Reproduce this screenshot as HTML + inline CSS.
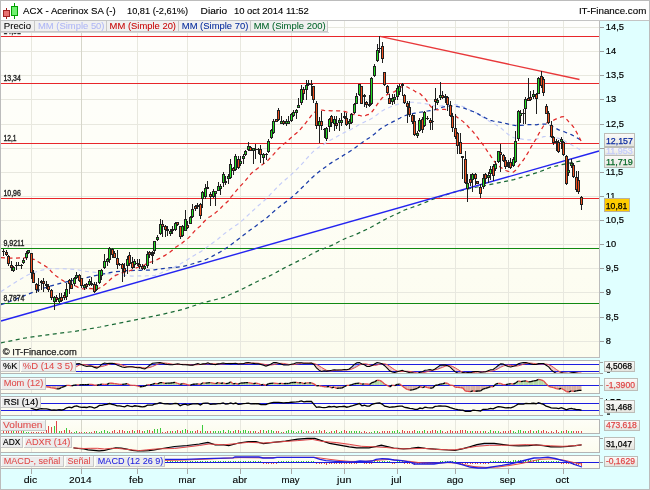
<!DOCTYPE html>
<html><head><meta charset="utf-8"><style>
html,body{margin:0;padding:0;background:#E0FFFF;}
svg{display:block;}
</style></head><body>
<svg width="650" height="490" viewBox="0 0 650 490">
<defs><linearGradient id="vbg" x1="0" y1="0" x2="0" y2="1"><stop offset="0" stop-color="#FBFBFA"/><stop offset="1" stop-color="#E4E4DE"/></linearGradient></defs>
<rect x="0" y="0" width="650" height="490" fill="#E0FFFF"/>
<rect x="0" y="0" width="650" height="20" fill="#FFFFFF"/>
<rect x="0" y="20" width="650" height="1" fill="#C4C4C4"/>
<defs><linearGradient id="cbg" x1="0" y1="0" x2="0" y2="1"><stop offset="0" stop-color="#FEFEFC"/><stop offset="0.5" stop-color="#FEFEF6"/><stop offset="1" stop-color="#FCFCEE"/></linearGradient><linearGradient id="pbg" x1="0" y1="0" x2="0" y2="1"><stop offset="0" stop-color="#FEFEF8"/><stop offset="1" stop-color="#FCFCEE"/></linearGradient></defs>
<rect x="1" y="21" width="598" height="336" fill="url(#cbg)"/>
<rect x="1" y="27" width="598" height="1" fill="#E8E8DF"/>
<rect x="1" y="51" width="598" height="1" fill="#E8E8DF"/>
<rect x="1" y="75" width="598" height="1" fill="#E8E8DF"/>
<rect x="1" y="99" width="598" height="1" fill="#E8E8DF"/>
<rect x="1" y="124" width="598" height="1" fill="#E8E8DF"/>
<rect x="1" y="148" width="598" height="1" fill="#E8E8DF"/>
<rect x="1" y="172" width="598" height="1" fill="#E8E8DF"/>
<rect x="1" y="196" width="598" height="1" fill="#E8E8DF"/>
<rect x="1" y="220" width="598" height="1" fill="#E8E8DF"/>
<rect x="1" y="244" width="598" height="1" fill="#E8E8DF"/>
<rect x="1" y="268" width="598" height="1" fill="#E8E8DF"/>
<rect x="1" y="292" width="598" height="1" fill="#E8E8DF"/>
<rect x="1" y="317" width="598" height="1" fill="#E8E8DF"/>
<rect x="1" y="341" width="598" height="1" fill="#E8E8DF"/>
<rect x="31" y="21" width="1" height="336" fill="#E8E8DF"/>
<rect x="81" y="21" width="1" height="336" fill="#D6D6CA"/>
<rect x="137" y="21" width="1" height="336" fill="#E8E8DF"/>
<rect x="187" y="21" width="1" height="336" fill="#E8E8DF"/>
<rect x="240" y="21" width="1" height="336" fill="#E8E8DF"/>
<rect x="291" y="21" width="1" height="336" fill="#E8E8DF"/>
<rect x="344" y="21" width="1" height="336" fill="#E8E8DF"/>
<rect x="397" y="21" width="1" height="336" fill="#E8E8DF"/>
<rect x="455" y="21" width="1" height="336" fill="#E8E8DF"/>
<rect x="508" y="21" width="1" height="336" fill="#E8E8DF"/>
<rect x="563" y="21" width="1" height="336" fill="#E8E8DF"/>
<rect x="1" y="36" width="598" height="1" fill="#E8262A"/>
<rect x="1" y="83" width="598" height="1" fill="#E8262A"/>
<rect x="1" y="143" width="598" height="1" fill="#E8262A"/>
<rect x="1" y="198" width="598" height="1" fill="#E8262A"/>
<rect x="1" y="248" width="598" height="1" fill="#118A11"/>
<rect x="1" y="303" width="598" height="1" fill="#118A11"/>
<polyline points="1.00,342.80 20.00,339.00 30.00,337.20 55.00,333.80 75.00,331.30 100.00,327.00 130.80,320.80 161.50,314.60 183.00,309.40 201.50,303.20 223.00,297.70 238.50,290.90 254.90,282.70 262.30,279.00 269.20,276.10 276.10,272.50 283.10,268.60 290.00,265.10 297.40,261.40 304.50,258.20 311.20,254.30 318.50,250.60 326.30,247.60 333.10,244.80 340.40,240.80 347.60,237.50 355.50,234.70 362.30,231.40 369.10,228.30 376.40,224.30 383.20,220.40 390.50,216.70 397.20,213.70 404.60,210.00 411.80,207.50 419.20,204.90 426.60,201.90 433.10,199.10 441.40,196.30 449.70,193.50 457.10,191.40 464.50,189.90 472.00,188.00 484.30,185.70 501.60,182.20 513.90,179.60 526.20,175.90 538.50,172.20 550.80,167.40 563.20,164.30 573.00,162.30 581.00,161.00" fill="none" stroke="#1A6A36" stroke-width="1.2" stroke-dasharray="4 3.5"/>
<polyline points="1.00,291.60 13.90,283.20 27.70,274.90 38.80,270.80 48.50,268.70 62.30,268.70 76.20,269.40 85.00,271.30 98.90,272.70 112.70,274.10 127.20,275.57 129.72,275.81 132.25,276.08 134.77,276.01 137.30,275.95 139.82,275.94 142.34,276.01 144.87,276.03 147.39,275.79 149.91,275.67 152.44,275.69 154.96,275.50 157.48,274.78 160.01,273.60 162.53,272.33 165.06,271.22 167.58,270.17 170.10,269.11 172.63,268.01 175.15,266.67 177.67,265.21 180.20,264.01 182.72,262.52 185.25,260.95 187.77,259.47 190.29,257.86 192.82,256.27 195.34,254.78 197.86,253.12 200.39,251.88 202.91,250.22 205.44,248.35 207.96,246.38 210.48,244.62 213.01,242.71 215.53,240.92 218.05,238.94 220.58,236.82 223.10,234.59 225.62,232.82 228.15,230.95 230.67,229.01 233.20,227.25 235.72,225.41 238.24,223.67 240.77,221.75 243.29,219.56 245.81,217.30 248.34,214.84 250.86,212.42 253.39,210.21 255.91,207.92 258.43,205.55 260.96,203.44 263.48,201.25 266.00,199.01 268.53,196.46 271.05,193.73 273.58,191.08 276.10,188.42 278.62,185.75 281.15,183.35 283.67,181.08 286.19,179.02 288.72,176.90 291.24,174.58 293.76,172.22 296.29,169.79 298.81,167.28 301.34,164.60 303.86,161.98 306.38,158.94 308.91,156.11 311.43,153.41 313.95,150.86 316.48,149.05 319.00,147.29 321.53,145.63 324.05,144.10 326.57,142.33 329.10,140.87 331.62,139.57 334.14,138.19 336.67,136.76 339.19,135.35 341.72,133.93 344.24,132.56 346.76,131.35 349.29,130.29 351.81,128.93 354.33,127.48 356.86,126.12 359.38,124.39 361.90,123.33 364.43,121.90 366.95,120.75 369.48,119.74 372.00,118.28 374.52,116.68 377.05,114.68 379.57,112.66 382.09,110.87 384.62,109.57 387.14,108.33 389.67,107.32 392.19,106.18 394.71,105.29 397.24,104.45 399.76,103.74 402.28,103.01 404.81,102.67 407.33,102.37 409.85,102.21 412.38,102.22 414.90,102.49 417.43,102.88 419.95,103.04 422.47,103.44 425.00,103.58 427.52,104.17 430.04,104.74 432.57,105.47 435.09,105.83 437.62,106.14 440.14,106.05 442.66,105.48 445.19,105.00 447.71,104.56 450.23,104.30 452.76,104.29 455.28,104.65 457.81,105.12 460.33,105.82 462.85,106.45 465.38,107.70 467.90,108.94 470.42,110.25 472.95,111.23 475.47,112.40 477.99,113.77 480.52,115.57 483.04,117.20 485.57,119.09 488.09,120.53 490.61,121.98 493.14,123.42 495.66,124.59 498.18,126.06 500.71,127.83 503.23,130.03 505.76,132.41 508.28,134.51 510.80,136.17 513.33,137.48 515.85,138.22 518.37,138.49 520.90,138.83 523.42,139.34 525.95,139.62 528.47,139.93 530.99,139.85 533.52,139.60 536.04,139.27 538.56,138.40 541.09,137.43 543.61,136.63 546.13,136.50 548.66,136.36 551.18,136.87 553.71,137.37 556.23,137.77 558.75,138.38 561.28,139.13 563.80,140.23 566.32,142.00 568.85,143.45 571.37,144.77 573.90,146.22 576.42,147.70 578.94,148.98 581.47,150.34" fill="none" stroke="#C4CCF8" stroke-width="1.15" stroke-dasharray="4 3.5"/>
<polyline points="1.00,304.70 13.90,299.90 27.70,294.30 41.60,288.80 55.40,284.60 69.30,281.20 83.10,278.40 98.90,274.80 112.70,272.00 126.60,270.60 140.40,270.30 154.30,269.90 168.10,267.90 177.67,267.10 180.20,266.89 182.72,266.48 185.25,265.84 187.77,265.27 190.29,264.56 192.82,263.75 195.34,262.95 197.86,262.10 200.39,261.48 202.91,260.61 205.44,259.71 207.96,258.49 210.48,257.27 213.01,255.85 215.53,254.51 218.05,253.13 220.58,251.72 223.10,250.12 225.62,248.58 228.15,246.85 230.67,244.96 233.20,243.11 235.72,241.09 238.24,239.18 240.77,237.24 243.29,235.34 245.81,233.45 248.34,231.40 250.86,229.58 253.39,227.77 255.91,225.88 258.43,223.92 260.96,222.06 263.48,220.17 266.00,218.36 268.53,216.32 271.05,214.01 273.58,211.66 276.10,209.53 278.62,207.39 281.15,205.39 283.67,203.45 286.19,201.63 288.72,199.72 291.24,197.67 293.76,195.48 296.29,193.27 298.81,190.93 301.34,188.32 303.86,185.96 306.38,183.41 308.91,180.78 311.43,178.26 313.95,175.93 316.48,173.93 319.00,171.81 321.53,169.81 324.05,168.04 326.57,166.23 329.10,164.31 331.62,162.62 334.14,160.92 336.67,159.52 339.19,158.00 341.72,156.44 344.24,154.84 346.76,153.32 349.29,151.75 351.81,150.20 354.33,148.47 356.86,146.46 359.38,144.44 361.90,142.79 364.43,140.92 366.95,139.31 369.48,137.82 372.00,135.94 374.52,133.94 377.05,131.57 379.57,129.51 382.09,127.68 384.62,126.20 387.14,124.71 389.67,123.46 392.19,122.12 394.71,120.85 397.24,119.46 399.76,118.20 402.28,116.81 404.81,115.75 407.33,114.93 409.85,114.14 412.38,113.64 414.90,113.17 417.43,112.76 419.95,112.25 422.47,111.95 425.00,111.46 427.52,111.00 430.04,110.63 432.57,110.23 435.09,109.55 437.62,108.76 440.14,107.92 442.66,107.12 445.19,106.48 447.71,106.12 450.23,106.05 452.76,106.14 455.28,106.38 457.81,106.73 460.33,107.17 462.85,107.69 465.38,108.57 467.90,109.56 470.42,110.57 472.95,111.49 475.47,112.55 477.99,113.89 480.52,115.33 483.04,116.65 485.57,118.00 488.09,119.31 490.61,120.29 493.14,121.00 495.66,121.60 498.18,121.96 500.71,122.32 503.23,122.79 505.76,123.47 508.28,124.06 510.80,124.76 513.33,125.23 515.85,125.51 518.37,125.38 520.90,125.33 523.42,125.17 525.95,124.86 528.47,124.67 530.99,124.60 533.52,124.57 536.04,124.77 538.56,124.40 541.09,124.27 543.61,124.10 546.13,124.22 548.66,124.86 551.18,125.88 553.71,127.21 556.23,128.56 558.75,129.88 561.28,130.66 563.80,131.55 566.32,132.70 568.85,133.74 571.37,134.69 573.90,135.96 576.42,137.45 578.94,138.98 581.47,140.44" fill="none" stroke="#1A3CA8" stroke-width="1.25" stroke-dasharray="4 3.5"/>
<polyline points="1.00,257.60 13.90,258.30 27.70,257.60 34.60,259.70 41.60,263.90 48.50,268.00 51.49,271.82 54.01,274.07 56.54,276.38 59.06,278.06 61.58,279.77 64.11,281.30 66.63,282.46 69.16,283.38 71.68,284.56 74.20,285.46 76.73,286.57 79.25,288.09 81.77,288.75 84.30,288.88 86.82,288.71 89.35,288.49 91.87,288.58 94.39,288.96 96.92,288.96 99.44,287.99 101.96,286.61 104.49,284.83 107.01,282.76 109.53,280.28 112.06,277.97 114.58,275.98 117.11,274.79 119.63,273.81 122.15,272.81 124.68,272.48 127.20,271.66 129.72,270.78 132.25,269.86 134.77,268.64 137.30,267.47 139.82,266.74 142.34,265.99 144.87,264.70 147.39,263.12 149.91,262.31 152.44,261.49 154.96,260.49 157.48,259.40 160.01,258.15 162.53,256.78 165.06,255.39 167.58,253.63 170.10,251.98 172.63,250.06 175.15,247.62 177.67,245.92 180.20,244.58 182.72,242.47 185.25,240.41 187.77,238.58 190.29,236.12 192.82,233.12 195.34,230.26 197.86,227.88 200.39,225.99 202.91,222.90 205.44,220.22 207.96,217.76 210.48,216.44 213.01,214.65 215.53,212.72 218.05,210.52 220.58,208.24 223.10,205.40 225.62,203.36 228.15,200.97 230.67,197.33 233.20,194.58 235.72,191.43 238.24,188.47 240.77,185.69 243.29,183.01 245.81,180.11 248.34,177.09 250.86,173.81 253.39,171.63 255.91,169.70 258.43,167.78 260.96,165.67 263.48,163.82 266.00,161.98 268.53,159.77 271.05,156.98 273.58,154.35 276.10,151.32 278.62,148.48 281.15,146.35 283.67,143.97 286.19,142.20 288.72,139.86 291.24,137.49 293.76,135.29 296.29,133.20 298.81,131.16 301.34,128.06 303.86,125.34 306.38,122.12 308.91,118.87 311.43,115.33 313.95,112.62 316.48,111.20 319.00,110.20 321.53,110.02 324.05,110.43 326.57,110.75 329.10,110.71 331.62,110.77 334.14,110.54 336.67,110.78 339.19,110.76 341.72,111.09 344.24,111.36 346.76,112.14 349.29,112.93 351.81,114.20 354.33,114.71 356.86,115.28 359.38,115.29 361.90,116.25 364.43,116.05 366.95,114.95 369.48,114.13 372.00,111.72 374.52,108.55 377.05,104.68 379.57,101.11 382.09,97.94 384.62,96.24 387.14,94.60 389.67,93.74 392.19,92.60 394.71,91.59 397.24,89.73 399.76,87.97 402.28,86.52 404.81,86.45 407.33,86.97 409.85,88.52 412.38,89.42 414.90,91.35 417.43,92.79 419.95,93.53 422.47,96.11 425.00,98.41 427.52,101.81 430.04,105.53 432.57,108.64 435.09,109.50 437.62,109.84 440.14,109.44 442.66,109.45 445.19,109.47 447.71,110.31 450.23,111.84 452.76,113.97 455.28,115.68 457.81,117.65 460.33,119.58 462.85,121.36 465.38,123.77 467.90,126.26 470.42,129.40 472.95,131.59 475.47,134.97 477.99,138.19 480.52,141.79 483.04,144.60 485.57,148.43 488.09,152.24 490.61,155.89 493.14,159.81 495.66,163.12 498.18,165.46 500.71,167.37 503.23,169.02 505.76,170.51 508.28,171.41 510.80,172.10 513.33,172.18 515.85,170.06 518.37,166.48 520.90,163.02 523.42,160.02 525.95,156.02 528.47,151.91 530.99,147.16 533.52,142.98 536.04,138.98 538.56,134.09 541.09,129.98 543.61,125.80 546.13,123.30 548.66,121.88 551.18,121.03 553.71,120.16 556.23,118.92 558.75,118.31 561.28,116.90 563.80,116.72 566.32,118.88 568.85,121.84 571.37,124.34 573.90,127.52 576.42,132.05 578.94,136.59 581.47,141.90" fill="none" stroke="#E02828" stroke-width="1.25" stroke-dasharray="4 3.5"/>
<line x1="379.9" y1="36.4" x2="579.5" y2="79.5" stroke="#E8383A" stroke-width="1.3"/>
<line x1="1" y1="321" x2="599" y2="151" stroke="#2424F0" stroke-width="1.4"/>
<g shape-rendering="crispEdges">
<rect x="3" y="249" width="1" height="7" fill="#202020"/>
<rect x="2" y="251" width="3" height="1" fill="#202020"/>
<rect x="6" y="250" width="1" height="6" fill="#202020"/>
<rect x="5" y="252" width="3" height="3" fill="#202020"/>
<rect x="6" y="253" width="1" height="1" fill="#F0501E"/>
<rect x="8" y="255" width="1" height="11" fill="#202020"/>
<rect x="7" y="256" width="3" height="8" fill="#202020"/>
<rect x="8" y="257" width="1" height="6" fill="#F0501E"/>
<rect x="11" y="261" width="1" height="10" fill="#202020"/>
<rect x="10" y="265" width="3" height="3" fill="#202020"/>
<rect x="11" y="266" width="1" height="1" fill="#F0501E"/>
<rect x="13" y="266" width="1" height="6" fill="#202020"/>
<rect x="12" y="267" width="3" height="4" fill="#202020"/>
<rect x="13" y="268" width="1" height="2" fill="#22DD22"/>
<rect x="16" y="262" width="1" height="8" fill="#202020"/>
<rect x="15" y="265" width="3" height="1" fill="#202020"/>
<rect x="18" y="262" width="1" height="4" fill="#202020"/>
<rect x="17" y="265" width="3" height="1" fill="#202020"/>
<rect x="21" y="264" width="1" height="5" fill="#202020"/>
<rect x="20" y="265" width="3" height="1" fill="#202020"/>
<rect x="23" y="258" width="1" height="6" fill="#202020"/>
<rect x="22" y="260" width="3" height="3" fill="#202020"/>
<rect x="23" y="261" width="1" height="1" fill="#22DD22"/>
<rect x="26" y="251" width="1" height="9" fill="#202020"/>
<rect x="25" y="253" width="3" height="5" fill="#202020"/>
<rect x="26" y="254" width="1" height="3" fill="#22DD22"/>
<rect x="28" y="250" width="1" height="4" fill="#202020"/>
<rect x="27" y="250" width="3" height="3" fill="#202020"/>
<rect x="28" y="251" width="1" height="1" fill="#22DD22"/>
<rect x="31" y="253" width="1" height="26" fill="#202020"/>
<rect x="30" y="253" width="3" height="20" fill="#202020"/>
<rect x="31" y="254" width="1" height="18" fill="#F0501E"/>
<rect x="33" y="270" width="1" height="13" fill="#202020"/>
<rect x="32" y="273" width="3" height="10" fill="#202020"/>
<rect x="33" y="274" width="1" height="8" fill="#F0501E"/>
<rect x="36" y="283" width="1" height="10" fill="#202020"/>
<rect x="35" y="284" width="3" height="6" fill="#202020"/>
<rect x="36" y="285" width="1" height="4" fill="#F0501E"/>
<rect x="38" y="278" width="1" height="14" fill="#202020"/>
<rect x="37" y="285" width="3" height="1" fill="#202020"/>
<rect x="41" y="280" width="1" height="10" fill="#202020"/>
<rect x="40" y="281" width="3" height="2" fill="#202020"/>
<rect x="43" y="278" width="1" height="14" fill="#202020"/>
<rect x="42" y="281" width="3" height="3" fill="#202020"/>
<rect x="43" y="282" width="1" height="1" fill="#F0501E"/>
<rect x="46" y="281" width="1" height="8" fill="#202020"/>
<rect x="45" y="284" width="3" height="2" fill="#202020"/>
<rect x="48" y="284" width="1" height="8" fill="#202020"/>
<rect x="47" y="286" width="3" height="4" fill="#202020"/>
<rect x="48" y="287" width="1" height="2" fill="#F0501E"/>
<rect x="51" y="289" width="1" height="11" fill="#202020"/>
<rect x="50" y="290" width="3" height="8" fill="#202020"/>
<rect x="51" y="291" width="1" height="6" fill="#F0501E"/>
<rect x="54" y="296" width="1" height="14" fill="#202020"/>
<rect x="53" y="297" width="3" height="5" fill="#202020"/>
<rect x="54" y="298" width="1" height="3" fill="#22DD22"/>
<rect x="56" y="295" width="1" height="7" fill="#202020"/>
<rect x="55" y="297" width="3" height="3" fill="#202020"/>
<rect x="56" y="298" width="1" height="1" fill="#F0501E"/>
<rect x="59" y="293" width="1" height="10" fill="#202020"/>
<rect x="58" y="298" width="3" height="4" fill="#202020"/>
<rect x="59" y="299" width="1" height="2" fill="#22DD22"/>
<rect x="61" y="293" width="1" height="9" fill="#202020"/>
<rect x="60" y="297" width="3" height="4" fill="#202020"/>
<rect x="61" y="298" width="1" height="2" fill="#F0501E"/>
<rect x="64" y="292" width="1" height="8" fill="#202020"/>
<rect x="63" y="295" width="3" height="3" fill="#202020"/>
<rect x="64" y="296" width="1" height="1" fill="#F0501E"/>
<rect x="66" y="283" width="1" height="17" fill="#202020"/>
<rect x="65" y="289" width="3" height="8" fill="#202020"/>
<rect x="66" y="290" width="1" height="6" fill="#22DD22"/>
<rect x="69" y="279" width="1" height="15" fill="#202020"/>
<rect x="68" y="280" width="3" height="4" fill="#202020"/>
<rect x="69" y="281" width="1" height="2" fill="#F0501E"/>
<rect x="71" y="278" width="1" height="11" fill="#202020"/>
<rect x="70" y="284" width="3" height="5" fill="#202020"/>
<rect x="71" y="285" width="1" height="3" fill="#F0501E"/>
<rect x="74" y="277" width="1" height="9" fill="#202020"/>
<rect x="73" y="278" width="3" height="6" fill="#202020"/>
<rect x="74" y="279" width="1" height="4" fill="#22DD22"/>
<rect x="76" y="272" width="1" height="7" fill="#202020"/>
<rect x="75" y="275" width="3" height="3" fill="#202020"/>
<rect x="76" y="276" width="1" height="1" fill="#22DD22"/>
<rect x="79" y="274" width="1" height="8" fill="#202020"/>
<rect x="78" y="275" width="3" height="6" fill="#202020"/>
<rect x="79" y="276" width="1" height="4" fill="#F0501E"/>
<rect x="81" y="278" width="1" height="10" fill="#202020"/>
<rect x="80" y="278" width="3" height="8" fill="#202020"/>
<rect x="81" y="279" width="1" height="6" fill="#F0501E"/>
<rect x="84" y="284" width="1" height="6" fill="#202020"/>
<rect x="83" y="285" width="3" height="3" fill="#202020"/>
<rect x="84" y="286" width="1" height="1" fill="#22DD22"/>
<rect x="86" y="283" width="1" height="6" fill="#202020"/>
<rect x="85" y="284" width="3" height="3" fill="#202020"/>
<rect x="86" y="285" width="1" height="1" fill="#F0501E"/>
<rect x="89" y="279" width="1" height="7" fill="#202020"/>
<rect x="88" y="281" width="3" height="4" fill="#202020"/>
<rect x="89" y="282" width="1" height="2" fill="#22DD22"/>
<rect x="91" y="277" width="1" height="9" fill="#202020"/>
<rect x="90" y="283" width="3" height="2" fill="#202020"/>
<rect x="94" y="282" width="1" height="11" fill="#202020"/>
<rect x="93" y="284" width="3" height="8" fill="#202020"/>
<rect x="94" y="285" width="1" height="6" fill="#F0501E"/>
<rect x="96" y="282" width="1" height="9" fill="#202020"/>
<rect x="95" y="285" width="3" height="5" fill="#202020"/>
<rect x="96" y="286" width="1" height="3" fill="#22DD22"/>
<rect x="99" y="270" width="1" height="14" fill="#202020"/>
<rect x="98" y="270" width="3" height="13" fill="#202020"/>
<rect x="99" y="271" width="1" height="11" fill="#22DD22"/>
<rect x="101" y="269" width="1" height="11" fill="#202020"/>
<rect x="100" y="270" width="3" height="6" fill="#202020"/>
<rect x="101" y="271" width="1" height="4" fill="#22DD22"/>
<rect x="104" y="254" width="1" height="15" fill="#202020"/>
<rect x="103" y="261" width="3" height="7" fill="#202020"/>
<rect x="104" y="262" width="1" height="5" fill="#22DD22"/>
<rect x="107" y="258" width="1" height="8" fill="#202020"/>
<rect x="106" y="259" width="3" height="3" fill="#202020"/>
<rect x="107" y="260" width="1" height="1" fill="#22DD22"/>
<rect x="109" y="247" width="1" height="16" fill="#202020"/>
<rect x="108" y="248" width="3" height="12" fill="#202020"/>
<rect x="109" y="249" width="1" height="10" fill="#22DD22"/>
<rect x="112" y="248" width="1" height="10" fill="#202020"/>
<rect x="111" y="249" width="3" height="6" fill="#202020"/>
<rect x="112" y="250" width="1" height="4" fill="#F0501E"/>
<rect x="114" y="251" width="1" height="7" fill="#202020"/>
<rect x="113" y="253" width="3" height="5" fill="#202020"/>
<rect x="114" y="254" width="1" height="3" fill="#F0501E"/>
<rect x="117" y="250" width="1" height="19" fill="#202020"/>
<rect x="116" y="258" width="3" height="7" fill="#202020"/>
<rect x="117" y="259" width="1" height="5" fill="#F0501E"/>
<rect x="119" y="263" width="1" height="3" fill="#202020"/>
<rect x="118" y="264" width="3" height="1" fill="#202020"/>
<rect x="122" y="263" width="1" height="19" fill="#202020"/>
<rect x="121" y="264" width="3" height="5" fill="#202020"/>
<rect x="122" y="265" width="1" height="3" fill="#F0501E"/>
<rect x="124" y="263" width="1" height="14" fill="#202020"/>
<rect x="123" y="268" width="3" height="4" fill="#202020"/>
<rect x="124" y="269" width="1" height="2" fill="#F0501E"/>
<rect x="127" y="256" width="1" height="18" fill="#202020"/>
<rect x="126" y="259" width="3" height="7" fill="#202020"/>
<rect x="127" y="260" width="1" height="5" fill="#22DD22"/>
<rect x="129" y="252" width="1" height="14" fill="#202020"/>
<rect x="128" y="255" width="3" height="9" fill="#202020"/>
<rect x="129" y="256" width="1" height="7" fill="#F0501E"/>
<rect x="132" y="257" width="1" height="12" fill="#202020"/>
<rect x="131" y="262" width="3" height="6" fill="#202020"/>
<rect x="132" y="263" width="1" height="4" fill="#F0501E"/>
<rect x="134" y="259" width="1" height="9" fill="#202020"/>
<rect x="133" y="261" width="3" height="4" fill="#202020"/>
<rect x="134" y="262" width="1" height="2" fill="#22DD22"/>
<rect x="137" y="259" width="1" height="7" fill="#202020"/>
<rect x="136" y="263" width="3" height="1" fill="#202020"/>
<rect x="139" y="259" width="1" height="10" fill="#202020"/>
<rect x="138" y="264" width="3" height="3" fill="#202020"/>
<rect x="139" y="265" width="1" height="1" fill="#F0501E"/>
<rect x="142" y="264" width="1" height="6" fill="#202020"/>
<rect x="141" y="266" width="3" height="3" fill="#202020"/>
<rect x="142" y="267" width="1" height="1" fill="#F0501E"/>
<rect x="144" y="265" width="1" height="5" fill="#202020"/>
<rect x="143" y="266" width="3" height="3" fill="#202020"/>
<rect x="144" y="267" width="1" height="1" fill="#22DD22"/>
<rect x="147" y="251" width="1" height="17" fill="#202020"/>
<rect x="146" y="254" width="3" height="12" fill="#202020"/>
<rect x="147" y="255" width="1" height="10" fill="#22DD22"/>
<rect x="149" y="251" width="1" height="7" fill="#202020"/>
<rect x="148" y="252" width="3" height="3" fill="#202020"/>
<rect x="149" y="253" width="1" height="1" fill="#F0501E"/>
<rect x="152" y="251" width="1" height="13" fill="#202020"/>
<rect x="151" y="252" width="3" height="4" fill="#202020"/>
<rect x="154" y="241" width="1" height="13" fill="#202020"/>
<rect x="153" y="241" width="3" height="10" fill="#202020"/>
<rect x="154" y="242" width="1" height="8" fill="#22DD22"/>
<rect x="157" y="235" width="1" height="6" fill="#202020"/>
<rect x="156" y="237" width="3" height="3" fill="#202020"/>
<rect x="157" y="238" width="1" height="1" fill="#22DD22"/>
<rect x="160" y="219" width="1" height="16" fill="#202020"/>
<rect x="159" y="224" width="3" height="10" fill="#202020"/>
<rect x="160" y="225" width="1" height="8" fill="#22DD22"/>
<rect x="162" y="220" width="1" height="17" fill="#202020"/>
<rect x="161" y="224" width="3" height="3" fill="#202020"/>
<rect x="162" y="225" width="1" height="1" fill="#F0501E"/>
<rect x="165" y="225" width="1" height="12" fill="#202020"/>
<rect x="164" y="226" width="3" height="4" fill="#202020"/>
<rect x="165" y="227" width="1" height="2" fill="#F0501E"/>
<rect x="167" y="226" width="1" height="10" fill="#202020"/>
<rect x="166" y="229" width="3" height="2" fill="#202020"/>
<rect x="170" y="229" width="1" height="7" fill="#202020"/>
<rect x="169" y="231" width="3" height="3" fill="#202020"/>
<rect x="170" y="232" width="1" height="1" fill="#22DD22"/>
<rect x="172" y="226" width="1" height="8" fill="#202020"/>
<rect x="171" y="229" width="3" height="2" fill="#202020"/>
<rect x="175" y="222" width="1" height="9" fill="#202020"/>
<rect x="174" y="223" width="3" height="7" fill="#202020"/>
<rect x="175" y="224" width="1" height="5" fill="#22DD22"/>
<rect x="177" y="222" width="1" height="4" fill="#202020"/>
<rect x="176" y="222" width="3" height="3" fill="#202020"/>
<rect x="177" y="223" width="1" height="1" fill="#F0501E"/>
<rect x="180" y="226" width="1" height="13" fill="#202020"/>
<rect x="179" y="226" width="3" height="11" fill="#202020"/>
<rect x="180" y="227" width="1" height="9" fill="#F0501E"/>
<rect x="182" y="225" width="1" height="12" fill="#202020"/>
<rect x="181" y="226" width="3" height="10" fill="#202020"/>
<rect x="182" y="227" width="1" height="8" fill="#22DD22"/>
<rect x="185" y="210" width="1" height="21" fill="#202020"/>
<rect x="184" y="219" width="3" height="12" fill="#202020"/>
<rect x="185" y="220" width="1" height="10" fill="#22DD22"/>
<rect x="187" y="221" width="1" height="8" fill="#202020"/>
<rect x="186" y="225" width="3" height="3" fill="#202020"/>
<rect x="187" y="226" width="1" height="1" fill="#F0501E"/>
<rect x="190" y="216" width="1" height="8" fill="#202020"/>
<rect x="189" y="217" width="3" height="7" fill="#202020"/>
<rect x="190" y="218" width="1" height="5" fill="#22DD22"/>
<rect x="192" y="204" width="1" height="14" fill="#202020"/>
<rect x="191" y="209" width="3" height="8" fill="#202020"/>
<rect x="192" y="210" width="1" height="6" fill="#22DD22"/>
<rect x="195" y="205" width="1" height="6" fill="#202020"/>
<rect x="194" y="206" width="3" height="3" fill="#202020"/>
<rect x="195" y="207" width="1" height="1" fill="#F0501E"/>
<rect x="197" y="203" width="1" height="6" fill="#202020"/>
<rect x="196" y="205" width="3" height="2" fill="#202020"/>
<rect x="200" y="203" width="1" height="16" fill="#202020"/>
<rect x="199" y="204" width="3" height="12" fill="#202020"/>
<rect x="200" y="205" width="1" height="10" fill="#F0501E"/>
<rect x="202" y="191" width="1" height="17" fill="#202020"/>
<rect x="201" y="192" width="3" height="7" fill="#202020"/>
<rect x="202" y="193" width="1" height="5" fill="#22DD22"/>
<rect x="205" y="184" width="1" height="15" fill="#202020"/>
<rect x="204" y="188" width="3" height="9" fill="#202020"/>
<rect x="205" y="189" width="1" height="7" fill="#22DD22"/>
<rect x="207" y="181" width="1" height="8" fill="#202020"/>
<rect x="206" y="187" width="3" height="2" fill="#202020"/>
<rect x="210" y="192" width="1" height="14" fill="#202020"/>
<rect x="209" y="194" width="3" height="3" fill="#202020"/>
<rect x="210" y="195" width="1" height="1" fill="#F0501E"/>
<rect x="213" y="189" width="1" height="9" fill="#202020"/>
<rect x="212" y="191" width="3" height="6" fill="#202020"/>
<rect x="213" y="192" width="1" height="4" fill="#22DD22"/>
<rect x="215" y="191" width="1" height="15" fill="#202020"/>
<rect x="214" y="191" width="3" height="3" fill="#202020"/>
<rect x="215" y="192" width="1" height="1" fill="#22DD22"/>
<rect x="218" y="182" width="1" height="9" fill="#202020"/>
<rect x="217" y="186" width="3" height="5" fill="#202020"/>
<rect x="218" y="187" width="1" height="3" fill="#22DD22"/>
<rect x="220" y="184" width="1" height="11" fill="#202020"/>
<rect x="219" y="186" width="3" height="3" fill="#202020"/>
<rect x="220" y="187" width="1" height="1" fill="#22DD22"/>
<rect x="223" y="172" width="1" height="15" fill="#202020"/>
<rect x="222" y="174" width="3" height="9" fill="#202020"/>
<rect x="223" y="175" width="1" height="7" fill="#22DD22"/>
<rect x="225" y="176" width="1" height="9" fill="#202020"/>
<rect x="224" y="181" width="3" height="2" fill="#202020"/>
<rect x="228" y="174" width="1" height="10" fill="#202020"/>
<rect x="227" y="176" width="3" height="3" fill="#202020"/>
<rect x="228" y="177" width="1" height="1" fill="#22DD22"/>
<rect x="230" y="159" width="1" height="20" fill="#202020"/>
<rect x="229" y="164" width="3" height="14" fill="#202020"/>
<rect x="230" y="165" width="1" height="12" fill="#22DD22"/>
<rect x="233" y="167" width="1" height="8" fill="#202020"/>
<rect x="232" y="168" width="3" height="3" fill="#202020"/>
<rect x="233" y="169" width="1" height="1" fill="#F0501E"/>
<rect x="235" y="154" width="1" height="17" fill="#202020"/>
<rect x="234" y="156" width="3" height="14" fill="#202020"/>
<rect x="235" y="157" width="1" height="12" fill="#22DD22"/>
<rect x="238" y="156" width="1" height="13" fill="#202020"/>
<rect x="237" y="159" width="3" height="9" fill="#202020"/>
<rect x="238" y="160" width="1" height="7" fill="#F0501E"/>
<rect x="240" y="156" width="1" height="10" fill="#202020"/>
<rect x="239" y="161" width="3" height="3" fill="#202020"/>
<rect x="240" y="162" width="1" height="1" fill="#22DD22"/>
<rect x="243" y="154" width="1" height="10" fill="#202020"/>
<rect x="242" y="156" width="3" height="3" fill="#202020"/>
<rect x="243" y="157" width="1" height="1" fill="#22DD22"/>
<rect x="245" y="150" width="1" height="6" fill="#202020"/>
<rect x="244" y="151" width="3" height="4" fill="#202020"/>
<rect x="245" y="152" width="1" height="2" fill="#22DD22"/>
<rect x="248" y="142" width="1" height="9" fill="#202020"/>
<rect x="247" y="146" width="3" height="4" fill="#202020"/>
<rect x="248" y="147" width="1" height="2" fill="#22DD22"/>
<rect x="250" y="146" width="1" height="5" fill="#202020"/>
<rect x="249" y="147" width="3" height="4" fill="#202020"/>
<rect x="250" y="148" width="1" height="2" fill="#F0501E"/>
<rect x="253" y="149" width="1" height="15" fill="#202020"/>
<rect x="252" y="148" width="3" height="3" fill="#202020"/>
<rect x="253" y="149" width="1" height="1" fill="#22DD22"/>
<rect x="255" y="144" width="1" height="15" fill="#202020"/>
<rect x="254" y="149" width="3" height="1" fill="#202020"/>
<rect x="258" y="148" width="1" height="6" fill="#202020"/>
<rect x="257" y="149" width="3" height="1" fill="#202020"/>
<rect x="260" y="145" width="1" height="18" fill="#202020"/>
<rect x="259" y="149" width="3" height="6" fill="#202020"/>
<rect x="260" y="150" width="1" height="4" fill="#F0501E"/>
<rect x="263" y="153" width="1" height="11" fill="#202020"/>
<rect x="262" y="154" width="3" height="4" fill="#202020"/>
<rect x="263" y="155" width="1" height="2" fill="#22DD22"/>
<rect x="266" y="153" width="1" height="7" fill="#202020"/>
<rect x="265" y="154" width="3" height="1" fill="#202020"/>
<rect x="268" y="139" width="1" height="14" fill="#202020"/>
<rect x="267" y="141" width="3" height="11" fill="#202020"/>
<rect x="268" y="142" width="1" height="9" fill="#22DD22"/>
<rect x="271" y="129" width="1" height="10" fill="#202020"/>
<rect x="270" y="130" width="3" height="8" fill="#202020"/>
<rect x="271" y="131" width="1" height="6" fill="#22DD22"/>
<rect x="273" y="119" width="1" height="15" fill="#202020"/>
<rect x="272" y="121" width="3" height="12" fill="#202020"/>
<rect x="273" y="122" width="1" height="10" fill="#22DD22"/>
<rect x="276" y="119" width="1" height="3" fill="#202020"/>
<rect x="275" y="119" width="3" height="3" fill="#202020"/>
<rect x="276" y="120" width="1" height="1" fill="#F0501E"/>
<rect x="278" y="108" width="1" height="13" fill="#202020"/>
<rect x="277" y="110" width="3" height="10" fill="#202020"/>
<rect x="278" y="111" width="1" height="8" fill="#F0501E"/>
<rect x="281" y="116" width="1" height="8" fill="#202020"/>
<rect x="280" y="121" width="3" height="3" fill="#202020"/>
<rect x="281" y="122" width="1" height="1" fill="#22DD22"/>
<rect x="283" y="120" width="1" height="5" fill="#202020"/>
<rect x="282" y="121" width="3" height="3" fill="#202020"/>
<rect x="283" y="122" width="1" height="1" fill="#F0501E"/>
<rect x="286" y="119" width="1" height="7" fill="#202020"/>
<rect x="285" y="121" width="3" height="3" fill="#202020"/>
<rect x="286" y="122" width="1" height="1" fill="#22DD22"/>
<rect x="288" y="116" width="1" height="8" fill="#202020"/>
<rect x="287" y="121" width="3" height="3" fill="#202020"/>
<rect x="288" y="122" width="1" height="1" fill="#22DD22"/>
<rect x="291" y="113" width="1" height="9" fill="#202020"/>
<rect x="290" y="114" width="3" height="7" fill="#202020"/>
<rect x="291" y="115" width="1" height="5" fill="#22DD22"/>
<rect x="293" y="110" width="1" height="7" fill="#202020"/>
<rect x="292" y="112" width="3" height="4" fill="#202020"/>
<rect x="293" y="113" width="1" height="2" fill="#22DD22"/>
<rect x="296" y="109" width="1" height="10" fill="#202020"/>
<rect x="295" y="110" width="3" height="3" fill="#202020"/>
<rect x="296" y="111" width="1" height="1" fill="#22DD22"/>
<rect x="298" y="98" width="1" height="10" fill="#202020"/>
<rect x="297" y="105" width="3" height="3" fill="#202020"/>
<rect x="298" y="106" width="1" height="1" fill="#22DD22"/>
<rect x="301" y="85" width="1" height="20" fill="#202020"/>
<rect x="300" y="89" width="3" height="14" fill="#202020"/>
<rect x="301" y="90" width="1" height="12" fill="#22DD22"/>
<rect x="303" y="87" width="1" height="13" fill="#202020"/>
<rect x="302" y="89" width="3" height="5" fill="#202020"/>
<rect x="303" y="90" width="1" height="3" fill="#F0501E"/>
<rect x="306" y="80" width="1" height="20" fill="#202020"/>
<rect x="305" y="85" width="3" height="5" fill="#202020"/>
<rect x="306" y="86" width="1" height="3" fill="#22DD22"/>
<rect x="308" y="80" width="1" height="6" fill="#202020"/>
<rect x="307" y="83" width="3" height="2" fill="#202020"/>
<rect x="311" y="80" width="1" height="16" fill="#202020"/>
<rect x="310" y="84" width="3" height="1" fill="#202020"/>
<rect x="313" y="86" width="1" height="17" fill="#202020"/>
<rect x="312" y="86" width="3" height="14" fill="#202020"/>
<rect x="313" y="87" width="1" height="12" fill="#F0501E"/>
<rect x="316" y="101" width="1" height="28" fill="#202020"/>
<rect x="315" y="103" width="3" height="23" fill="#202020"/>
<rect x="316" y="104" width="1" height="21" fill="#F0501E"/>
<rect x="319" y="117" width="1" height="26" fill="#202020"/>
<rect x="318" y="121" width="3" height="5" fill="#202020"/>
<rect x="319" y="122" width="1" height="3" fill="#22DD22"/>
<rect x="321" y="111" width="1" height="19" fill="#202020"/>
<rect x="320" y="121" width="3" height="5" fill="#202020"/>
<rect x="321" y="122" width="1" height="3" fill="#F0501E"/>
<rect x="324" y="128" width="1" height="10" fill="#202020"/>
<rect x="323" y="129" width="3" height="1" fill="#202020"/>
<rect x="326" y="127" width="1" height="14" fill="#202020"/>
<rect x="325" y="128" width="3" height="11" fill="#202020"/>
<rect x="326" y="129" width="1" height="9" fill="#22DD22"/>
<rect x="329" y="118" width="1" height="14" fill="#202020"/>
<rect x="328" y="119" width="3" height="8" fill="#202020"/>
<rect x="329" y="120" width="1" height="6" fill="#22DD22"/>
<rect x="331" y="115" width="1" height="12" fill="#202020"/>
<rect x="330" y="116" width="3" height="7" fill="#202020"/>
<rect x="331" y="117" width="1" height="5" fill="#F0501E"/>
<rect x="334" y="116" width="1" height="15" fill="#202020"/>
<rect x="333" y="119" width="3" height="5" fill="#202020"/>
<rect x="334" y="120" width="1" height="3" fill="#22DD22"/>
<rect x="336" y="116" width="1" height="13" fill="#202020"/>
<rect x="335" y="123" width="3" height="3" fill="#202020"/>
<rect x="336" y="124" width="1" height="1" fill="#F0501E"/>
<rect x="339" y="118" width="1" height="13" fill="#202020"/>
<rect x="338" y="120" width="3" height="3" fill="#202020"/>
<rect x="339" y="121" width="1" height="1" fill="#22DD22"/>
<rect x="341" y="113" width="1" height="13" fill="#202020"/>
<rect x="340" y="120" width="3" height="3" fill="#202020"/>
<rect x="341" y="121" width="1" height="1" fill="#22DD22"/>
<rect x="344" y="112" width="1" height="7" fill="#202020"/>
<rect x="343" y="116" width="3" height="2" fill="#202020"/>
<rect x="346" y="113" width="1" height="13" fill="#202020"/>
<rect x="345" y="118" width="3" height="7" fill="#202020"/>
<rect x="346" y="119" width="1" height="5" fill="#F0501E"/>
<rect x="349" y="119" width="1" height="10" fill="#202020"/>
<rect x="348" y="121" width="3" height="3" fill="#202020"/>
<rect x="349" y="122" width="1" height="1" fill="#22DD22"/>
<rect x="351" y="113" width="1" height="11" fill="#202020"/>
<rect x="350" y="114" width="3" height="9" fill="#202020"/>
<rect x="351" y="115" width="1" height="7" fill="#22DD22"/>
<rect x="354" y="103" width="1" height="11" fill="#202020"/>
<rect x="353" y="104" width="3" height="9" fill="#202020"/>
<rect x="354" y="105" width="1" height="7" fill="#22DD22"/>
<rect x="356" y="93" width="1" height="11" fill="#202020"/>
<rect x="355" y="96" width="3" height="8" fill="#202020"/>
<rect x="356" y="97" width="1" height="6" fill="#22DD22"/>
<rect x="359" y="84" width="1" height="12" fill="#202020"/>
<rect x="358" y="84" width="3" height="11" fill="#202020"/>
<rect x="359" y="85" width="1" height="9" fill="#22DD22"/>
<rect x="361" y="86" width="1" height="18" fill="#202020"/>
<rect x="360" y="86" width="3" height="18" fill="#202020"/>
<rect x="361" y="87" width="1" height="16" fill="#F0501E"/>
<rect x="364" y="94" width="1" height="13" fill="#202020"/>
<rect x="363" y="95" width="3" height="2" fill="#202020"/>
<rect x="366" y="101" width="1" height="7" fill="#202020"/>
<rect x="365" y="102" width="3" height="3" fill="#202020"/>
<rect x="366" y="103" width="1" height="1" fill="#F0501E"/>
<rect x="369" y="95" width="1" height="12" fill="#202020"/>
<rect x="368" y="104" width="3" height="2" fill="#202020"/>
<rect x="371" y="77" width="1" height="28" fill="#202020"/>
<rect x="370" y="78" width="3" height="26" fill="#202020"/>
<rect x="371" y="79" width="1" height="24" fill="#22DD22"/>
<rect x="374" y="64" width="1" height="13" fill="#202020"/>
<rect x="373" y="66" width="3" height="10" fill="#202020"/>
<rect x="374" y="67" width="1" height="8" fill="#22DD22"/>
<rect x="377" y="44" width="1" height="18" fill="#202020"/>
<rect x="376" y="50" width="3" height="11" fill="#202020"/>
<rect x="377" y="51" width="1" height="9" fill="#22DD22"/>
<rect x="379" y="36" width="1" height="17" fill="#202020"/>
<rect x="378" y="48" width="3" height="1" fill="#202020"/>
<rect x="382" y="42" width="1" height="21" fill="#202020"/>
<rect x="381" y="46" width="3" height="13" fill="#202020"/>
<rect x="382" y="47" width="1" height="11" fill="#F0501E"/>
<rect x="384" y="72" width="1" height="14" fill="#202020"/>
<rect x="383" y="72" width="3" height="13" fill="#202020"/>
<rect x="384" y="73" width="1" height="11" fill="#F0501E"/>
<rect x="387" y="85" width="1" height="9" fill="#202020"/>
<rect x="386" y="86" width="3" height="7" fill="#202020"/>
<rect x="387" y="87" width="1" height="5" fill="#F0501E"/>
<rect x="389" y="94" width="1" height="10" fill="#202020"/>
<rect x="388" y="98" width="3" height="6" fill="#202020"/>
<rect x="389" y="99" width="1" height="4" fill="#F0501E"/>
<rect x="392" y="94" width="1" height="11" fill="#202020"/>
<rect x="391" y="98" width="3" height="4" fill="#202020"/>
<rect x="392" y="99" width="1" height="2" fill="#22DD22"/>
<rect x="394" y="94" width="1" height="10" fill="#202020"/>
<rect x="393" y="97" width="3" height="3" fill="#202020"/>
<rect x="394" y="98" width="1" height="1" fill="#22DD22"/>
<rect x="397" y="85" width="1" height="15" fill="#202020"/>
<rect x="396" y="88" width="3" height="9" fill="#202020"/>
<rect x="397" y="89" width="1" height="7" fill="#22DD22"/>
<rect x="399" y="84" width="1" height="11" fill="#202020"/>
<rect x="398" y="86" width="3" height="6" fill="#202020"/>
<rect x="399" y="87" width="1" height="4" fill="#22DD22"/>
<rect x="402" y="83" width="1" height="13" fill="#202020"/>
<rect x="401" y="84" width="3" height="2" fill="#202020"/>
<rect x="404" y="94" width="1" height="10" fill="#202020"/>
<rect x="403" y="95" width="3" height="8" fill="#202020"/>
<rect x="404" y="96" width="1" height="6" fill="#F0501E"/>
<rect x="407" y="101" width="1" height="22" fill="#202020"/>
<rect x="406" y="103" width="3" height="4" fill="#202020"/>
<rect x="407" y="104" width="1" height="2" fill="#F0501E"/>
<rect x="409" y="101" width="1" height="16" fill="#202020"/>
<rect x="408" y="107" width="3" height="8" fill="#202020"/>
<rect x="409" y="108" width="1" height="6" fill="#F0501E"/>
<rect x="412" y="114" width="1" height="10" fill="#202020"/>
<rect x="411" y="115" width="3" height="7" fill="#202020"/>
<rect x="412" y="116" width="1" height="5" fill="#F0501E"/>
<rect x="414" y="115" width="1" height="21" fill="#202020"/>
<rect x="413" y="121" width="3" height="14" fill="#202020"/>
<rect x="414" y="122" width="1" height="12" fill="#F0501E"/>
<rect x="417" y="131" width="1" height="7" fill="#202020"/>
<rect x="416" y="133" width="3" height="3" fill="#202020"/>
<rect x="417" y="134" width="1" height="1" fill="#22DD22"/>
<rect x="419" y="118" width="1" height="14" fill="#202020"/>
<rect x="418" y="120" width="3" height="11" fill="#202020"/>
<rect x="419" y="121" width="1" height="9" fill="#22DD22"/>
<rect x="422" y="117" width="1" height="16" fill="#202020"/>
<rect x="421" y="119" width="3" height="11" fill="#202020"/>
<rect x="422" y="120" width="1" height="9" fill="#F0501E"/>
<rect x="424" y="111" width="1" height="16" fill="#202020"/>
<rect x="423" y="112" width="3" height="14" fill="#202020"/>
<rect x="424" y="113" width="1" height="12" fill="#22DD22"/>
<rect x="427" y="116" width="1" height="4" fill="#202020"/>
<rect x="426" y="118" width="3" height="1" fill="#202020"/>
<rect x="430" y="118" width="1" height="12" fill="#202020"/>
<rect x="429" y="120" width="3" height="3" fill="#202020"/>
<rect x="430" y="121" width="1" height="1" fill="#F0501E"/>
<rect x="432" y="106" width="1" height="24" fill="#202020"/>
<rect x="431" y="121" width="3" height="1" fill="#202020"/>
<rect x="435" y="88" width="1" height="22" fill="#202020"/>
<rect x="434" y="99" width="3" height="3" fill="#202020"/>
<rect x="435" y="100" width="1" height="1" fill="#F0501E"/>
<rect x="437" y="98" width="1" height="7" fill="#202020"/>
<rect x="436" y="100" width="3" height="3" fill="#202020"/>
<rect x="437" y="101" width="1" height="1" fill="#22DD22"/>
<rect x="440" y="82" width="1" height="18" fill="#202020"/>
<rect x="439" y="95" width="3" height="3" fill="#202020"/>
<rect x="440" y="96" width="1" height="1" fill="#22DD22"/>
<rect x="442" y="91" width="1" height="8" fill="#202020"/>
<rect x="441" y="95" width="3" height="3" fill="#202020"/>
<rect x="442" y="96" width="1" height="1" fill="#F0501E"/>
<rect x="445" y="94" width="1" height="9" fill="#202020"/>
<rect x="444" y="96" width="3" height="2" fill="#202020"/>
<rect x="447" y="96" width="1" height="15" fill="#202020"/>
<rect x="446" y="97" width="3" height="8" fill="#202020"/>
<rect x="447" y="98" width="1" height="6" fill="#F0501E"/>
<rect x="450" y="101" width="1" height="16" fill="#202020"/>
<rect x="449" y="105" width="3" height="11" fill="#202020"/>
<rect x="450" y="106" width="1" height="9" fill="#F0501E"/>
<rect x="452" y="113" width="1" height="19" fill="#202020"/>
<rect x="451" y="116" width="3" height="12" fill="#202020"/>
<rect x="452" y="117" width="1" height="10" fill="#F0501E"/>
<rect x="455" y="114" width="1" height="25" fill="#202020"/>
<rect x="454" y="128" width="3" height="9" fill="#202020"/>
<rect x="455" y="129" width="1" height="7" fill="#F0501E"/>
<rect x="457" y="132" width="1" height="22" fill="#202020"/>
<rect x="456" y="133" width="3" height="13" fill="#202020"/>
<rect x="457" y="134" width="1" height="11" fill="#F0501E"/>
<rect x="460" y="133" width="1" height="21" fill="#202020"/>
<rect x="459" y="142" width="3" height="12" fill="#202020"/>
<rect x="460" y="143" width="1" height="10" fill="#F0501E"/>
<rect x="462" y="156" width="1" height="23" fill="#202020"/>
<rect x="461" y="156" width="3" height="2" fill="#202020"/>
<rect x="465" y="151" width="1" height="33" fill="#202020"/>
<rect x="464" y="159" width="3" height="24" fill="#202020"/>
<rect x="465" y="160" width="1" height="22" fill="#F0501E"/>
<rect x="467" y="174" width="1" height="28" fill="#202020"/>
<rect x="466" y="183" width="3" height="6" fill="#202020"/>
<rect x="467" y="184" width="1" height="4" fill="#22DD22"/>
<rect x="470" y="174" width="1" height="12" fill="#202020"/>
<rect x="469" y="179" width="3" height="4" fill="#202020"/>
<rect x="470" y="180" width="1" height="2" fill="#F0501E"/>
<rect x="472" y="173" width="1" height="19" fill="#202020"/>
<rect x="471" y="174" width="3" height="6" fill="#202020"/>
<rect x="472" y="175" width="1" height="4" fill="#22DD22"/>
<rect x="475" y="173" width="1" height="12" fill="#202020"/>
<rect x="474" y="174" width="3" height="5" fill="#202020"/>
<rect x="475" y="175" width="1" height="3" fill="#F0501E"/>
<rect x="477" y="181" width="1" height="3" fill="#202020"/>
<rect x="476" y="181" width="3" height="3" fill="#202020"/>
<rect x="477" y="182" width="1" height="1" fill="#F0501E"/>
<rect x="480" y="184" width="1" height="14" fill="#202020"/>
<rect x="479" y="187" width="3" height="7" fill="#202020"/>
<rect x="480" y="188" width="1" height="5" fill="#F0501E"/>
<rect x="483" y="174" width="1" height="15" fill="#202020"/>
<rect x="482" y="178" width="3" height="9" fill="#202020"/>
<rect x="483" y="179" width="1" height="7" fill="#22DD22"/>
<rect x="485" y="173" width="1" height="11" fill="#202020"/>
<rect x="484" y="174" width="3" height="5" fill="#202020"/>
<rect x="485" y="175" width="1" height="3" fill="#F0501E"/>
<rect x="488" y="172" width="1" height="11" fill="#202020"/>
<rect x="487" y="175" width="3" height="3" fill="#202020"/>
<rect x="488" y="176" width="1" height="1" fill="#22DD22"/>
<rect x="490" y="166" width="1" height="14" fill="#202020"/>
<rect x="489" y="169" width="3" height="5" fill="#202020"/>
<rect x="490" y="170" width="1" height="3" fill="#22DD22"/>
<rect x="493" y="164" width="1" height="17" fill="#202020"/>
<rect x="492" y="166" width="3" height="10" fill="#202020"/>
<rect x="493" y="167" width="1" height="8" fill="#F0501E"/>
<rect x="495" y="161" width="1" height="10" fill="#202020"/>
<rect x="494" y="164" width="3" height="5" fill="#202020"/>
<rect x="495" y="165" width="1" height="3" fill="#22DD22"/>
<rect x="498" y="151" width="1" height="12" fill="#202020"/>
<rect x="497" y="151" width="3" height="11" fill="#202020"/>
<rect x="498" y="152" width="1" height="9" fill="#22DD22"/>
<rect x="500" y="144" width="1" height="28" fill="#202020"/>
<rect x="499" y="152" width="3" height="3" fill="#202020"/>
<rect x="500" y="153" width="1" height="1" fill="#F0501E"/>
<rect x="503" y="154" width="1" height="8" fill="#202020"/>
<rect x="502" y="155" width="3" height="6" fill="#202020"/>
<rect x="503" y="156" width="1" height="4" fill="#F0501E"/>
<rect x="505" y="157" width="1" height="12" fill="#202020"/>
<rect x="504" y="160" width="3" height="7" fill="#202020"/>
<rect x="505" y="161" width="1" height="5" fill="#F0501E"/>
<rect x="508" y="160" width="1" height="8" fill="#202020"/>
<rect x="507" y="162" width="3" height="5" fill="#202020"/>
<rect x="510" y="158" width="1" height="11" fill="#202020"/>
<rect x="509" y="162" width="3" height="6" fill="#202020"/>
<rect x="510" y="163" width="1" height="4" fill="#F0501E"/>
<rect x="513" y="157" width="1" height="10" fill="#202020"/>
<rect x="512" y="159" width="3" height="7" fill="#202020"/>
<rect x="513" y="160" width="1" height="5" fill="#22DD22"/>
<rect x="515" y="131" width="1" height="32" fill="#202020"/>
<rect x="514" y="141" width="3" height="21" fill="#202020"/>
<rect x="515" y="142" width="1" height="19" fill="#22DD22"/>
<rect x="518" y="110" width="1" height="31" fill="#202020"/>
<rect x="517" y="111" width="3" height="28" fill="#202020"/>
<rect x="518" y="112" width="1" height="26" fill="#22DD22"/>
<rect x="520" y="110" width="1" height="13" fill="#202020"/>
<rect x="519" y="113" width="3" height="3" fill="#202020"/>
<rect x="520" y="114" width="1" height="1" fill="#22DD22"/>
<rect x="523" y="109" width="1" height="15" fill="#202020"/>
<rect x="522" y="113" width="3" height="1" fill="#202020"/>
<rect x="525" y="97" width="1" height="27" fill="#202020"/>
<rect x="524" y="99" width="3" height="10" fill="#202020"/>
<rect x="525" y="100" width="1" height="8" fill="#22DD22"/>
<rect x="528" y="78" width="1" height="23" fill="#202020"/>
<rect x="527" y="98" width="3" height="3" fill="#202020"/>
<rect x="528" y="99" width="1" height="1" fill="#F0501E"/>
<rect x="530" y="91" width="1" height="10" fill="#202020"/>
<rect x="529" y="97" width="3" height="3" fill="#202020"/>
<rect x="530" y="98" width="1" height="1" fill="#F0501E"/>
<rect x="533" y="90" width="1" height="9" fill="#202020"/>
<rect x="532" y="94" width="3" height="3" fill="#202020"/>
<rect x="533" y="95" width="1" height="1" fill="#22DD22"/>
<rect x="536" y="93" width="1" height="21" fill="#202020"/>
<rect x="535" y="94" width="3" height="5" fill="#202020"/>
<rect x="536" y="95" width="1" height="3" fill="#F0501E"/>
<rect x="538" y="77" width="1" height="17" fill="#202020"/>
<rect x="537" y="78" width="3" height="16" fill="#202020"/>
<rect x="538" y="79" width="1" height="14" fill="#22DD22"/>
<rect x="541" y="71" width="1" height="17" fill="#202020"/>
<rect x="540" y="76" width="3" height="10" fill="#202020"/>
<rect x="541" y="77" width="1" height="8" fill="#F0501E"/>
<rect x="543" y="77" width="1" height="19" fill="#202020"/>
<rect x="542" y="79" width="3" height="14" fill="#202020"/>
<rect x="543" y="80" width="1" height="12" fill="#F0501E"/>
<rect x="546" y="104" width="1" height="10" fill="#202020"/>
<rect x="545" y="106" width="3" height="8" fill="#202020"/>
<rect x="546" y="107" width="1" height="6" fill="#F0501E"/>
<rect x="548" y="111" width="1" height="13" fill="#202020"/>
<rect x="547" y="113" width="3" height="10" fill="#202020"/>
<rect x="548" y="114" width="1" height="8" fill="#F0501E"/>
<rect x="551" y="121" width="1" height="17" fill="#202020"/>
<rect x="550" y="125" width="3" height="12" fill="#202020"/>
<rect x="551" y="126" width="1" height="10" fill="#F0501E"/>
<rect x="553" y="136" width="1" height="9" fill="#202020"/>
<rect x="552" y="137" width="3" height="6" fill="#202020"/>
<rect x="553" y="138" width="1" height="4" fill="#F0501E"/>
<rect x="556" y="139" width="1" height="12" fill="#202020"/>
<rect x="555" y="141" width="3" height="2" fill="#202020"/>
<rect x="558" y="140" width="1" height="13" fill="#202020"/>
<rect x="557" y="142" width="3" height="10" fill="#202020"/>
<rect x="558" y="143" width="1" height="8" fill="#F0501E"/>
<rect x="561" y="137" width="1" height="12" fill="#202020"/>
<rect x="560" y="139" width="3" height="3" fill="#202020"/>
<rect x="561" y="140" width="1" height="1" fill="#22DD22"/>
<rect x="563" y="141" width="1" height="15" fill="#202020"/>
<rect x="562" y="142" width="3" height="13" fill="#202020"/>
<rect x="563" y="143" width="1" height="11" fill="#F0501E"/>
<rect x="566" y="155" width="1" height="30" fill="#202020"/>
<rect x="565" y="156" width="3" height="28" fill="#202020"/>
<rect x="566" y="157" width="1" height="26" fill="#F0501E"/>
<rect x="568" y="159" width="1" height="17" fill="#202020"/>
<rect x="567" y="170" width="3" height="3" fill="#202020"/>
<rect x="568" y="171" width="1" height="1" fill="#22DD22"/>
<rect x="571" y="159" width="1" height="9" fill="#202020"/>
<rect x="570" y="163" width="3" height="3" fill="#202020"/>
<rect x="571" y="164" width="1" height="1" fill="#22DD22"/>
<rect x="573" y="163" width="1" height="15" fill="#202020"/>
<rect x="572" y="165" width="3" height="12" fill="#202020"/>
<rect x="573" y="166" width="1" height="10" fill="#F0501E"/>
<rect x="576" y="171" width="1" height="21" fill="#202020"/>
<rect x="575" y="177" width="3" height="13" fill="#202020"/>
<rect x="576" y="178" width="1" height="11" fill="#F0501E"/>
<rect x="578" y="171" width="1" height="23" fill="#202020"/>
<rect x="577" y="180" width="3" height="12" fill="#202020"/>
<rect x="578" y="181" width="1" height="10" fill="#F0501E"/>
<rect x="581" y="196" width="1" height="14" fill="#202020"/>
<rect x="580" y="197" width="3" height="8" fill="#202020"/>
<rect x="581" y="198" width="1" height="6" fill="#F0501E"/>
</g>
<g font-family='"Liberation Sans", Arial, sans-serif'>
<text x="3.4" y="81" font-size="8.3" fill="#202020" text-anchor="start" textLength="17.5" lengthAdjust="spacingAndGlyphs" stroke="#202020" stroke-width="0.35">13,34</text>
<text x="3.4" y="141" font-size="8.3" fill="#202020" text-anchor="start" textLength="13.1" lengthAdjust="spacingAndGlyphs" stroke="#202020" stroke-width="0.35">12,1</text>
<text x="3.4" y="196" font-size="8.3" fill="#202020" text-anchor="start" textLength="17.5" lengthAdjust="spacingAndGlyphs" stroke="#202020" stroke-width="0.35">10,96</text>
<text x="3.4" y="246" font-size="8.3" fill="#202020" text-anchor="start" textLength="21" lengthAdjust="spacingAndGlyphs" stroke="#202020" stroke-width="0.35">9,9211</text>
<text x="3.4" y="301" font-size="8.3" fill="#202020" text-anchor="start" textLength="21" lengthAdjust="spacingAndGlyphs" stroke="#202020" stroke-width="0.35">8,7874</text>
<text x="3.4" y="34" font-size="8.3" fill="#202020" text-anchor="start" textLength="17.5" lengthAdjust="spacingAndGlyphs" stroke="#202020" stroke-width="0.35">14,31</text>
<text x="2.8" y="354.5" font-size="9.5" fill="#202020" text-anchor="start" textLength="74" lengthAdjust="spacingAndGlyphs" stroke="#202020" stroke-width="0.25">© IT-Finance.com</text>
<rect x="1" y="21" width="34" height="11" fill="#F0F0F0"/>
<rect x="34" y="21" width="1" height="11" fill="#C8C8C8"/>
<rect x="1" y="31" width="34" height="1" fill="#C8C8C8"/>
<text x="3.8" y="28.8" font-size="8.8" fill="#000000" text-anchor="start" textLength="27.3" lengthAdjust="spacingAndGlyphs" stroke="#000000" stroke-width="0.05">Precio</text>
<rect x="35" y="21" width="72" height="11" fill="#F0F0F0"/>
<rect x="106" y="21" width="1" height="11" fill="#C8C8C8"/>
<rect x="35" y="31" width="72" height="1" fill="#C8C8C8"/>
<text x="38" y="28.8" font-size="8.8" fill="#AEB6F6" text-anchor="start" textLength="66.5" lengthAdjust="spacingAndGlyphs" stroke="#AEB6F6" stroke-width="0.05">MM (Simple 50)</text>
<rect x="107" y="21" width="72" height="11" fill="#F0F0F0"/>
<rect x="178" y="21" width="1" height="11" fill="#C8C8C8"/>
<rect x="107" y="31" width="72" height="1" fill="#C8C8C8"/>
<text x="109.6" y="28.8" font-size="8.8" fill="#C80000" text-anchor="start" textLength="66.4" lengthAdjust="spacingAndGlyphs" stroke="#C80000" stroke-width="0.05">MM (Simple 20)</text>
<rect x="179" y="21" width="72" height="11" fill="#F0F0F0"/>
<rect x="250" y="21" width="1" height="11" fill="#C8C8C8"/>
<rect x="179" y="31" width="72" height="1" fill="#C8C8C8"/>
<text x="181.8" y="28.8" font-size="8.8" fill="#00289C" text-anchor="start" textLength="66.5" lengthAdjust="spacingAndGlyphs" stroke="#00289C" stroke-width="0.05">MM (Simple 70)</text>
<rect x="251" y="21" width="77" height="11" fill="#F0F0F0"/>
<rect x="327" y="21" width="1" height="11" fill="#C8C8C8"/>
<rect x="251" y="31" width="77" height="1" fill="#C8C8C8"/>
<text x="253.7" y="28.8" font-size="8.8" fill="#006428" text-anchor="start" textLength="71.9" lengthAdjust="spacingAndGlyphs" stroke="#006428" stroke-width="0.05">MM (Simple 200)</text>
<rect x="1" y="32" width="328" height="1" fill="#D8D8D8"/>
<rect x="599" y="21" width="1" height="337" fill="#BCBCBC"/>
<rect x="1" y="357" width="599" height="1" fill="#BCBCBC"/>
<rect x="600" y="27" width="4" height="1" fill="#A0A0A0"/>
<text x="605.8" y="29.6" font-size="9.3" fill="#000" text-anchor="start" stroke="#000" stroke-width="0.2">14,5</text>
<rect x="600" y="51" width="4" height="1" fill="#A0A0A0"/>
<text x="605.8" y="53.6" font-size="9.3" fill="#000" text-anchor="start" stroke="#000" stroke-width="0.2">14</text>
<rect x="600" y="75" width="4" height="1" fill="#A0A0A0"/>
<text x="605.8" y="77.6" font-size="9.3" fill="#000" text-anchor="start" stroke="#000" stroke-width="0.2">13,5</text>
<rect x="600" y="99" width="4" height="1" fill="#A0A0A0"/>
<text x="605.8" y="101.6" font-size="9.3" fill="#000" text-anchor="start" stroke="#000" stroke-width="0.2">13</text>
<rect x="600" y="124" width="4" height="1" fill="#A0A0A0"/>
<text x="605.8" y="126.6" font-size="9.3" fill="#000" text-anchor="start" stroke="#000" stroke-width="0.2">12,5</text>
<rect x="600" y="148" width="4" height="1" fill="#A0A0A0"/>
<text x="605.8" y="150.6" font-size="9.3" fill="#000" text-anchor="start" stroke="#000" stroke-width="0.2">12</text>
<rect x="600" y="172" width="4" height="1" fill="#A0A0A0"/>
<text x="605.8" y="174.6" font-size="9.3" fill="#000" text-anchor="start" stroke="#000" stroke-width="0.2">11,5</text>
<rect x="600" y="196" width="4" height="1" fill="#A0A0A0"/>
<text x="605.8" y="198.6" font-size="9.3" fill="#000" text-anchor="start" stroke="#000" stroke-width="0.2">11</text>
<rect x="600" y="220" width="4" height="1" fill="#A0A0A0"/>
<text x="605.8" y="222.6" font-size="9.3" fill="#000" text-anchor="start" stroke="#000" stroke-width="0.2">10,5</text>
<rect x="600" y="244" width="4" height="1" fill="#A0A0A0"/>
<text x="605.8" y="246.6" font-size="9.3" fill="#000" text-anchor="start" stroke="#000" stroke-width="0.2">10</text>
<rect x="600" y="268" width="4" height="1" fill="#A0A0A0"/>
<text x="605.8" y="270.6" font-size="9.3" fill="#000" text-anchor="start" stroke="#000" stroke-width="0.2">9,5</text>
<rect x="600" y="292" width="4" height="1" fill="#A0A0A0"/>
<text x="605.8" y="294.6" font-size="9.3" fill="#000" text-anchor="start" stroke="#000" stroke-width="0.2">9</text>
<rect x="600" y="317" width="4" height="1" fill="#A0A0A0"/>
<text x="605.8" y="319.6" font-size="9.3" fill="#000" text-anchor="start" stroke="#000" stroke-width="0.2">8,5</text>
<rect x="600" y="341" width="4" height="1" fill="#A0A0A0"/>
<text x="605.8" y="343.6" font-size="9.3" fill="#000" text-anchor="start" stroke="#000" stroke-width="0.2">8</text>
<rect x="604.5" y="133.5" width="30" height="13" fill="url(#vbg)" stroke="#BDBDB8" stroke-width="1"/>
<text x="605.9" y="144.0" font-size="9.4" fill="#0A2AA0" text-anchor="start" textLength="27" lengthAdjust="spacingAndGlyphs" stroke="#0A2AA0" stroke-width="0.25">12,157</text>
<rect x="604.5" y="147.5" width="30" height="8" fill="url(#vbg)" stroke="#BDBDB8" stroke-width="1"/>
<text x="605.9" y="153.0" font-size="9.4" fill="#C4CCFA" text-anchor="start" stroke="#C4CCFA" stroke-width="0.25"></text>
<text x="605.9" y="153.7" font-size="9.4" fill="#C4CCFA" text-anchor="start" textLength="27" lengthAdjust="spacingAndGlyphs" stroke="#C4CCFA" stroke-width="0.25">11,953</text>
<rect x="604.5" y="155.5" width="30" height="12" fill="url(#vbg)" stroke="#BDBDB8" stroke-width="1"/>
<text x="605.9" y="165.0" font-size="9.4" fill="#0A6A2A" text-anchor="start" textLength="27" lengthAdjust="spacingAndGlyphs" stroke="#0A6A2A" stroke-width="0.25">11,719</text>
<rect x="604.5" y="198.5" width="25" height="13" fill="#FFCC00" stroke="#B8B0A0"/>
<text x="605.8" y="208.9" font-size="9.4" fill="#000" text-anchor="start" textLength="21.6" lengthAdjust="spacingAndGlyphs" stroke="#000" stroke-width="0.25">10,81</text>
<rect x="1" y="360" width="598" height="14" fill="url(#pbg)"/>
<rect x="1" y="360" width="599" height="1" fill="#B4B4B4"/>
<rect x="1" y="373" width="599" height="1" fill="#B4B4B4"/>
<rect x="599" y="360" width="1" height="14" fill="#B4B4B4"/>
<rect x="31" y="361" width="1" height="12" fill="#E8E8DF"/>
<rect x="81" y="361" width="1" height="12" fill="#D6D6CA"/>
<rect x="137" y="361" width="1" height="12" fill="#E8E8DF"/>
<rect x="187" y="361" width="1" height="12" fill="#E8E8DF"/>
<rect x="240" y="361" width="1" height="12" fill="#E8E8DF"/>
<rect x="291" y="361" width="1" height="12" fill="#E8E8DF"/>
<rect x="344" y="361" width="1" height="12" fill="#E8E8DF"/>
<rect x="397" y="361" width="1" height="12" fill="#E8E8DF"/>
<rect x="455" y="361" width="1" height="12" fill="#E8E8DF"/>
<rect x="508" y="361" width="1" height="12" fill="#E8E8DF"/>
<rect x="563" y="361" width="1" height="12" fill="#E8E8DF"/>
<rect x="1" y="377" width="598" height="17" fill="url(#pbg)"/>
<rect x="1" y="377" width="599" height="1" fill="#B4B4B4"/>
<rect x="1" y="393" width="599" height="1" fill="#B4B4B4"/>
<rect x="599" y="377" width="1" height="17" fill="#B4B4B4"/>
<rect x="31" y="378" width="1" height="15" fill="#E8E8DF"/>
<rect x="81" y="378" width="1" height="15" fill="#D6D6CA"/>
<rect x="137" y="378" width="1" height="15" fill="#E8E8DF"/>
<rect x="187" y="378" width="1" height="15" fill="#E8E8DF"/>
<rect x="240" y="378" width="1" height="15" fill="#E8E8DF"/>
<rect x="291" y="378" width="1" height="15" fill="#E8E8DF"/>
<rect x="344" y="378" width="1" height="15" fill="#E8E8DF"/>
<rect x="397" y="378" width="1" height="15" fill="#E8E8DF"/>
<rect x="455" y="378" width="1" height="15" fill="#E8E8DF"/>
<rect x="508" y="378" width="1" height="15" fill="#E8E8DF"/>
<rect x="563" y="378" width="1" height="15" fill="#E8E8DF"/>
<rect x="1" y="396" width="598" height="20" fill="url(#pbg)"/>
<rect x="1" y="396" width="599" height="1" fill="#B4B4B4"/>
<rect x="1" y="415" width="599" height="1" fill="#B4B4B4"/>
<rect x="599" y="396" width="1" height="20" fill="#B4B4B4"/>
<rect x="31" y="397" width="1" height="18" fill="#E8E8DF"/>
<rect x="81" y="397" width="1" height="18" fill="#D6D6CA"/>
<rect x="137" y="397" width="1" height="18" fill="#E8E8DF"/>
<rect x="187" y="397" width="1" height="18" fill="#E8E8DF"/>
<rect x="240" y="397" width="1" height="18" fill="#E8E8DF"/>
<rect x="291" y="397" width="1" height="18" fill="#E8E8DF"/>
<rect x="344" y="397" width="1" height="18" fill="#E8E8DF"/>
<rect x="397" y="397" width="1" height="18" fill="#E8E8DF"/>
<rect x="455" y="397" width="1" height="18" fill="#E8E8DF"/>
<rect x="508" y="397" width="1" height="18" fill="#E8E8DF"/>
<rect x="563" y="397" width="1" height="18" fill="#E8E8DF"/>
<rect x="1" y="419" width="598" height="15" fill="url(#pbg)"/>
<rect x="1" y="419" width="599" height="1" fill="#B4B4B4"/>
<rect x="1" y="433" width="599" height="1" fill="#B4B4B4"/>
<rect x="599" y="419" width="1" height="15" fill="#B4B4B4"/>
<rect x="31" y="420" width="1" height="13" fill="#E8E8DF"/>
<rect x="81" y="420" width="1" height="13" fill="#D6D6CA"/>
<rect x="137" y="420" width="1" height="13" fill="#E8E8DF"/>
<rect x="187" y="420" width="1" height="13" fill="#E8E8DF"/>
<rect x="240" y="420" width="1" height="13" fill="#E8E8DF"/>
<rect x="291" y="420" width="1" height="13" fill="#E8E8DF"/>
<rect x="344" y="420" width="1" height="13" fill="#E8E8DF"/>
<rect x="397" y="420" width="1" height="13" fill="#E8E8DF"/>
<rect x="455" y="420" width="1" height="13" fill="#E8E8DF"/>
<rect x="508" y="420" width="1" height="13" fill="#E8E8DF"/>
<rect x="563" y="420" width="1" height="13" fill="#E8E8DF"/>
<rect x="1" y="436" width="598" height="17" fill="url(#pbg)"/>
<rect x="1" y="436" width="599" height="1" fill="#B4B4B4"/>
<rect x="1" y="452" width="599" height="1" fill="#B4B4B4"/>
<rect x="599" y="436" width="1" height="17" fill="#B4B4B4"/>
<rect x="31" y="437" width="1" height="15" fill="#E8E8DF"/>
<rect x="81" y="437" width="1" height="15" fill="#D6D6CA"/>
<rect x="137" y="437" width="1" height="15" fill="#E8E8DF"/>
<rect x="187" y="437" width="1" height="15" fill="#E8E8DF"/>
<rect x="240" y="437" width="1" height="15" fill="#E8E8DF"/>
<rect x="291" y="437" width="1" height="15" fill="#E8E8DF"/>
<rect x="344" y="437" width="1" height="15" fill="#E8E8DF"/>
<rect x="397" y="437" width="1" height="15" fill="#E8E8DF"/>
<rect x="455" y="437" width="1" height="15" fill="#E8E8DF"/>
<rect x="508" y="437" width="1" height="15" fill="#E8E8DF"/>
<rect x="563" y="437" width="1" height="15" fill="#E8E8DF"/>
<rect x="1" y="455" width="598" height="14" fill="url(#pbg)"/>
<rect x="1" y="455" width="599" height="1" fill="#B4B4B4"/>
<rect x="1" y="468" width="599" height="1" fill="#B4B4B4"/>
<rect x="599" y="455" width="1" height="14" fill="#B4B4B4"/>
<rect x="31" y="456" width="1" height="12" fill="#E8E8DF"/>
<rect x="81" y="456" width="1" height="12" fill="#D6D6CA"/>
<rect x="137" y="456" width="1" height="12" fill="#E8E8DF"/>
<rect x="187" y="456" width="1" height="12" fill="#E8E8DF"/>
<rect x="240" y="456" width="1" height="12" fill="#E8E8DF"/>
<rect x="291" y="456" width="1" height="12" fill="#E8E8DF"/>
<rect x="344" y="456" width="1" height="12" fill="#E8E8DF"/>
<rect x="397" y="456" width="1" height="12" fill="#E8E8DF"/>
<rect x="455" y="456" width="1" height="12" fill="#E8E8DF"/>
<rect x="508" y="456" width="1" height="12" fill="#E8E8DF"/>
<rect x="563" y="456" width="1" height="12" fill="#E8E8DF"/>
<defs><clipPath id="cp_k"><rect x="1" y="361" width="598" height="12"/></clipPath><clipPath id="cp_mom"><rect x="1" y="378" width="598" height="15"/></clipPath><clipPath id="cp_rsi"><rect x="1" y="397" width="598" height="18"/></clipPath><clipPath id="cp_vol"><rect x="1" y="420" width="598" height="13"/></clipPath><clipPath id="cp_adx"><rect x="1" y="437" width="598" height="15"/></clipPath><clipPath id="cp_macd"><rect x="1" y="456" width="598" height="12"/></clipPath><clipPath id="cp_k2"><rect x="76" y="361" width="523" height="12"/></clipPath></defs>
<rect x="76" y="364" width="523" height="1" fill="#1C1CE0"/>
<rect x="76" y="371" width="523" height="1" fill="#1C1CE0"/>
<g clip-path="url(#cp_k2)">
<polygon points="3.54,364.70 3.54,364.57 6.06,365.38 6.06,364.62" fill="#F4C4C4"/>
<polygon points="6.06,364.62 6.06,365.38 8.59,367.68 8.59,365.26" fill="#F4C4C4"/>
<polygon points="8.59,365.26 8.59,367.68 11.11,370.08 11.11,366.38" fill="#F4C4C4"/>
<polygon points="11.11,366.38 11.11,370.08 13.63,371.76 13.63,367.89" fill="#F4C4C4"/>
<polygon points="13.63,367.89 13.63,371.76 16.16,371.39 16.16,369.26" fill="#F4C4C4"/>
<polygon points="16.16,369.26 16.16,371.39 18.68,371.05 18.68,370.39" fill="#F4C4C4"/>
<polygon points="18.68,370.39 18.68,371.05 21.21,370.84 21.21,371.02" fill="#F4C4C4"/>
<polygon points="21.21,371.02 21.21,370.84 23.73,370.04 23.73,371.01" fill="#B4BCE4"/>
<polygon points="23.73,371.01 23.73,370.04 26.25,368.15 26.25,370.29" fill="#B4BCE4"/>
<polygon points="26.25,370.29 26.25,368.15 28.78,365.98 28.78,369.21" fill="#B4BCE4"/>
<polygon points="28.78,369.21 28.78,365.98 31.30,367.05 31.30,368.41" fill="#B4BCE4"/>
<polygon points="31.30,368.41 31.30,367.05 33.82,369.94 33.82,368.23" fill="#F4C4C4"/>
<polygon points="33.82,368.23 33.82,369.94 36.35,372.97 36.35,368.82" fill="#F4C4C4"/>
<polygon points="36.35,368.82 36.35,372.97 38.87,373.03 38.87,369.79" fill="#F4C4C4"/>
<polygon points="38.87,369.79 38.87,373.03 41.39,372.13 41.39,371.02" fill="#F4C4C4"/>
<polygon points="41.39,371.02 41.39,372.13 43.92,371.56 43.92,371.92" fill="#F4C4C4"/>
<polygon points="43.92,371.92 43.92,371.56 46.44,371.54 46.44,372.24" fill="#B4BCE4"/>
<polygon points="46.44,372.24 46.44,371.54 48.97,372.25 48.97,372.10" fill="#B4BCE4"/>
<polygon points="48.97,372.10 48.97,372.25 51.49,372.84 51.49,372.06" fill="#F4C4C4"/>
<polygon points="51.49,372.06 51.49,372.84 54.01,372.69 54.01,372.17" fill="#F4C4C4"/>
<polygon points="54.01,372.17 54.01,372.69 56.54,372.33 56.54,372.33" fill="#F4C4C4"/>
<polygon points="56.54,372.33 56.54,372.33 59.06,371.74 59.06,372.37" fill="#B4BCE4"/>
<polygon points="59.06,372.37 59.06,371.74 61.58,372.03 61.58,372.33" fill="#B4BCE4"/>
<polygon points="61.58,372.33 61.58,372.03 64.11,371.78 64.11,372.12" fill="#B4BCE4"/>
<polygon points="64.11,372.12 64.11,371.78 66.63,370.45 66.63,371.67" fill="#B4BCE4"/>
<polygon points="66.63,371.67 66.63,370.45 69.16,367.81 69.16,370.76" fill="#B4BCE4"/>
<polygon points="69.16,370.76 69.16,367.81 71.68,366.07 71.68,369.63" fill="#B4BCE4"/>
<polygon points="71.68,369.63 71.68,366.07 74.20,364.34 74.20,368.09" fill="#B4BCE4"/>
<polygon points="74.20,368.09 74.20,364.34 76.73,363.87 76.73,366.51" fill="#B4BCE4"/>
<polygon points="76.73,366.51 76.73,363.87 79.25,363.45 79.25,365.11" fill="#B4BCE4"/>
<polygon points="79.25,365.11 79.25,363.45 81.77,364.80 81.77,364.50" fill="#B4BCE4"/>
<polygon points="81.77,364.50 81.77,364.80 84.30,365.85 84.30,364.46" fill="#F4C4C4"/>
<polygon points="84.30,364.46 84.30,365.85 86.82,366.46 86.82,364.89" fill="#F4C4C4"/>
<polygon points="86.82,364.89 86.82,366.46 89.35,366.09 89.35,365.33" fill="#F4C4C4"/>
<polygon points="89.35,365.33 89.35,366.09 91.87,366.28 91.87,365.90" fill="#F4C4C4"/>
<polygon points="91.87,365.90 91.87,366.28 94.39,367.38 94.39,366.41" fill="#F4C4C4"/>
<polygon points="94.39,366.41 94.39,367.38 96.92,368.08 96.92,366.86" fill="#F4C4C4"/>
<polygon points="96.92,366.86 96.92,368.08 99.44,366.58 99.44,366.88" fill="#F4C4C4"/>
<polygon points="99.44,366.88 99.44,366.58 101.96,364.10 101.96,366.48" fill="#B4BCE4"/>
<polygon points="101.96,366.48 101.96,364.10 104.49,363.02 104.49,365.83" fill="#B4BCE4"/>
<polygon points="104.49,365.83 104.49,363.02 107.01,363.46 107.01,365.05" fill="#B4BCE4"/>
<polygon points="107.01,365.05 107.01,363.46 109.53,363.37 109.53,364.11" fill="#B4BCE4"/>
<polygon points="109.53,364.11 109.53,363.37 112.06,363.26 112.06,363.44" fill="#B4BCE4"/>
<polygon points="112.06,363.44 112.06,363.26 114.58,363.67 114.58,363.36" fill="#F4C4C4"/>
<polygon points="114.58,363.36 114.58,363.67 117.11,365.13 117.11,363.78" fill="#F4C4C4"/>
<polygon points="117.11,363.78 117.11,365.13 119.63,365.99 119.63,364.28" fill="#F4C4C4"/>
<polygon points="119.63,364.28 119.63,365.99 122.15,366.96 122.15,365.00" fill="#F4C4C4"/>
<polygon points="122.15,365.00 122.15,366.96 124.68,367.56 124.68,365.86" fill="#F4C4C4"/>
<polygon points="124.68,365.86 124.68,367.56 127.20,367.08 127.20,366.54" fill="#F4C4C4"/>
<polygon points="127.20,366.54 127.20,367.08 129.72,366.68 129.72,366.86" fill="#F4C4C4"/>
<polygon points="129.72,366.86 129.72,366.68 132.25,366.77 132.25,367.01" fill="#B4BCE4"/>
<polygon points="132.25,367.01 132.25,366.77 134.77,367.28 134.77,367.07" fill="#B4BCE4"/>
<polygon points="134.77,367.07 134.77,367.28 137.30,367.65 137.30,367.09" fill="#F4C4C4"/>
<polygon points="137.30,367.09 137.30,367.65 139.82,367.59 139.82,367.19" fill="#F4C4C4"/>
<polygon points="139.82,367.19 139.82,367.59 142.34,368.58 142.34,367.57" fill="#F4C4C4"/>
<polygon points="142.34,367.57 142.34,368.58 144.87,368.84 144.87,367.99" fill="#F4C4C4"/>
<polygon points="144.87,367.99 144.87,368.84 147.39,367.06 147.39,367.94" fill="#B4BCE4"/>
<polygon points="147.39,367.94 147.39,367.06 149.91,365.04 149.91,367.42" fill="#B4BCE4"/>
<polygon points="149.91,367.42 149.91,365.04 152.44,363.32 152.44,366.57" fill="#B4BCE4"/>
<polygon points="152.44,366.57 152.44,363.32 154.96,362.98 154.96,365.45" fill="#B4BCE4"/>
<polygon points="154.96,365.45 154.96,362.98 157.48,362.68 157.48,364.21" fill="#B4BCE4"/>
<polygon points="157.48,364.21 157.48,362.68 160.01,362.63 160.01,363.33" fill="#B4BCE4"/>
<polygon points="160.01,363.33 160.01,362.63 162.53,363.23 162.53,362.97" fill="#B4BCE4"/>
<polygon points="162.53,362.97 162.53,363.23 165.06,363.91 165.06,363.08" fill="#F4C4C4"/>
<polygon points="165.06,363.08 165.06,363.91 167.58,364.41 167.58,363.37" fill="#F4C4C4"/>
<polygon points="167.58,363.37 167.58,364.41 170.10,364.74 170.10,363.78" fill="#F4C4C4"/>
<polygon points="170.10,363.78 170.10,364.74 172.63,364.77 172.63,364.21" fill="#F4C4C4"/>
<polygon points="172.63,364.21 172.63,364.77 175.15,364.25 175.15,364.42" fill="#F4C4C4"/>
<polygon points="175.15,364.42 175.15,364.25 177.67,363.75 177.67,364.38" fill="#B4BCE4"/>
<polygon points="177.67,364.38 177.67,363.75 180.20,364.33 180.20,364.37" fill="#B4BCE4"/>
<polygon points="180.20,364.37 180.20,364.33 182.72,364.63 182.72,364.35" fill="#F4C4C4"/>
<polygon points="182.72,364.35 182.72,364.63 185.25,364.83 185.25,364.36" fill="#F4C4C4"/>
<polygon points="185.25,364.36 185.25,364.83 187.77,364.89 187.77,364.49" fill="#F4C4C4"/>
<polygon points="187.77,364.49 187.77,364.89 190.29,365.19 190.29,364.77" fill="#F4C4C4"/>
<polygon points="190.29,364.77 190.29,365.19 192.82,365.13 192.82,364.93" fill="#F4C4C4"/>
<polygon points="192.82,364.93 192.82,365.13 195.34,364.20 195.34,364.85" fill="#B4BCE4"/>
<polygon points="195.34,364.85 195.34,364.20 197.86,363.62 197.86,364.61" fill="#B4BCE4"/>
<polygon points="197.86,364.61 197.86,363.62 200.39,364.47 200.39,364.52" fill="#B4BCE4"/>
<polygon points="200.39,364.52 200.39,364.47 202.91,363.89 202.91,364.26" fill="#B4BCE4"/>
<polygon points="202.91,364.26 202.91,363.89 205.44,363.80 205.44,364.00" fill="#B4BCE4"/>
<polygon points="205.44,364.00 205.44,363.80 207.96,362.81 207.96,363.72" fill="#B4BCE4"/>
<polygon points="207.96,363.72 207.96,362.81 210.48,363.87 210.48,363.77" fill="#B4BCE4"/>
<polygon points="210.48,363.77 210.48,363.87 213.01,364.34 213.01,363.74" fill="#F4C4C4"/>
<polygon points="213.01,363.74 213.01,364.34 215.53,364.61 215.53,363.89" fill="#F4C4C4"/>
<polygon points="215.53,363.89 215.53,364.61 218.05,363.88 218.05,363.90" fill="#F4C4C4"/>
<polygon points="218.05,363.90 218.05,363.88 220.58,363.57 220.58,364.05" fill="#B4BCE4"/>
<polygon points="220.58,364.05 220.58,363.57 223.10,362.93 223.10,363.87" fill="#B4BCE4"/>
<polygon points="223.10,363.87 223.10,362.93 225.62,363.40 225.62,363.68" fill="#B4BCE4"/>
<polygon points="225.62,363.68 225.62,363.40 228.15,363.41 228.15,363.44" fill="#B4BCE4"/>
<polygon points="228.15,363.44 228.15,363.41 230.67,363.63 230.67,363.39" fill="#F4C4C4"/>
<polygon points="230.67,363.39 230.67,363.63 233.20,363.54 233.20,363.38" fill="#F4C4C4"/>
<polygon points="233.20,363.38 233.20,363.54 235.72,363.26 235.72,363.45" fill="#B4BCE4"/>
<polygon points="235.72,363.45 235.72,363.26 238.24,363.97 238.24,363.56" fill="#F4C4C4"/>
<polygon points="238.24,363.56 238.24,363.97 240.77,363.75 240.77,363.63" fill="#F4C4C4"/>
<polygon points="240.77,363.63 240.77,363.75 243.29,363.70 243.29,363.64" fill="#F4C4C4"/>
<polygon points="243.29,363.64 243.29,363.70 245.81,362.75 245.81,363.49" fill="#B4BCE4"/>
<polygon points="245.81,363.49 245.81,362.75 248.34,362.43 248.34,363.32" fill="#B4BCE4"/>
<polygon points="248.34,363.32 248.34,362.43 250.86,362.98 250.86,363.12" fill="#B4BCE4"/>
<polygon points="250.86,363.12 250.86,362.98 253.39,363.37 253.39,363.05" fill="#F4C4C4"/>
<polygon points="253.39,363.05 253.39,363.37 255.91,363.78 255.91,363.06" fill="#F4C4C4"/>
<polygon points="255.91,363.06 255.91,363.78 258.43,363.80 258.43,363.27" fill="#F4C4C4"/>
<polygon points="258.43,363.27 258.43,363.80 260.96,364.53 260.96,363.69" fill="#F4C4C4"/>
<polygon points="260.96,363.69 260.96,364.53 263.48,365.23 263.48,364.14" fill="#F4C4C4"/>
<polygon points="263.48,364.14 263.48,365.23 266.00,366.09 266.00,364.69" fill="#F4C4C4"/>
<polygon points="266.00,364.69 266.00,366.09 268.53,365.21 268.53,364.97" fill="#F4C4C4"/>
<polygon points="268.53,364.97 268.53,365.21 271.05,364.02 271.05,365.02" fill="#B4BCE4"/>
<polygon points="271.05,365.02 271.05,364.02 273.58,362.63 273.58,364.64" fill="#B4BCE4"/>
<polygon points="273.58,364.64 273.58,362.63 276.10,362.47 276.10,364.09" fill="#B4BCE4"/>
<polygon points="276.10,364.09 276.10,362.47 278.62,363.20 278.62,363.51" fill="#B4BCE4"/>
<polygon points="278.62,363.51 278.62,363.20 281.15,364.04 281.15,363.27" fill="#F4C4C4"/>
<polygon points="281.15,363.27 281.15,364.04 283.67,364.94 283.67,363.46" fill="#F4C4C4"/>
<polygon points="283.67,363.46 283.67,364.94 286.19,364.99 286.19,363.93" fill="#F4C4C4"/>
<polygon points="286.19,363.93 286.19,364.99 288.72,364.94 288.72,364.42" fill="#F4C4C4"/>
<polygon points="288.72,364.42 288.72,364.94 291.24,364.29 291.24,364.64" fill="#F4C4C4"/>
<polygon points="291.24,364.64 291.24,364.29 293.76,363.64 293.76,364.56" fill="#B4BCE4"/>
<polygon points="293.76,364.56 293.76,363.64 296.29,362.82 296.29,364.14" fill="#B4BCE4"/>
<polygon points="296.29,364.14 296.29,362.82 298.81,362.84 298.81,363.71" fill="#B4BCE4"/>
<polygon points="298.81,363.71 298.81,362.84 301.34,362.78 301.34,363.27" fill="#B4BCE4"/>
<polygon points="301.34,363.27 301.34,362.78 303.86,363.34 303.86,363.08" fill="#B4BCE4"/>
<polygon points="303.86,363.08 303.86,363.34 306.38,363.24 306.38,363.00" fill="#F4C4C4"/>
<polygon points="306.38,363.00 306.38,363.24 308.91,363.34 308.91,363.11" fill="#F4C4C4"/>
<polygon points="308.91,363.11 308.91,363.34 311.43,363.05 311.43,363.15" fill="#F4C4C4"/>
<polygon points="311.43,363.15 311.43,363.05 313.95,364.43 313.95,363.48" fill="#F4C4C4"/>
<polygon points="313.95,363.48 313.95,364.43 316.48,367.92 316.48,364.40" fill="#F4C4C4"/>
<polygon points="316.48,364.40 316.48,367.92 319.00,370.18 319.00,365.78" fill="#F4C4C4"/>
<polygon points="319.00,365.78 319.00,370.18 321.53,371.40 321.53,367.40" fill="#F4C4C4"/>
<polygon points="321.53,367.40 321.53,371.40 324.05,370.72 324.05,368.93" fill="#F4C4C4"/>
<polygon points="324.05,368.93 324.05,370.72 326.57,371.13 326.57,370.27" fill="#F4C4C4"/>
<polygon points="326.57,370.27 326.57,371.13 329.10,370.68 329.10,370.82" fill="#F4C4C4"/>
<polygon points="329.10,370.82 329.10,370.68 331.62,370.27 331.62,370.84" fill="#B4BCE4"/>
<polygon points="331.62,370.84 331.62,370.27 334.14,369.68 334.14,370.50" fill="#B4BCE4"/>
<polygon points="334.14,370.50 334.14,369.68 336.67,370.09 336.67,370.37" fill="#B4BCE4"/>
<polygon points="336.67,370.37 336.67,370.09 339.19,369.95 339.19,370.13" fill="#B4BCE4"/>
<polygon points="339.19,370.13 339.19,369.95 341.72,370.08 341.72,370.02" fill="#B4BCE4"/>
<polygon points="341.72,370.02 341.72,370.08 344.24,369.54 344.24,369.87" fill="#B4BCE4"/>
<polygon points="344.24,369.87 344.24,369.54 346.76,369.70 346.76,369.87" fill="#B4BCE4"/>
<polygon points="346.76,369.87 346.76,369.70 349.29,368.97 349.29,369.65" fill="#B4BCE4"/>
<polygon points="349.29,369.65 349.29,368.97 351.81,366.98 351.81,369.05" fill="#B4BCE4"/>
<polygon points="351.81,369.05 351.81,366.98 354.33,364.38 354.33,367.91" fill="#B4BCE4"/>
<polygon points="354.33,367.91 354.33,364.38 356.86,362.81 356.86,366.57" fill="#B4BCE4"/>
<polygon points="356.86,366.57 356.86,362.81 359.38,362.49 359.38,365.12" fill="#B4BCE4"/>
<polygon points="359.38,365.12 359.38,362.49 361.90,363.98 361.90,364.13" fill="#B4BCE4"/>
<polygon points="361.90,364.13 361.90,363.98 364.43,364.74 364.43,363.68" fill="#F4C4C4"/>
<polygon points="364.43,363.68 364.43,364.74 366.95,366.42 366.95,364.09" fill="#F4C4C4"/>
<polygon points="366.95,364.09 366.95,366.42 369.48,366.58 369.48,364.84" fill="#F4C4C4"/>
<polygon points="369.48,364.84 369.48,366.58 372.00,365.60 372.00,365.46" fill="#F4C4C4"/>
<polygon points="372.00,365.46 372.00,365.60 374.52,363.97 374.52,365.46" fill="#B4BCE4"/>
<polygon points="374.52,365.46 374.52,363.97 377.05,362.47 377.05,365.01" fill="#B4BCE4"/>
<polygon points="377.05,365.01 377.05,362.47 379.57,362.91 379.57,364.30" fill="#B4BCE4"/>
<polygon points="379.57,364.30 379.57,362.91 382.09,363.80 382.09,363.75" fill="#B4BCE4"/>
<polygon points="382.09,363.75 382.09,363.80 384.62,365.71 384.62,363.77" fill="#F4C4C4"/>
<polygon points="384.62,363.77 384.62,365.71 387.14,368.11 387.14,364.60" fill="#F4C4C4"/>
<polygon points="387.14,364.60 387.14,368.11 389.67,370.84 389.67,366.27" fill="#F4C4C4"/>
<polygon points="389.67,366.27 389.67,370.84 392.19,372.04 392.19,368.10" fill="#F4C4C4"/>
<polygon points="392.19,368.10 392.19,372.04 394.71,372.50 394.71,369.84" fill="#F4C4C4"/>
<polygon points="394.71,369.84 394.71,372.50 397.24,371.64 397.24,371.02" fill="#F4C4C4"/>
<polygon points="397.24,371.02 397.24,371.64 399.76,370.95 399.76,371.59" fill="#B4BCE4"/>
<polygon points="399.76,371.59 399.76,370.95 402.28,370.36 402.28,371.50" fill="#B4BCE4"/>
<polygon points="402.28,371.50 402.28,370.36 404.81,371.37 404.81,371.36" fill="#B4BCE4"/>
<polygon points="404.81,371.36 404.81,371.37 407.33,371.89 407.33,371.24" fill="#F4C4C4"/>
<polygon points="407.33,371.24 407.33,371.89 409.85,372.74 409.85,371.46" fill="#F4C4C4"/>
<polygon points="409.85,371.46 409.85,372.74 412.38,372.75 412.38,371.82" fill="#F4C4C4"/>
<polygon points="412.38,371.82 412.38,372.75 414.90,373.47 414.90,372.45" fill="#F4C4C4"/>
<polygon points="414.90,372.45 414.90,373.47 417.43,373.56 417.43,372.88" fill="#F4C4C4"/>
<polygon points="417.43,372.88 417.43,373.56 419.95,372.35 419.95,372.98" fill="#F4C4C4"/>
<polygon points="419.95,372.98 419.95,372.35 422.47,371.79 422.47,372.79" fill="#B4BCE4"/>
<polygon points="422.47,372.79 422.47,371.79 425.00,370.17 425.00,372.27" fill="#B4BCE4"/>
<polygon points="425.00,372.27 425.00,370.17 427.52,370.05 427.52,371.58" fill="#B4BCE4"/>
<polygon points="427.52,371.58 427.52,370.05 430.04,369.51 430.04,370.77" fill="#B4BCE4"/>
<polygon points="430.04,370.77 430.04,369.51 432.57,370.23 432.57,370.35" fill="#B4BCE4"/>
<polygon points="432.57,370.35 432.57,370.23 435.09,369.03 435.09,369.80" fill="#B4BCE4"/>
<polygon points="435.09,369.80 435.09,369.03 437.62,367.08 437.62,369.18" fill="#B4BCE4"/>
<polygon points="437.62,369.18 437.62,367.08 440.14,365.23 440.14,368.21" fill="#B4BCE4"/>
<polygon points="440.14,368.21 440.14,365.23 442.66,364.99 442.66,367.31" fill="#B4BCE4"/>
<polygon points="442.66,367.31 442.66,364.99 445.19,365.14 445.19,366.29" fill="#B4BCE4"/>
<polygon points="445.19,366.29 445.19,365.14 447.71,365.81 447.71,365.65" fill="#B4BCE4"/>
<polygon points="447.71,365.65 447.71,365.81 450.23,367.10 450.23,365.65" fill="#F4C4C4"/>
<polygon points="450.23,365.65 450.23,367.10 452.76,369.59 452.76,366.53" fill="#F4C4C4"/>
<polygon points="452.76,366.53 452.76,369.59 455.28,371.87 455.28,367.90" fill="#F4C4C4"/>
<polygon points="455.28,367.90 455.28,371.87 457.81,372.99 457.81,369.47" fill="#F4C4C4"/>
<polygon points="457.81,369.47 457.81,372.99 460.33,373.38 460.33,370.99" fill="#F4C4C4"/>
<polygon points="460.33,370.99 460.33,373.38 462.85,372.59 462.85,372.08" fill="#F4C4C4"/>
<polygon points="462.85,372.08 462.85,372.59 465.38,373.01 465.38,372.77" fill="#F4C4C4"/>
<polygon points="465.38,372.77 465.38,373.01 467.90,372.42 467.90,372.88" fill="#B4BCE4"/>
<polygon points="467.90,372.88 467.90,372.42 470.42,372.69 470.42,372.82" fill="#B4BCE4"/>
<polygon points="470.42,372.82 470.42,372.69 472.95,371.76 472.95,372.49" fill="#B4BCE4"/>
<polygon points="472.95,372.49 472.95,371.76 475.47,371.59 475.47,372.29" fill="#B4BCE4"/>
<polygon points="475.47,372.29 475.47,371.59 477.99,371.52 477.99,372.00" fill="#B4BCE4"/>
<polygon points="477.99,372.00 477.99,371.52 480.52,372.18 480.52,371.95" fill="#B4BCE4"/>
<polygon points="480.52,371.95 480.52,372.18 483.04,372.03 483.04,371.82" fill="#F4C4C4"/>
<polygon points="483.04,371.82 483.04,372.03 485.57,371.69 485.57,371.80" fill="#F4C4C4"/>
<polygon points="485.57,371.80 485.57,371.69 488.09,370.79 488.09,371.64" fill="#B4BCE4"/>
<polygon points="488.09,371.64 488.09,370.79 490.61,369.85 490.61,371.31" fill="#B4BCE4"/>
<polygon points="490.61,371.31 490.61,369.85 493.14,369.41 493.14,370.75" fill="#B4BCE4"/>
<polygon points="493.14,370.75 493.14,369.41 495.66,367.57 495.66,369.86" fill="#B4BCE4"/>
<polygon points="495.66,369.86 495.66,367.57 498.18,365.52 498.18,368.63" fill="#B4BCE4"/>
<polygon points="498.18,368.63 498.18,365.52 500.71,363.71 500.71,367.21" fill="#B4BCE4"/>
<polygon points="500.71,367.21 500.71,363.71 503.23,363.97 503.23,366.04" fill="#B4BCE4"/>
<polygon points="503.23,366.04 503.23,363.97 505.76,365.62 505.76,365.28" fill="#B4BCE4"/>
<polygon points="505.76,365.28 505.76,365.62 508.28,366.41 508.28,365.05" fill="#F4C4C4"/>
<polygon points="508.28,365.05 508.28,366.41 510.80,366.93 510.80,365.33" fill="#F4C4C4"/>
<polygon points="510.80,365.33 510.80,366.93 513.33,366.29 513.33,365.85" fill="#F4C4C4"/>
<polygon points="513.33,365.85 513.33,366.29 515.85,365.48 515.85,366.15" fill="#B4BCE4"/>
<polygon points="515.85,366.15 515.85,365.48 518.37,363.84 518.37,365.79" fill="#B4BCE4"/>
<polygon points="518.37,365.79 518.37,363.84 520.90,362.99 520.90,365.11" fill="#B4BCE4"/>
<polygon points="520.90,365.11 520.90,362.99 523.42,362.59 523.42,364.24" fill="#B4BCE4"/>
<polygon points="523.42,364.24 523.42,362.59 525.95,362.60 525.95,363.50" fill="#B4BCE4"/>
<polygon points="525.95,363.50 525.95,362.60 528.47,363.35 528.47,363.07" fill="#B4BCE4"/>
<polygon points="528.47,363.07 528.47,363.35 530.99,363.98 530.99,363.10" fill="#F4C4C4"/>
<polygon points="530.99,363.10 530.99,363.98 533.52,364.57 533.52,363.42" fill="#F4C4C4"/>
<polygon points="533.52,363.42 533.52,364.57 536.04,364.51 536.04,363.80" fill="#F4C4C4"/>
<polygon points="536.04,363.80 536.04,364.51 538.56,363.64 538.56,364.01" fill="#F4C4C4"/>
<polygon points="538.56,364.01 538.56,363.64 541.09,363.56 541.09,364.05" fill="#B4BCE4"/>
<polygon points="541.09,364.05 541.09,363.56 543.61,363.53 543.61,363.96" fill="#B4BCE4"/>
<polygon points="543.61,363.96 543.61,363.53 546.13,365.26 546.13,364.10" fill="#F4C4C4"/>
<polygon points="546.13,364.10 546.13,365.26 548.66,366.91 548.66,364.58" fill="#F4C4C4"/>
<polygon points="548.66,364.58 548.66,366.91 551.18,369.80 551.18,365.81" fill="#F4C4C4"/>
<polygon points="551.18,365.81 551.18,369.80 553.71,371.92 553.71,367.48" fill="#F4C4C4"/>
<polygon points="553.71,367.48 553.71,371.92 556.23,373.23 556.23,369.43" fill="#F4C4C4"/>
<polygon points="556.23,369.43 556.23,373.23 558.75,373.41 558.75,371.05" fill="#F4C4C4"/>
<polygon points="558.75,371.05 558.75,373.41 561.28,372.85 561.28,372.24" fill="#F4C4C4"/>
<polygon points="561.28,372.24 561.28,372.85 563.80,373.24 563.80,372.93" fill="#F4C4C4"/>
<polygon points="563.80,372.93 563.80,373.24 566.32,373.25 566.32,373.20" fill="#F4C4C4"/>
<polygon points="566.32,373.20 566.32,373.25 568.85,373.40 568.85,373.23" fill="#F4C4C4"/>
<polygon points="568.85,373.23 568.85,373.40 571.37,372.70 571.37,373.09" fill="#B4BCE4"/>
<polygon points="571.37,373.09 571.37,372.70 573.90,372.46 573.90,373.01" fill="#B4BCE4"/>
<polygon points="573.90,373.01 573.90,372.46 576.42,372.91 576.42,372.94" fill="#B4BCE4"/>
<polygon points="576.42,372.94 576.42,372.91 578.94,373.57 578.94,373.01" fill="#F4C4C4"/>
<polygon points="578.94,373.01 578.94,373.57 581.47,373.65 581.47,373.06" fill="#F4C4C4"/>
<rect x="76" y="364" width="523" height="1" fill="#1C1CE0"/>
<rect x="76" y="371" width="523" height="1" fill="#1C1CE0"/>
<polyline points="3.54,364.70 6.06,364.62 8.59,365.26 11.11,366.38 13.63,367.89 16.16,369.26 18.68,370.39 21.21,371.02 23.73,371.01 26.25,370.29 28.78,369.21 31.30,368.41 33.82,368.23 36.35,368.82 38.87,369.79 41.39,371.02 43.92,371.92 46.44,372.24 48.97,372.10 51.49,372.06 54.01,372.17 56.54,372.33 59.06,372.37 61.58,372.33 64.11,372.12 66.63,371.67 69.16,370.76 71.68,369.63 74.20,368.09 76.73,366.51 79.25,365.11 81.77,364.50 84.30,364.46 86.82,364.89 89.35,365.33 91.87,365.90 94.39,366.41 96.92,366.86 99.44,366.88 101.96,366.48 104.49,365.83 107.01,365.05 109.53,364.11 112.06,363.44 114.58,363.36 117.11,363.78 119.63,364.28 122.15,365.00 124.68,365.86 127.20,366.54 129.72,366.86 132.25,367.01 134.77,367.07 137.30,367.09 139.82,367.19 142.34,367.57 144.87,367.99 147.39,367.94 149.91,367.42 152.44,366.57 154.96,365.45 157.48,364.21 160.01,363.33 162.53,362.97 165.06,363.08 167.58,363.37 170.10,363.78 172.63,364.21 175.15,364.42 177.67,364.38 180.20,364.37 182.72,364.35 185.25,364.36 187.77,364.49 190.29,364.77 192.82,364.93 195.34,364.85 197.86,364.61 200.39,364.52 202.91,364.26 205.44,364.00 207.96,363.72 210.48,363.77 213.01,363.74 215.53,363.89 218.05,363.90 220.58,364.05 223.10,363.87 225.62,363.68 228.15,363.44 230.67,363.39 233.20,363.38 235.72,363.45 238.24,363.56 240.77,363.63 243.29,363.64 245.81,363.49 248.34,363.32 250.86,363.12 253.39,363.05 255.91,363.06 258.43,363.27 260.96,363.69 263.48,364.14 266.00,364.69 268.53,364.97 271.05,365.02 273.58,364.64 276.10,364.09 278.62,363.51 281.15,363.27 283.67,363.46 286.19,363.93 288.72,364.42 291.24,364.64 293.76,364.56 296.29,364.14 298.81,363.71 301.34,363.27 303.86,363.08 306.38,363.00 308.91,363.11 311.43,363.15 313.95,363.48 316.48,364.40 319.00,365.78 321.53,367.40 324.05,368.93 326.57,370.27 329.10,370.82 331.62,370.84 334.14,370.50 336.67,370.37 339.19,370.13 341.72,370.02 344.24,369.87 346.76,369.87 349.29,369.65 351.81,369.05 354.33,367.91 356.86,366.57 359.38,365.12 361.90,364.13 364.43,363.68 366.95,364.09 369.48,364.84 372.00,365.46 374.52,365.46 377.05,365.01 379.57,364.30 382.09,363.75 384.62,363.77 387.14,364.60 389.67,366.27 392.19,368.10 394.71,369.84 397.24,371.02 399.76,371.59 402.28,371.50 404.81,371.36 407.33,371.24 409.85,371.46 412.38,371.82 414.90,372.45 417.43,372.88 419.95,372.98 422.47,372.79 425.00,372.27 427.52,371.58 430.04,370.77 432.57,370.35 435.09,369.80 437.62,369.18 440.14,368.21 442.66,367.31 445.19,366.29 447.71,365.65 450.23,365.65 452.76,366.53 455.28,367.90 457.81,369.47 460.33,370.99 462.85,372.08 465.38,372.77 467.90,372.88 470.42,372.82 472.95,372.49 475.47,372.29 477.99,372.00 480.52,371.95 483.04,371.82 485.57,371.80 488.09,371.64 490.61,371.31 493.14,370.75 495.66,369.86 498.18,368.63 500.71,367.21 503.23,366.04 505.76,365.28 508.28,365.05 510.80,365.33 513.33,365.85 515.85,366.15 518.37,365.79 520.90,365.11 523.42,364.24 525.95,363.50 528.47,363.07 530.99,363.10 533.52,363.42 536.04,363.80 538.56,364.01 541.09,364.05 543.61,363.96 546.13,364.10 548.66,364.58 551.18,365.81 553.71,367.48 556.23,369.43 558.75,371.05 561.28,372.24 563.80,372.93 566.32,373.20 568.85,373.23 571.37,373.09 573.90,373.01 576.42,372.94 578.94,373.01 581.47,373.06" fill="none" stroke="#E05050" stroke-width="1.0"/>
<polyline points="3.54,364.57 6.06,365.38 8.59,367.68 11.11,370.08 13.63,371.76 16.16,371.39 18.68,371.05 21.21,370.84 23.73,370.04 26.25,368.15 28.78,365.98 31.30,367.05 33.82,369.94 36.35,372.97 38.87,373.03 41.39,372.13 43.92,371.56 46.44,371.54 48.97,372.25 51.49,372.84 54.01,372.69 56.54,372.33 59.06,371.74 61.58,372.03 64.11,371.78 66.63,370.45 69.16,367.81 71.68,366.07 74.20,364.34 76.73,363.87 79.25,363.45 81.77,364.80 84.30,365.85 86.82,366.46 89.35,366.09 91.87,366.28 94.39,367.38 96.92,368.08 99.44,366.58 101.96,364.10 104.49,363.02 107.01,363.46 109.53,363.37 112.06,363.26 114.58,363.67 117.11,365.13 119.63,365.99 122.15,366.96 124.68,367.56 127.20,367.08 129.72,366.68 132.25,366.77 134.77,367.28 137.30,367.65 139.82,367.59 142.34,368.58 144.87,368.84 147.39,367.06 149.91,365.04 152.44,363.32 154.96,362.98 157.48,362.68 160.01,362.63 162.53,363.23 165.06,363.91 167.58,364.41 170.10,364.74 172.63,364.77 175.15,364.25 177.67,363.75 180.20,364.33 182.72,364.63 185.25,364.83 187.77,364.89 190.29,365.19 192.82,365.13 195.34,364.20 197.86,363.62 200.39,364.47 202.91,363.89 205.44,363.80 207.96,362.81 210.48,363.87 213.01,364.34 215.53,364.61 218.05,363.88 220.58,363.57 223.10,362.93 225.62,363.40 228.15,363.41 230.67,363.63 233.20,363.54 235.72,363.26 238.24,363.97 240.77,363.75 243.29,363.70 245.81,362.75 248.34,362.43 250.86,362.98 253.39,363.37 255.91,363.78 258.43,363.80 260.96,364.53 263.48,365.23 266.00,366.09 268.53,365.21 271.05,364.02 273.58,362.63 276.10,362.47 278.62,363.20 281.15,364.04 283.67,364.94 286.19,364.99 288.72,364.94 291.24,364.29 293.76,363.64 296.29,362.82 298.81,362.84 301.34,362.78 303.86,363.34 306.38,363.24 308.91,363.34 311.43,363.05 313.95,364.43 316.48,367.92 319.00,370.18 321.53,371.40 324.05,370.72 326.57,371.13 329.10,370.68 331.62,370.27 334.14,369.68 336.67,370.09 339.19,369.95 341.72,370.08 344.24,369.54 346.76,369.70 349.29,368.97 351.81,366.98 354.33,364.38 356.86,362.81 359.38,362.49 361.90,363.98 364.43,364.74 366.95,366.42 369.48,366.58 372.00,365.60 374.52,363.97 377.05,362.47 379.57,362.91 382.09,363.80 384.62,365.71 387.14,368.11 389.67,370.84 392.19,372.04 394.71,372.50 397.24,371.64 399.76,370.95 402.28,370.36 404.81,371.37 407.33,371.89 409.85,372.74 412.38,372.75 414.90,373.47 417.43,373.56 419.95,372.35 422.47,371.79 425.00,370.17 427.52,370.05 430.04,369.51 432.57,370.23 435.09,369.03 437.62,367.08 440.14,365.23 442.66,364.99 445.19,365.14 447.71,365.81 450.23,367.10 452.76,369.59 455.28,371.87 457.81,372.99 460.33,373.38 462.85,372.59 465.38,373.01 467.90,372.42 470.42,372.69 472.95,371.76 475.47,371.59 477.99,371.52 480.52,372.18 483.04,372.03 485.57,371.69 488.09,370.79 490.61,369.85 493.14,369.41 495.66,367.57 498.18,365.52 500.71,363.71 503.23,363.97 505.76,365.62 508.28,366.41 510.80,366.93 513.33,366.29 515.85,365.48 518.37,363.84 520.90,362.99 523.42,362.59 525.95,362.60 528.47,363.35 530.99,363.98 533.52,364.57 536.04,364.51 538.56,363.64 541.09,363.56 543.61,363.53 546.13,365.26 548.66,366.91 551.18,369.80 553.71,371.92 556.23,373.23 558.75,373.41 561.28,372.85 563.80,373.24 566.32,373.25 568.85,373.40 571.37,372.70 573.90,372.46 576.42,372.91 578.94,373.57 581.47,373.65" fill="none" stroke="#000000" stroke-width="1.05"/>
</g>
<g clip-path="url(#cp_mom)">
<polygon points="3.54,385.5 3.54,384.67 6.06,384.61 6.06,385.5" fill="#B4D8A4"/>
<polygon points="6.06,385.5 6.06,384.61 7.71,385.50 7.71,385.5" fill="#B4D8A4"/>
<polygon points="7.71,385.5 7.71,385.50 8.59,385.98 8.59,385.5" fill="#D8AFA2"/>
<polygon points="8.59,385.5 8.59,385.98 11.11,386.32 11.11,385.5" fill="#D8AFA2"/>
<polygon points="11.11,385.5 11.11,386.32 13.63,386.05 13.63,385.5" fill="#D8AFA2"/>
<polygon points="13.63,385.5 13.63,386.05 16.16,386.39 16.16,385.5" fill="#D8AFA2"/>
<polygon points="16.16,385.5 16.16,386.39 18.68,385.85 18.68,385.5" fill="#D8AFA2"/>
<polygon points="18.68,385.5 18.68,385.85 21.21,386.33 21.21,385.5" fill="#D8AFA2"/>
<polygon points="21.21,385.5 21.21,386.33 23.73,385.68 23.73,385.5" fill="#D8AFA2"/>
<polygon points="23.73,385.5 23.73,385.68 26.25,385.76 26.25,385.5" fill="#D8AFA2"/>
<polygon points="26.25,385.5 26.25,385.76 28.78,385.55 28.78,385.5" fill="#D8AFA2"/>
<polygon points="28.78,385.5 28.78,385.55 31.30,386.93 31.30,385.5" fill="#D8AFA2"/>
<polygon points="31.30,385.5 31.30,386.93 33.82,387.67 33.82,385.5" fill="#D8AFA2"/>
<polygon points="33.82,385.5 33.82,387.67 36.35,388.05 36.35,385.5" fill="#D8AFA2"/>
<polygon points="36.35,385.5 36.35,388.05 38.87,386.99 38.87,385.5" fill="#D8AFA2"/>
<polygon points="38.87,385.5 38.87,386.99 41.39,386.60 41.39,385.5" fill="#D8AFA2"/>
<polygon points="41.39,385.5 41.39,386.60 43.92,386.74 43.92,385.5" fill="#D8AFA2"/>
<polygon points="43.92,385.5 43.92,386.74 46.44,386.88 46.44,385.5" fill="#D8AFA2"/>
<polygon points="46.44,385.5 46.44,386.88 48.97,387.23 48.97,385.5" fill="#D8AFA2"/>
<polygon points="48.97,385.5 48.97,387.23 51.49,387.79 51.49,385.5" fill="#D8AFA2"/>
<polygon points="51.49,385.5 51.49,387.79 54.01,388.06 54.01,385.5" fill="#D8AFA2"/>
<polygon points="54.01,385.5 54.01,388.06 56.54,388.84 56.54,385.5" fill="#D8AFA2"/>
<polygon points="56.54,385.5 56.54,388.84 59.06,388.81 59.06,385.5" fill="#D8AFA2"/>
<polygon points="59.06,385.5 59.06,388.81 61.58,387.46 61.58,385.5" fill="#D8AFA2"/>
<polygon points="61.58,385.5 61.58,387.46 64.11,386.54 64.11,385.5" fill="#D8AFA2"/>
<polygon points="64.11,385.5 64.11,386.54 66.37,385.50 66.37,385.5" fill="#D8AFA2"/>
<polygon points="66.37,385.5 66.37,385.50 66.63,385.38 66.63,385.5" fill="#B4D8A4"/>
<polygon points="66.63,385.5 66.63,385.38 69.16,385.39 69.16,385.5" fill="#B4D8A4"/>
<polygon points="69.16,385.5 69.16,385.39 69.65,385.50 69.65,385.5" fill="#B4D8A4"/>
<polygon points="69.65,385.5 69.65,385.50 71.68,385.95 71.68,385.5" fill="#D8AFA2"/>
<polygon points="71.68,385.5 71.68,385.95 72.98,385.50 72.98,385.5" fill="#D8AFA2"/>
<polygon points="72.98,385.5 72.98,385.50 74.20,385.08 74.20,385.5" fill="#B4D8A4"/>
<polygon points="74.20,385.5 74.20,385.08 76.73,384.80 76.73,385.5" fill="#B4D8A4"/>
<polygon points="76.73,385.5 76.73,384.80 79.25,384.89 79.25,385.5" fill="#B4D8A4"/>
<polygon points="79.25,385.5 79.25,384.89 81.77,384.68 81.77,385.5" fill="#B4D8A4"/>
<polygon points="81.77,385.5 81.77,384.68 84.30,384.68 84.30,385.5" fill="#B4D8A4"/>
<polygon points="84.30,385.5 84.30,384.68 86.82,384.56 86.82,385.5" fill="#B4D8A4"/>
<polygon points="86.82,385.5 86.82,384.56 89.35,384.30 89.35,385.5" fill="#B4D8A4"/>
<polygon points="89.35,385.5 89.35,384.30 91.87,384.32 91.87,385.5" fill="#B4D8A4"/>
<polygon points="91.87,385.5 91.87,384.32 94.39,385.12 94.39,385.5" fill="#B4D8A4"/>
<polygon points="94.39,385.5 94.39,385.12 96.92,385.25 96.92,385.5" fill="#B4D8A4"/>
<polygon points="96.92,385.5 96.92,385.25 99.44,384.56 99.44,385.5" fill="#B4D8A4"/>
<polygon points="99.44,385.5 99.44,384.56 101.96,384.21 101.96,385.5" fill="#B4D8A4"/>
<polygon points="101.96,385.5 101.96,384.21 104.49,384.30 104.49,385.5" fill="#B4D8A4"/>
<polygon points="104.49,385.5 104.49,384.30 107.01,384.35 107.01,385.5" fill="#B4D8A4"/>
<polygon points="107.01,385.5 107.01,384.35 109.53,383.18 109.53,385.5" fill="#B4D8A4"/>
<polygon points="109.53,385.5 109.53,383.18 112.06,383.27 112.06,385.5" fill="#B4D8A4"/>
<polygon points="112.06,385.5 112.06,383.27 114.58,383.57 114.58,385.5" fill="#B4D8A4"/>
<polygon points="114.58,385.5 114.58,383.57 117.11,383.94 117.11,385.5" fill="#B4D8A4"/>
<polygon points="117.11,385.5 117.11,383.94 119.63,384.33 119.63,385.5" fill="#B4D8A4"/>
<polygon points="119.63,385.5 119.63,384.33 122.15,384.40 122.15,385.5" fill="#B4D8A4"/>
<polygon points="122.15,385.5 122.15,384.40 124.68,384.08 124.68,385.5" fill="#B4D8A4"/>
<polygon points="124.68,385.5 124.68,384.08 127.20,383.65 127.20,385.5" fill="#B4D8A4"/>
<polygon points="127.20,385.5 127.20,383.65 129.72,385.03 129.72,385.5" fill="#B4D8A4"/>
<polygon points="129.72,385.5 129.72,385.03 132.25,385.32 132.25,385.5" fill="#B4D8A4"/>
<polygon points="132.25,385.5 132.25,385.32 134.77,385.46 134.77,385.5" fill="#B4D8A4"/>
<polygon points="134.77,385.5 134.77,385.46 135.06,385.50 135.06,385.5" fill="#B4D8A4"/>
<polygon points="135.06,385.5 135.06,385.50 137.30,385.83 137.30,385.5" fill="#D8AFA2"/>
<polygon points="137.30,385.5 137.30,385.83 139.82,386.76 139.82,385.5" fill="#D8AFA2"/>
<polygon points="139.82,385.5 139.82,386.76 142.34,386.53 142.34,385.5" fill="#D8AFA2"/>
<polygon points="142.34,385.5 142.34,386.53 144.87,386.11 144.87,385.5" fill="#D8AFA2"/>
<polygon points="144.87,385.5 144.87,386.11 145.96,385.50 145.96,385.5" fill="#D8AFA2"/>
<polygon points="145.96,385.5 145.96,385.50 147.39,384.70 147.39,385.5" fill="#B4D8A4"/>
<polygon points="147.39,385.5 147.39,384.70 149.91,384.79 149.91,385.5" fill="#B4D8A4"/>
<polygon points="149.91,385.5 149.91,384.79 152.44,384.46 152.44,385.5" fill="#B4D8A4"/>
<polygon points="152.44,385.5 152.44,384.46 154.96,383.36 154.96,385.5" fill="#B4D8A4"/>
<polygon points="154.96,385.5 154.96,383.36 157.48,383.97 157.48,385.5" fill="#B4D8A4"/>
<polygon points="157.48,385.5 157.48,383.97 160.01,382.67 160.01,385.5" fill="#B4D8A4"/>
<polygon points="160.01,385.5 160.01,382.67 162.53,382.63 162.53,385.5" fill="#B4D8A4"/>
<polygon points="162.53,385.5 162.53,382.63 165.06,383.34 165.06,385.5" fill="#B4D8A4"/>
<polygon points="165.06,385.5 165.06,383.34 167.58,383.11 167.58,385.5" fill="#B4D8A4"/>
<polygon points="167.58,385.5 167.58,383.11 170.10,383.04 170.10,385.5" fill="#B4D8A4"/>
<polygon points="170.10,385.5 170.10,383.04 172.63,382.76 172.63,385.5" fill="#B4D8A4"/>
<polygon points="172.63,385.5 172.63,382.76 175.15,382.44 175.15,385.5" fill="#B4D8A4"/>
<polygon points="175.15,385.5 175.15,382.44 177.67,383.49 177.67,385.5" fill="#B4D8A4"/>
<polygon points="177.67,385.5 177.67,383.49 180.20,384.29 180.20,385.5" fill="#B4D8A4"/>
<polygon points="180.20,385.5 180.20,384.29 182.72,383.51 182.72,385.5" fill="#B4D8A4"/>
<polygon points="182.72,385.5 182.72,383.51 185.25,383.94 185.25,385.5" fill="#B4D8A4"/>
<polygon points="185.25,385.5 185.25,383.94 187.77,384.80 187.77,385.5" fill="#B4D8A4"/>
<polygon points="187.77,385.5 187.77,384.80 190.29,385.04 190.29,385.5" fill="#B4D8A4"/>
<polygon points="190.29,385.5 190.29,385.04 192.82,384.25 192.82,385.5" fill="#B4D8A4"/>
<polygon points="192.82,385.5 192.82,384.25 195.34,384.04 195.34,385.5" fill="#B4D8A4"/>
<polygon points="195.34,385.5 195.34,384.04 197.86,383.84 197.86,385.5" fill="#B4D8A4"/>
<polygon points="197.86,385.5 197.86,383.84 200.39,384.44 200.39,385.5" fill="#B4D8A4"/>
<polygon points="200.39,385.5 200.39,384.44 202.91,382.81 202.91,385.5" fill="#B4D8A4"/>
<polygon points="202.91,385.5 202.91,382.81 205.44,383.04 205.44,385.5" fill="#B4D8A4"/>
<polygon points="205.44,385.5 205.44,383.04 207.96,382.88 207.96,385.5" fill="#B4D8A4"/>
<polygon points="207.96,385.5 207.96,382.88 210.48,382.68 210.48,385.5" fill="#B4D8A4"/>
<polygon points="210.48,385.5 210.48,382.68 213.01,383.09 213.01,385.5" fill="#B4D8A4"/>
<polygon points="213.01,385.5 213.01,383.09 215.53,383.54 215.53,385.5" fill="#B4D8A4"/>
<polygon points="215.53,385.5 215.53,383.54 218.05,382.59 218.05,385.5" fill="#B4D8A4"/>
<polygon points="218.05,385.5 218.05,382.59 220.58,383.29 220.58,385.5" fill="#B4D8A4"/>
<polygon points="220.58,385.5 220.58,383.29 223.10,382.99 223.10,385.5" fill="#B4D8A4"/>
<polygon points="223.10,385.5 223.10,382.99 225.62,383.59 225.62,385.5" fill="#B4D8A4"/>
<polygon points="225.62,385.5 225.62,383.59 228.15,383.46 228.15,385.5" fill="#B4D8A4"/>
<polygon points="228.15,385.5 228.15,383.46 230.67,381.83 230.67,385.5" fill="#B4D8A4"/>
<polygon points="230.67,385.5 230.67,381.83 233.20,383.99 233.20,385.5" fill="#B4D8A4"/>
<polygon points="233.20,385.5 233.20,383.99 235.72,383.28 235.72,385.5" fill="#B4D8A4"/>
<polygon points="235.72,385.5 235.72,383.28 238.24,384.10 238.24,385.5" fill="#B4D8A4"/>
<polygon points="238.24,385.5 238.24,384.10 240.77,382.99 240.77,385.5" fill="#B4D8A4"/>
<polygon points="240.77,385.5 240.77,382.99 243.29,382.99 243.29,385.5" fill="#B4D8A4"/>
<polygon points="243.29,385.5 243.29,382.99 245.81,382.68 245.81,385.5" fill="#B4D8A4"/>
<polygon points="245.81,385.5 245.81,382.68 248.34,382.68 248.34,385.5" fill="#B4D8A4"/>
<polygon points="248.34,385.5 248.34,382.68 250.86,383.04 250.86,385.5" fill="#B4D8A4"/>
<polygon points="250.86,385.5 250.86,383.04 253.39,383.74 253.39,385.5" fill="#B4D8A4"/>
<polygon points="253.39,385.5 253.39,383.74 255.91,383.19 255.91,385.5" fill="#B4D8A4"/>
<polygon points="255.91,385.5 255.91,383.19 258.43,383.54 258.43,385.5" fill="#B4D8A4"/>
<polygon points="258.43,385.5 258.43,383.54 260.96,384.85 260.96,385.5" fill="#B4D8A4"/>
<polygon points="260.96,385.5 260.96,384.85 263.48,384.35 263.48,385.5" fill="#B4D8A4"/>
<polygon points="263.48,385.5 263.48,384.35 266.00,385.38 266.00,385.5" fill="#B4D8A4"/>
<polygon points="266.00,385.5 266.00,385.38 268.53,383.63 268.53,385.5" fill="#B4D8A4"/>
<polygon points="268.53,385.5 268.53,383.63 271.05,383.30 271.05,385.5" fill="#B4D8A4"/>
<polygon points="271.05,385.5 271.05,383.30 273.58,383.06 273.58,385.5" fill="#B4D8A4"/>
<polygon points="273.58,385.5 273.58,383.06 276.10,383.40 276.10,385.5" fill="#B4D8A4"/>
<polygon points="276.10,385.5 276.10,383.40 278.62,383.70 278.62,385.5" fill="#B4D8A4"/>
<polygon points="278.62,385.5 278.62,383.70 281.15,383.46 281.15,385.5" fill="#B4D8A4"/>
<polygon points="281.15,385.5 281.15,383.46 283.67,383.71 283.67,385.5" fill="#B4D8A4"/>
<polygon points="283.67,385.5 283.67,383.71 286.19,383.51 286.19,385.5" fill="#B4D8A4"/>
<polygon points="286.19,385.5 286.19,383.51 288.72,383.51 288.72,385.5" fill="#B4D8A4"/>
<polygon points="288.72,385.5 288.72,383.51 291.24,382.61 291.24,385.5" fill="#B4D8A4"/>
<polygon points="291.24,385.5 291.24,382.61 293.76,382.51 293.76,385.5" fill="#B4D8A4"/>
<polygon points="293.76,385.5 293.76,382.51 296.29,382.32 296.29,385.5" fill="#B4D8A4"/>
<polygon points="296.29,385.5 296.29,382.32 298.81,382.93 298.81,385.5" fill="#B4D8A4"/>
<polygon points="298.81,385.5 298.81,382.93 301.34,382.59 301.34,385.5" fill="#B4D8A4"/>
<polygon points="301.34,385.5 301.34,382.59 303.86,383.61 303.86,385.5" fill="#B4D8A4"/>
<polygon points="303.86,385.5 303.86,383.61 306.38,382.93 306.38,385.5" fill="#B4D8A4"/>
<polygon points="306.38,385.5 306.38,382.93 308.91,382.97 308.91,385.5" fill="#B4D8A4"/>
<polygon points="308.91,385.5 308.91,382.97 311.43,382.87 311.43,385.5" fill="#B4D8A4"/>
<polygon points="311.43,385.5 311.43,382.87 313.95,383.87 313.95,385.5" fill="#B4D8A4"/>
<polygon points="313.95,385.5 313.95,383.87 316.00,385.50 316.00,385.5" fill="#B4D8A4"/>
<polygon points="316.00,385.5 316.00,385.50 316.48,385.88 316.48,385.5" fill="#D8AFA2"/>
<polygon points="316.48,385.5 316.48,385.88 319.00,385.53 319.00,385.5" fill="#D8AFA2"/>
<polygon points="319.00,385.5 319.00,385.53 321.53,386.37 321.53,385.5" fill="#D8AFA2"/>
<polygon points="321.53,385.5 321.53,386.37 324.05,386.73 324.05,385.5" fill="#D8AFA2"/>
<polygon points="324.05,385.5 324.05,386.73 326.57,386.80 326.57,385.5" fill="#D8AFA2"/>
<polygon points="326.57,385.5 326.57,386.80 329.10,386.51 329.10,385.5" fill="#D8AFA2"/>
<polygon points="329.10,385.5 329.10,386.51 331.62,387.90 331.62,385.5" fill="#D8AFA2"/>
<polygon points="331.62,385.5 331.62,387.90 334.14,387.22 334.14,385.5" fill="#D8AFA2"/>
<polygon points="334.14,385.5 334.14,387.22 336.67,388.37 336.67,385.5" fill="#D8AFA2"/>
<polygon points="336.67,385.5 336.67,388.37 339.19,388.07 339.19,385.5" fill="#D8AFA2"/>
<polygon points="339.19,385.5 339.19,388.07 341.72,388.06 341.72,385.5" fill="#D8AFA2"/>
<polygon points="341.72,385.5 341.72,388.06 344.24,386.71 344.24,385.5" fill="#D8AFA2"/>
<polygon points="344.24,385.5 344.24,386.71 346.57,385.50 346.57,385.5" fill="#D8AFA2"/>
<polygon points="346.57,385.5 346.57,385.50 346.76,385.40 346.76,385.5" fill="#B4D8A4"/>
<polygon points="346.76,385.5 346.76,385.40 349.29,385.45 349.29,385.5" fill="#B4D8A4"/>
<polygon points="349.29,385.5 349.29,385.45 351.81,384.65 351.81,385.5" fill="#B4D8A4"/>
<polygon points="351.81,385.5 351.81,384.65 354.33,383.74 354.33,385.5" fill="#B4D8A4"/>
<polygon points="354.33,385.5 354.33,383.74 356.86,383.28 356.86,385.5" fill="#B4D8A4"/>
<polygon points="356.86,385.5 356.86,383.28 359.38,383.04 359.38,385.5" fill="#B4D8A4"/>
<polygon points="359.38,385.5 359.38,383.04 361.90,384.13 361.90,385.5" fill="#B4D8A4"/>
<polygon points="361.90,385.5 361.90,384.13 364.43,383.92 364.43,385.5" fill="#B4D8A4"/>
<polygon points="364.43,385.5 364.43,383.92 366.95,383.99 366.95,385.5" fill="#B4D8A4"/>
<polygon points="366.95,385.5 366.95,383.99 369.48,384.40 369.48,385.5" fill="#B4D8A4"/>
<polygon points="369.48,385.5 369.48,384.40 372.00,382.51 372.00,385.5" fill="#B4D8A4"/>
<polygon points="372.00,385.5 372.00,382.51 374.52,381.89 374.52,385.5" fill="#B4D8A4"/>
<polygon points="374.52,385.5 374.52,381.89 377.05,380.25 377.05,385.5" fill="#B4D8A4"/>
<polygon points="377.05,385.5 377.05,380.25 379.57,380.38 379.57,385.5" fill="#B4D8A4"/>
<polygon points="379.57,385.5 379.57,380.38 382.09,381.64 382.09,385.5" fill="#B4D8A4"/>
<polygon points="382.09,385.5 382.09,381.64 384.62,384.12 384.62,385.5" fill="#B4D8A4"/>
<polygon points="384.62,385.5 384.62,384.12 387.14,385.25 387.14,385.5" fill="#B4D8A4"/>
<polygon points="387.14,385.5 387.14,385.25 387.53,385.50 387.53,385.5" fill="#B4D8A4"/>
<polygon points="387.53,385.5 387.53,385.50 389.67,386.85 389.67,385.5" fill="#D8AFA2"/>
<polygon points="389.67,385.5 389.67,386.85 391.61,385.50 391.61,385.5" fill="#D8AFA2"/>
<polygon points="391.61,385.5 391.61,385.50 392.19,385.10 392.19,385.5" fill="#B4D8A4"/>
<polygon points="392.19,385.5 392.19,385.10 394.40,385.50 394.40,385.5" fill="#B4D8A4"/>
<polygon points="394.40,385.5 394.40,385.50 394.71,385.56 394.71,385.5" fill="#D8AFA2"/>
<polygon points="394.71,385.5 394.71,385.56 394.83,385.50 394.83,385.5" fill="#D8AFA2"/>
<polygon points="394.83,385.5 394.83,385.50 397.24,384.35 397.24,385.5" fill="#B4D8A4"/>
<polygon points="397.24,385.5 397.24,384.35 399.76,384.12 399.76,385.5" fill="#B4D8A4"/>
<polygon points="399.76,385.5 399.76,384.12 401.63,385.50 401.63,385.5" fill="#B4D8A4"/>
<polygon points="401.63,385.5 401.63,385.50 402.28,385.99 402.28,385.5" fill="#D8AFA2"/>
<polygon points="402.28,385.5 402.28,385.99 404.81,388.11 404.81,385.5" fill="#D8AFA2"/>
<polygon points="404.81,385.5 404.81,388.11 407.33,389.48 407.33,385.5" fill="#D8AFA2"/>
<polygon points="407.33,385.5 407.33,389.48 409.85,390.22 409.85,385.5" fill="#D8AFA2"/>
<polygon points="409.85,385.5 409.85,390.22 412.38,389.88 412.38,385.5" fill="#D8AFA2"/>
<polygon points="412.38,385.5 412.38,389.88 414.90,389.02 414.90,385.5" fill="#D8AFA2"/>
<polygon points="414.90,385.5 414.90,389.02 417.43,388.33 417.43,385.5" fill="#D8AFA2"/>
<polygon points="417.43,385.5 417.43,388.33 419.95,386.66 419.95,385.5" fill="#D8AFA2"/>
<polygon points="419.95,385.5 419.95,386.66 422.47,387.75 422.47,385.5" fill="#D8AFA2"/>
<polygon points="422.47,385.5 422.47,387.75 425.00,386.55 425.00,385.5" fill="#D8AFA2"/>
<polygon points="425.00,385.5 425.00,386.55 427.52,387.64 427.52,385.5" fill="#D8AFA2"/>
<polygon points="427.52,385.5 427.52,387.64 430.04,388.10 430.04,385.5" fill="#D8AFA2"/>
<polygon points="430.04,385.5 430.04,388.10 432.57,388.07 432.57,385.5" fill="#D8AFA2"/>
<polygon points="432.57,385.5 432.57,388.07 435.02,385.50 435.02,385.5" fill="#D8AFA2"/>
<polygon points="435.02,385.5 435.02,385.50 435.09,385.43 435.09,385.5" fill="#B4D8A4"/>
<polygon points="435.09,385.5 435.09,385.43 437.62,384.99 437.62,385.5" fill="#B4D8A4"/>
<polygon points="437.62,385.5 437.62,384.99 440.14,384.12 440.14,385.5" fill="#B4D8A4"/>
<polygon points="440.14,385.5 440.14,384.12 442.66,383.85 442.66,385.5" fill="#B4D8A4"/>
<polygon points="442.66,385.5 442.66,383.85 445.19,382.87 445.19,385.5" fill="#B4D8A4"/>
<polygon points="445.19,385.5 445.19,382.87 447.71,383.50 447.71,385.5" fill="#B4D8A4"/>
<polygon points="447.71,385.5 447.71,383.50 450.23,385.23 450.23,385.5" fill="#B4D8A4"/>
<polygon points="450.23,385.5 450.23,385.23 452.76,385.35 452.76,385.5" fill="#B4D8A4"/>
<polygon points="452.76,385.5 452.76,385.35 452.96,385.50 452.96,385.5" fill="#B4D8A4"/>
<polygon points="452.96,385.5 452.96,385.50 455.28,387.30 455.28,385.5" fill="#D8AFA2"/>
<polygon points="455.28,385.5 455.28,387.30 457.81,387.46 457.81,385.5" fill="#D8AFA2"/>
<polygon points="457.81,385.5 457.81,387.46 460.33,387.70 460.33,385.5" fill="#D8AFA2"/>
<polygon points="460.33,385.5 460.33,387.70 462.85,388.00 462.85,385.5" fill="#D8AFA2"/>
<polygon points="462.85,385.5 462.85,388.00 465.38,391.19 465.38,385.5" fill="#D8AFA2"/>
<polygon points="465.38,385.5 465.38,391.19 467.90,391.36 467.90,385.5" fill="#D8AFA2"/>
<polygon points="467.90,385.5 467.90,391.36 470.42,391.65 470.42,385.5" fill="#D8AFA2"/>
<polygon points="470.42,385.5 470.42,391.65 472.95,390.81 472.95,385.5" fill="#D8AFA2"/>
<polygon points="472.95,385.5 472.95,390.81 475.47,391.27 475.47,385.5" fill="#D8AFA2"/>
<polygon points="475.47,385.5 475.47,391.27 477.99,391.00 477.99,385.5" fill="#D8AFA2"/>
<polygon points="477.99,385.5 477.99,391.00 480.52,391.00 480.52,385.5" fill="#D8AFA2"/>
<polygon points="480.52,385.5 480.52,391.00 483.04,389.04 483.04,385.5" fill="#D8AFA2"/>
<polygon points="483.04,385.5 483.04,389.04 485.57,388.41 485.57,385.5" fill="#D8AFA2"/>
<polygon points="485.57,385.5 485.57,388.41 488.09,387.57 488.09,385.5" fill="#D8AFA2"/>
<polygon points="488.09,385.5 488.09,387.57 490.61,386.55 490.61,385.5" fill="#D8AFA2"/>
<polygon points="490.61,385.5 490.61,386.55 493.14,386.86 493.14,385.5" fill="#D8AFA2"/>
<polygon points="493.14,385.5 493.14,386.86 494.40,385.50 494.40,385.5" fill="#D8AFA2"/>
<polygon points="494.40,385.5 494.40,385.50 495.66,384.14 495.66,385.5" fill="#B4D8A4"/>
<polygon points="495.66,385.5 495.66,384.14 498.18,383.28 498.18,385.5" fill="#B4D8A4"/>
<polygon points="498.18,385.5 498.18,383.28 500.71,383.49 500.71,385.5" fill="#B4D8A4"/>
<polygon points="500.71,385.5 500.71,383.49 503.23,384.59 503.23,385.5" fill="#B4D8A4"/>
<polygon points="503.23,385.5 503.23,384.59 505.76,384.64 505.76,385.5" fill="#B4D8A4"/>
<polygon points="505.76,385.5 505.76,384.64 508.28,384.19 508.28,385.5" fill="#B4D8A4"/>
<polygon points="508.28,385.5 508.28,384.19 510.80,383.62 510.80,385.5" fill="#B4D8A4"/>
<polygon points="510.80,385.5 510.80,383.62 513.33,384.14 513.33,385.5" fill="#B4D8A4"/>
<polygon points="513.33,385.5 513.33,384.14 515.85,382.83 515.85,385.5" fill="#B4D8A4"/>
<polygon points="515.85,385.5 515.85,382.83 518.37,380.97 518.37,385.5" fill="#B4D8A4"/>
<polygon points="518.37,385.5 518.37,380.97 520.90,381.63 520.90,385.5" fill="#B4D8A4"/>
<polygon points="520.90,385.5 520.90,381.63 523.42,381.08 523.42,385.5" fill="#B4D8A4"/>
<polygon points="523.42,385.5 523.42,381.08 525.95,380.97 525.95,385.5" fill="#B4D8A4"/>
<polygon points="525.95,385.5 525.95,380.97 528.47,381.93 528.47,385.5" fill="#B4D8A4"/>
<polygon points="528.47,385.5 528.47,381.93 530.99,381.63 530.99,385.5" fill="#B4D8A4"/>
<polygon points="530.99,385.5 530.99,381.63 533.52,380.83 533.52,385.5" fill="#B4D8A4"/>
<polygon points="533.52,385.5 533.52,380.83 536.04,380.68 536.04,385.5" fill="#B4D8A4"/>
<polygon points="536.04,385.5 536.04,380.68 538.56,379.42 538.56,385.5" fill="#B4D8A4"/>
<polygon points="538.56,385.5 538.56,379.42 541.09,379.78 541.09,385.5" fill="#B4D8A4"/>
<polygon points="541.09,385.5 541.09,379.78 543.61,380.88 543.61,385.5" fill="#B4D8A4"/>
<polygon points="543.61,385.5 543.61,380.88 546.13,383.60 546.13,385.5" fill="#B4D8A4"/>
<polygon points="546.13,385.5 546.13,383.60 547.90,385.50 547.90,385.5" fill="#B4D8A4"/>
<polygon points="547.90,385.5 547.90,385.50 548.66,386.32 548.66,385.5" fill="#D8AFA2"/>
<polygon points="548.66,385.5 548.66,386.32 551.18,387.18 551.18,385.5" fill="#D8AFA2"/>
<polygon points="551.18,385.5 551.18,387.18 553.71,387.59 553.71,385.5" fill="#D8AFA2"/>
<polygon points="553.71,385.5 553.71,387.59 556.23,388.53 556.23,385.5" fill="#D8AFA2"/>
<polygon points="556.23,385.5 556.23,388.53 558.75,389.11 558.75,385.5" fill="#D8AFA2"/>
<polygon points="558.75,385.5 558.75,389.11 561.28,388.32 561.28,385.5" fill="#D8AFA2"/>
<polygon points="561.28,385.5 561.28,388.32 563.80,389.77 563.80,385.5" fill="#D8AFA2"/>
<polygon points="563.80,385.5 563.80,389.77 566.32,391.51 566.32,385.5" fill="#D8AFA2"/>
<polygon points="566.32,385.5 566.32,391.51 568.85,392.01 568.85,385.5" fill="#D8AFA2"/>
<polygon points="568.85,385.5 568.85,392.01 571.37,390.93 571.37,385.5" fill="#D8AFA2"/>
<polygon points="571.37,385.5 571.37,390.93 573.90,391.43 573.90,385.5" fill="#D8AFA2"/>
<polygon points="573.90,385.5 573.90,391.43 576.42,390.86 576.42,385.5" fill="#D8AFA2"/>
<polygon points="576.42,385.5 576.42,390.86 578.94,390.34 578.94,385.5" fill="#D8AFA2"/>
<polygon points="578.94,385.5 578.94,390.34 581.47,390.28 581.47,385.5" fill="#D8AFA2"/>
<rect x="46" y="385" width="553" height="1" fill="#1C1CE0"/>
<line x1="3.54" y1="384.67" x2="6.06" y2="384.61" stroke="#000000" stroke-width="1.3"/>
<line x1="6.06" y1="384.61" x2="8.59" y2="385.98" stroke="#E04848" stroke-width="1.3"/>
<line x1="8.59" y1="385.98" x2="11.11" y2="386.32" stroke="#E04848" stroke-width="1.3"/>
<line x1="11.11" y1="386.32" x2="13.63" y2="386.05" stroke="#000000" stroke-width="1.3"/>
<line x1="13.63" y1="386.05" x2="16.16" y2="386.39" stroke="#E04848" stroke-width="1.3"/>
<line x1="16.16" y1="386.39" x2="18.68" y2="385.85" stroke="#000000" stroke-width="1.3"/>
<line x1="18.68" y1="385.85" x2="21.21" y2="386.33" stroke="#E04848" stroke-width="1.3"/>
<line x1="21.21" y1="386.33" x2="23.73" y2="385.68" stroke="#000000" stroke-width="1.3"/>
<line x1="23.73" y1="385.68" x2="26.25" y2="385.76" stroke="#E04848" stroke-width="1.3"/>
<line x1="26.25" y1="385.76" x2="28.78" y2="385.55" stroke="#000000" stroke-width="1.3"/>
<line x1="28.78" y1="385.55" x2="31.30" y2="386.93" stroke="#E04848" stroke-width="1.3"/>
<line x1="31.30" y1="386.93" x2="33.82" y2="387.67" stroke="#E04848" stroke-width="1.3"/>
<line x1="33.82" y1="387.67" x2="36.35" y2="388.05" stroke="#E04848" stroke-width="1.3"/>
<line x1="36.35" y1="388.05" x2="38.87" y2="386.99" stroke="#000000" stroke-width="1.3"/>
<line x1="38.87" y1="386.99" x2="41.39" y2="386.60" stroke="#000000" stroke-width="1.3"/>
<line x1="41.39" y1="386.60" x2="43.92" y2="386.74" stroke="#E04848" stroke-width="1.3"/>
<line x1="43.92" y1="386.74" x2="46.44" y2="386.88" stroke="#E04848" stroke-width="1.3"/>
<line x1="46.44" y1="386.88" x2="48.97" y2="387.23" stroke="#E04848" stroke-width="1.3"/>
<line x1="48.97" y1="387.23" x2="51.49" y2="387.79" stroke="#E04848" stroke-width="1.3"/>
<line x1="51.49" y1="387.79" x2="54.01" y2="388.06" stroke="#E04848" stroke-width="1.3"/>
<line x1="54.01" y1="388.06" x2="56.54" y2="388.84" stroke="#E04848" stroke-width="1.3"/>
<line x1="56.54" y1="388.84" x2="59.06" y2="388.81" stroke="#000000" stroke-width="1.3"/>
<line x1="59.06" y1="388.81" x2="61.58" y2="387.46" stroke="#000000" stroke-width="1.3"/>
<line x1="61.58" y1="387.46" x2="64.11" y2="386.54" stroke="#000000" stroke-width="1.3"/>
<line x1="64.11" y1="386.54" x2="66.63" y2="385.38" stroke="#000000" stroke-width="1.3"/>
<line x1="66.63" y1="385.38" x2="69.16" y2="385.39" stroke="#E04848" stroke-width="1.3"/>
<line x1="69.16" y1="385.39" x2="71.68" y2="385.95" stroke="#E04848" stroke-width="1.3"/>
<line x1="71.68" y1="385.95" x2="74.20" y2="385.08" stroke="#000000" stroke-width="1.3"/>
<line x1="74.20" y1="385.08" x2="76.73" y2="384.80" stroke="#000000" stroke-width="1.3"/>
<line x1="76.73" y1="384.80" x2="79.25" y2="384.89" stroke="#E04848" stroke-width="1.3"/>
<line x1="79.25" y1="384.89" x2="81.77" y2="384.68" stroke="#000000" stroke-width="1.3"/>
<line x1="81.77" y1="384.68" x2="84.30" y2="384.68" stroke="#000000" stroke-width="1.3"/>
<line x1="84.30" y1="384.68" x2="86.82" y2="384.56" stroke="#000000" stroke-width="1.3"/>
<line x1="86.82" y1="384.56" x2="89.35" y2="384.30" stroke="#000000" stroke-width="1.3"/>
<line x1="89.35" y1="384.30" x2="91.87" y2="384.32" stroke="#E04848" stroke-width="1.3"/>
<line x1="91.87" y1="384.32" x2="94.39" y2="385.12" stroke="#E04848" stroke-width="1.3"/>
<line x1="94.39" y1="385.12" x2="96.92" y2="385.25" stroke="#E04848" stroke-width="1.3"/>
<line x1="96.92" y1="385.25" x2="99.44" y2="384.56" stroke="#000000" stroke-width="1.3"/>
<line x1="99.44" y1="384.56" x2="101.96" y2="384.21" stroke="#000000" stroke-width="1.3"/>
<line x1="101.96" y1="384.21" x2="104.49" y2="384.30" stroke="#E04848" stroke-width="1.3"/>
<line x1="104.49" y1="384.30" x2="107.01" y2="384.35" stroke="#E04848" stroke-width="1.3"/>
<line x1="107.01" y1="384.35" x2="109.53" y2="383.18" stroke="#000000" stroke-width="1.3"/>
<line x1="109.53" y1="383.18" x2="112.06" y2="383.27" stroke="#E04848" stroke-width="1.3"/>
<line x1="112.06" y1="383.27" x2="114.58" y2="383.57" stroke="#E04848" stroke-width="1.3"/>
<line x1="114.58" y1="383.57" x2="117.11" y2="383.94" stroke="#E04848" stroke-width="1.3"/>
<line x1="117.11" y1="383.94" x2="119.63" y2="384.33" stroke="#E04848" stroke-width="1.3"/>
<line x1="119.63" y1="384.33" x2="122.15" y2="384.40" stroke="#E04848" stroke-width="1.3"/>
<line x1="122.15" y1="384.40" x2="124.68" y2="384.08" stroke="#000000" stroke-width="1.3"/>
<line x1="124.68" y1="384.08" x2="127.20" y2="383.65" stroke="#000000" stroke-width="1.3"/>
<line x1="127.20" y1="383.65" x2="129.72" y2="385.03" stroke="#E04848" stroke-width="1.3"/>
<line x1="129.72" y1="385.03" x2="132.25" y2="385.32" stroke="#E04848" stroke-width="1.3"/>
<line x1="132.25" y1="385.32" x2="134.77" y2="385.46" stroke="#E04848" stroke-width="1.3"/>
<line x1="134.77" y1="385.46" x2="137.30" y2="385.83" stroke="#E04848" stroke-width="1.3"/>
<line x1="137.30" y1="385.83" x2="139.82" y2="386.76" stroke="#E04848" stroke-width="1.3"/>
<line x1="139.82" y1="386.76" x2="142.34" y2="386.53" stroke="#000000" stroke-width="1.3"/>
<line x1="142.34" y1="386.53" x2="144.87" y2="386.11" stroke="#000000" stroke-width="1.3"/>
<line x1="144.87" y1="386.11" x2="147.39" y2="384.70" stroke="#000000" stroke-width="1.3"/>
<line x1="147.39" y1="384.70" x2="149.91" y2="384.79" stroke="#E04848" stroke-width="1.3"/>
<line x1="149.91" y1="384.79" x2="152.44" y2="384.46" stroke="#000000" stroke-width="1.3"/>
<line x1="152.44" y1="384.46" x2="154.96" y2="383.36" stroke="#000000" stroke-width="1.3"/>
<line x1="154.96" y1="383.36" x2="157.48" y2="383.97" stroke="#E04848" stroke-width="1.3"/>
<line x1="157.48" y1="383.97" x2="160.01" y2="382.67" stroke="#000000" stroke-width="1.3"/>
<line x1="160.01" y1="382.67" x2="162.53" y2="382.63" stroke="#000000" stroke-width="1.3"/>
<line x1="162.53" y1="382.63" x2="165.06" y2="383.34" stroke="#E04848" stroke-width="1.3"/>
<line x1="165.06" y1="383.34" x2="167.58" y2="383.11" stroke="#000000" stroke-width="1.3"/>
<line x1="167.58" y1="383.11" x2="170.10" y2="383.04" stroke="#000000" stroke-width="1.3"/>
<line x1="170.10" y1="383.04" x2="172.63" y2="382.76" stroke="#000000" stroke-width="1.3"/>
<line x1="172.63" y1="382.76" x2="175.15" y2="382.44" stroke="#000000" stroke-width="1.3"/>
<line x1="175.15" y1="382.44" x2="177.67" y2="383.49" stroke="#E04848" stroke-width="1.3"/>
<line x1="177.67" y1="383.49" x2="180.20" y2="384.29" stroke="#E04848" stroke-width="1.3"/>
<line x1="180.20" y1="384.29" x2="182.72" y2="383.51" stroke="#000000" stroke-width="1.3"/>
<line x1="182.72" y1="383.51" x2="185.25" y2="383.94" stroke="#E04848" stroke-width="1.3"/>
<line x1="185.25" y1="383.94" x2="187.77" y2="384.80" stroke="#E04848" stroke-width="1.3"/>
<line x1="187.77" y1="384.80" x2="190.29" y2="385.04" stroke="#E04848" stroke-width="1.3"/>
<line x1="190.29" y1="385.04" x2="192.82" y2="384.25" stroke="#000000" stroke-width="1.3"/>
<line x1="192.82" y1="384.25" x2="195.34" y2="384.04" stroke="#000000" stroke-width="1.3"/>
<line x1="195.34" y1="384.04" x2="197.86" y2="383.84" stroke="#000000" stroke-width="1.3"/>
<line x1="197.86" y1="383.84" x2="200.39" y2="384.44" stroke="#E04848" stroke-width="1.3"/>
<line x1="200.39" y1="384.44" x2="202.91" y2="382.81" stroke="#000000" stroke-width="1.3"/>
<line x1="202.91" y1="382.81" x2="205.44" y2="383.04" stroke="#E04848" stroke-width="1.3"/>
<line x1="205.44" y1="383.04" x2="207.96" y2="382.88" stroke="#000000" stroke-width="1.3"/>
<line x1="207.96" y1="382.88" x2="210.48" y2="382.68" stroke="#000000" stroke-width="1.3"/>
<line x1="210.48" y1="382.68" x2="213.01" y2="383.09" stroke="#E04848" stroke-width="1.3"/>
<line x1="213.01" y1="383.09" x2="215.53" y2="383.54" stroke="#E04848" stroke-width="1.3"/>
<line x1="215.53" y1="383.54" x2="218.05" y2="382.59" stroke="#000000" stroke-width="1.3"/>
<line x1="218.05" y1="382.59" x2="220.58" y2="383.29" stroke="#E04848" stroke-width="1.3"/>
<line x1="220.58" y1="383.29" x2="223.10" y2="382.99" stroke="#000000" stroke-width="1.3"/>
<line x1="223.10" y1="382.99" x2="225.62" y2="383.59" stroke="#E04848" stroke-width="1.3"/>
<line x1="225.62" y1="383.59" x2="228.15" y2="383.46" stroke="#000000" stroke-width="1.3"/>
<line x1="228.15" y1="383.46" x2="230.67" y2="381.83" stroke="#000000" stroke-width="1.3"/>
<line x1="230.67" y1="381.83" x2="233.20" y2="383.99" stroke="#E04848" stroke-width="1.3"/>
<line x1="233.20" y1="383.99" x2="235.72" y2="383.28" stroke="#000000" stroke-width="1.3"/>
<line x1="235.72" y1="383.28" x2="238.24" y2="384.10" stroke="#E04848" stroke-width="1.3"/>
<line x1="238.24" y1="384.10" x2="240.77" y2="382.99" stroke="#000000" stroke-width="1.3"/>
<line x1="240.77" y1="382.99" x2="243.29" y2="382.99" stroke="#000000" stroke-width="1.3"/>
<line x1="243.29" y1="382.99" x2="245.81" y2="382.68" stroke="#000000" stroke-width="1.3"/>
<line x1="245.81" y1="382.68" x2="248.34" y2="382.68" stroke="#000000" stroke-width="1.3"/>
<line x1="248.34" y1="382.68" x2="250.86" y2="383.04" stroke="#E04848" stroke-width="1.3"/>
<line x1="250.86" y1="383.04" x2="253.39" y2="383.74" stroke="#E04848" stroke-width="1.3"/>
<line x1="253.39" y1="383.74" x2="255.91" y2="383.19" stroke="#000000" stroke-width="1.3"/>
<line x1="255.91" y1="383.19" x2="258.43" y2="383.54" stroke="#E04848" stroke-width="1.3"/>
<line x1="258.43" y1="383.54" x2="260.96" y2="384.85" stroke="#E04848" stroke-width="1.3"/>
<line x1="260.96" y1="384.85" x2="263.48" y2="384.35" stroke="#000000" stroke-width="1.3"/>
<line x1="263.48" y1="384.35" x2="266.00" y2="385.38" stroke="#E04848" stroke-width="1.3"/>
<line x1="266.00" y1="385.38" x2="268.53" y2="383.63" stroke="#000000" stroke-width="1.3"/>
<line x1="268.53" y1="383.63" x2="271.05" y2="383.30" stroke="#000000" stroke-width="1.3"/>
<line x1="271.05" y1="383.30" x2="273.58" y2="383.06" stroke="#000000" stroke-width="1.3"/>
<line x1="273.58" y1="383.06" x2="276.10" y2="383.40" stroke="#E04848" stroke-width="1.3"/>
<line x1="276.10" y1="383.40" x2="278.62" y2="383.70" stroke="#E04848" stroke-width="1.3"/>
<line x1="278.62" y1="383.70" x2="281.15" y2="383.46" stroke="#000000" stroke-width="1.3"/>
<line x1="281.15" y1="383.46" x2="283.67" y2="383.71" stroke="#E04848" stroke-width="1.3"/>
<line x1="283.67" y1="383.71" x2="286.19" y2="383.51" stroke="#000000" stroke-width="1.3"/>
<line x1="286.19" y1="383.51" x2="288.72" y2="383.51" stroke="#000000" stroke-width="1.3"/>
<line x1="288.72" y1="383.51" x2="291.24" y2="382.61" stroke="#000000" stroke-width="1.3"/>
<line x1="291.24" y1="382.61" x2="293.76" y2="382.51" stroke="#000000" stroke-width="1.3"/>
<line x1="293.76" y1="382.51" x2="296.29" y2="382.32" stroke="#000000" stroke-width="1.3"/>
<line x1="296.29" y1="382.32" x2="298.81" y2="382.93" stroke="#E04848" stroke-width="1.3"/>
<line x1="298.81" y1="382.93" x2="301.34" y2="382.59" stroke="#000000" stroke-width="1.3"/>
<line x1="301.34" y1="382.59" x2="303.86" y2="383.61" stroke="#E04848" stroke-width="1.3"/>
<line x1="303.86" y1="383.61" x2="306.38" y2="382.93" stroke="#000000" stroke-width="1.3"/>
<line x1="306.38" y1="382.93" x2="308.91" y2="382.97" stroke="#E04848" stroke-width="1.3"/>
<line x1="308.91" y1="382.97" x2="311.43" y2="382.87" stroke="#000000" stroke-width="1.3"/>
<line x1="311.43" y1="382.87" x2="313.95" y2="383.87" stroke="#E04848" stroke-width="1.3"/>
<line x1="313.95" y1="383.87" x2="316.48" y2="385.88" stroke="#E04848" stroke-width="1.3"/>
<line x1="316.48" y1="385.88" x2="319.00" y2="385.53" stroke="#000000" stroke-width="1.3"/>
<line x1="319.00" y1="385.53" x2="321.53" y2="386.37" stroke="#E04848" stroke-width="1.3"/>
<line x1="321.53" y1="386.37" x2="324.05" y2="386.73" stroke="#E04848" stroke-width="1.3"/>
<line x1="324.05" y1="386.73" x2="326.57" y2="386.80" stroke="#E04848" stroke-width="1.3"/>
<line x1="326.57" y1="386.80" x2="329.10" y2="386.51" stroke="#000000" stroke-width="1.3"/>
<line x1="329.10" y1="386.51" x2="331.62" y2="387.90" stroke="#E04848" stroke-width="1.3"/>
<line x1="331.62" y1="387.90" x2="334.14" y2="387.22" stroke="#000000" stroke-width="1.3"/>
<line x1="334.14" y1="387.22" x2="336.67" y2="388.37" stroke="#E04848" stroke-width="1.3"/>
<line x1="336.67" y1="388.37" x2="339.19" y2="388.07" stroke="#000000" stroke-width="1.3"/>
<line x1="339.19" y1="388.07" x2="341.72" y2="388.06" stroke="#000000" stroke-width="1.3"/>
<line x1="341.72" y1="388.06" x2="344.24" y2="386.71" stroke="#000000" stroke-width="1.3"/>
<line x1="344.24" y1="386.71" x2="346.76" y2="385.40" stroke="#000000" stroke-width="1.3"/>
<line x1="346.76" y1="385.40" x2="349.29" y2="385.45" stroke="#E04848" stroke-width="1.3"/>
<line x1="349.29" y1="385.45" x2="351.81" y2="384.65" stroke="#000000" stroke-width="1.3"/>
<line x1="351.81" y1="384.65" x2="354.33" y2="383.74" stroke="#000000" stroke-width="1.3"/>
<line x1="354.33" y1="383.74" x2="356.86" y2="383.28" stroke="#000000" stroke-width="1.3"/>
<line x1="356.86" y1="383.28" x2="359.38" y2="383.04" stroke="#000000" stroke-width="1.3"/>
<line x1="359.38" y1="383.04" x2="361.90" y2="384.13" stroke="#E04848" stroke-width="1.3"/>
<line x1="361.90" y1="384.13" x2="364.43" y2="383.92" stroke="#000000" stroke-width="1.3"/>
<line x1="364.43" y1="383.92" x2="366.95" y2="383.99" stroke="#E04848" stroke-width="1.3"/>
<line x1="366.95" y1="383.99" x2="369.48" y2="384.40" stroke="#E04848" stroke-width="1.3"/>
<line x1="369.48" y1="384.40" x2="372.00" y2="382.51" stroke="#000000" stroke-width="1.3"/>
<line x1="372.00" y1="382.51" x2="374.52" y2="381.89" stroke="#000000" stroke-width="1.3"/>
<line x1="374.52" y1="381.89" x2="377.05" y2="380.25" stroke="#000000" stroke-width="1.3"/>
<line x1="377.05" y1="380.25" x2="379.57" y2="380.38" stroke="#E04848" stroke-width="1.3"/>
<line x1="379.57" y1="380.38" x2="382.09" y2="381.64" stroke="#E04848" stroke-width="1.3"/>
<line x1="382.09" y1="381.64" x2="384.62" y2="384.12" stroke="#E04848" stroke-width="1.3"/>
<line x1="384.62" y1="384.12" x2="387.14" y2="385.25" stroke="#E04848" stroke-width="1.3"/>
<line x1="387.14" y1="385.25" x2="389.67" y2="386.85" stroke="#E04848" stroke-width="1.3"/>
<line x1="389.67" y1="386.85" x2="392.19" y2="385.10" stroke="#000000" stroke-width="1.3"/>
<line x1="392.19" y1="385.10" x2="394.71" y2="385.56" stroke="#E04848" stroke-width="1.3"/>
<line x1="394.71" y1="385.56" x2="397.24" y2="384.35" stroke="#000000" stroke-width="1.3"/>
<line x1="397.24" y1="384.35" x2="399.76" y2="384.12" stroke="#000000" stroke-width="1.3"/>
<line x1="399.76" y1="384.12" x2="402.28" y2="385.99" stroke="#E04848" stroke-width="1.3"/>
<line x1="402.28" y1="385.99" x2="404.81" y2="388.11" stroke="#E04848" stroke-width="1.3"/>
<line x1="404.81" y1="388.11" x2="407.33" y2="389.48" stroke="#E04848" stroke-width="1.3"/>
<line x1="407.33" y1="389.48" x2="409.85" y2="390.22" stroke="#E04848" stroke-width="1.3"/>
<line x1="409.85" y1="390.22" x2="412.38" y2="389.88" stroke="#000000" stroke-width="1.3"/>
<line x1="412.38" y1="389.88" x2="414.90" y2="389.02" stroke="#000000" stroke-width="1.3"/>
<line x1="414.90" y1="389.02" x2="417.43" y2="388.33" stroke="#000000" stroke-width="1.3"/>
<line x1="417.43" y1="388.33" x2="419.95" y2="386.66" stroke="#000000" stroke-width="1.3"/>
<line x1="419.95" y1="386.66" x2="422.47" y2="387.75" stroke="#E04848" stroke-width="1.3"/>
<line x1="422.47" y1="387.75" x2="425.00" y2="386.55" stroke="#000000" stroke-width="1.3"/>
<line x1="425.00" y1="386.55" x2="427.52" y2="387.64" stroke="#E04848" stroke-width="1.3"/>
<line x1="427.52" y1="387.64" x2="430.04" y2="388.10" stroke="#E04848" stroke-width="1.3"/>
<line x1="430.04" y1="388.10" x2="432.57" y2="388.07" stroke="#000000" stroke-width="1.3"/>
<line x1="432.57" y1="388.07" x2="435.09" y2="385.43" stroke="#000000" stroke-width="1.3"/>
<line x1="435.09" y1="385.43" x2="437.62" y2="384.99" stroke="#000000" stroke-width="1.3"/>
<line x1="437.62" y1="384.99" x2="440.14" y2="384.12" stroke="#000000" stroke-width="1.3"/>
<line x1="440.14" y1="384.12" x2="442.66" y2="383.85" stroke="#000000" stroke-width="1.3"/>
<line x1="442.66" y1="383.85" x2="445.19" y2="382.87" stroke="#000000" stroke-width="1.3"/>
<line x1="445.19" y1="382.87" x2="447.71" y2="383.50" stroke="#E04848" stroke-width="1.3"/>
<line x1="447.71" y1="383.50" x2="450.23" y2="385.23" stroke="#E04848" stroke-width="1.3"/>
<line x1="450.23" y1="385.23" x2="452.76" y2="385.35" stroke="#E04848" stroke-width="1.3"/>
<line x1="452.76" y1="385.35" x2="455.28" y2="387.30" stroke="#E04848" stroke-width="1.3"/>
<line x1="455.28" y1="387.30" x2="457.81" y2="387.46" stroke="#E04848" stroke-width="1.3"/>
<line x1="457.81" y1="387.46" x2="460.33" y2="387.70" stroke="#E04848" stroke-width="1.3"/>
<line x1="460.33" y1="387.70" x2="462.85" y2="388.00" stroke="#E04848" stroke-width="1.3"/>
<line x1="462.85" y1="388.00" x2="465.38" y2="391.19" stroke="#E04848" stroke-width="1.3"/>
<line x1="465.38" y1="391.19" x2="467.90" y2="391.36" stroke="#E04848" stroke-width="1.3"/>
<line x1="467.90" y1="391.36" x2="470.42" y2="391.65" stroke="#E04848" stroke-width="1.3"/>
<line x1="470.42" y1="391.65" x2="472.95" y2="390.81" stroke="#000000" stroke-width="1.3"/>
<line x1="472.95" y1="390.81" x2="475.47" y2="391.27" stroke="#E04848" stroke-width="1.3"/>
<line x1="475.47" y1="391.27" x2="477.99" y2="391.00" stroke="#000000" stroke-width="1.3"/>
<line x1="477.99" y1="391.00" x2="480.52" y2="391.00" stroke="#000000" stroke-width="1.3"/>
<line x1="480.52" y1="391.00" x2="483.04" y2="389.04" stroke="#000000" stroke-width="1.3"/>
<line x1="483.04" y1="389.04" x2="485.57" y2="388.41" stroke="#000000" stroke-width="1.3"/>
<line x1="485.57" y1="388.41" x2="488.09" y2="387.57" stroke="#000000" stroke-width="1.3"/>
<line x1="488.09" y1="387.57" x2="490.61" y2="386.55" stroke="#000000" stroke-width="1.3"/>
<line x1="490.61" y1="386.55" x2="493.14" y2="386.86" stroke="#E04848" stroke-width="1.3"/>
<line x1="493.14" y1="386.86" x2="495.66" y2="384.14" stroke="#000000" stroke-width="1.3"/>
<line x1="495.66" y1="384.14" x2="498.18" y2="383.28" stroke="#000000" stroke-width="1.3"/>
<line x1="498.18" y1="383.28" x2="500.71" y2="383.49" stroke="#E04848" stroke-width="1.3"/>
<line x1="500.71" y1="383.49" x2="503.23" y2="384.59" stroke="#E04848" stroke-width="1.3"/>
<line x1="503.23" y1="384.59" x2="505.76" y2="384.64" stroke="#E04848" stroke-width="1.3"/>
<line x1="505.76" y1="384.64" x2="508.28" y2="384.19" stroke="#000000" stroke-width="1.3"/>
<line x1="508.28" y1="384.19" x2="510.80" y2="383.62" stroke="#000000" stroke-width="1.3"/>
<line x1="510.80" y1="383.62" x2="513.33" y2="384.14" stroke="#E04848" stroke-width="1.3"/>
<line x1="513.33" y1="384.14" x2="515.85" y2="382.83" stroke="#000000" stroke-width="1.3"/>
<line x1="515.85" y1="382.83" x2="518.37" y2="380.97" stroke="#000000" stroke-width="1.3"/>
<line x1="518.37" y1="380.97" x2="520.90" y2="381.63" stroke="#E04848" stroke-width="1.3"/>
<line x1="520.90" y1="381.63" x2="523.42" y2="381.08" stroke="#000000" stroke-width="1.3"/>
<line x1="523.42" y1="381.08" x2="525.95" y2="380.97" stroke="#000000" stroke-width="1.3"/>
<line x1="525.95" y1="380.97" x2="528.47" y2="381.93" stroke="#E04848" stroke-width="1.3"/>
<line x1="528.47" y1="381.93" x2="530.99" y2="381.63" stroke="#000000" stroke-width="1.3"/>
<line x1="530.99" y1="381.63" x2="533.52" y2="380.83" stroke="#000000" stroke-width="1.3"/>
<line x1="533.52" y1="380.83" x2="536.04" y2="380.68" stroke="#000000" stroke-width="1.3"/>
<line x1="536.04" y1="380.68" x2="538.56" y2="379.42" stroke="#000000" stroke-width="1.3"/>
<line x1="538.56" y1="379.42" x2="541.09" y2="379.78" stroke="#E04848" stroke-width="1.3"/>
<line x1="541.09" y1="379.78" x2="543.61" y2="380.88" stroke="#E04848" stroke-width="1.3"/>
<line x1="543.61" y1="380.88" x2="546.13" y2="383.60" stroke="#E04848" stroke-width="1.3"/>
<line x1="546.13" y1="383.60" x2="548.66" y2="386.32" stroke="#E04848" stroke-width="1.3"/>
<line x1="548.66" y1="386.32" x2="551.18" y2="387.18" stroke="#E04848" stroke-width="1.3"/>
<line x1="551.18" y1="387.18" x2="553.71" y2="387.59" stroke="#E04848" stroke-width="1.3"/>
<line x1="553.71" y1="387.59" x2="556.23" y2="388.53" stroke="#E04848" stroke-width="1.3"/>
<line x1="556.23" y1="388.53" x2="558.75" y2="389.11" stroke="#E04848" stroke-width="1.3"/>
<line x1="558.75" y1="389.11" x2="561.28" y2="388.32" stroke="#000000" stroke-width="1.3"/>
<line x1="561.28" y1="388.32" x2="563.80" y2="389.77" stroke="#E04848" stroke-width="1.3"/>
<line x1="563.80" y1="389.77" x2="566.32" y2="391.51" stroke="#E04848" stroke-width="1.3"/>
<line x1="566.32" y1="391.51" x2="568.85" y2="392.01" stroke="#E04848" stroke-width="1.3"/>
<line x1="568.85" y1="392.01" x2="571.37" y2="390.93" stroke="#000000" stroke-width="1.3"/>
<line x1="571.37" y1="390.93" x2="573.90" y2="391.43" stroke="#E04848" stroke-width="1.3"/>
<line x1="573.90" y1="391.43" x2="576.42" y2="390.86" stroke="#000000" stroke-width="1.3"/>
<line x1="576.42" y1="390.86" x2="578.94" y2="390.34" stroke="#000000" stroke-width="1.3"/>
<line x1="578.94" y1="390.34" x2="581.47" y2="390.28" stroke="#000000" stroke-width="1.3"/>
</g>
<rect x="41" y="403" width="558" height="1" fill="#1C1CE0"/>
<rect x="1" y="410" width="598" height="1" fill="#1C1CE0"/>
<g clip-path="url(#cp_rsi)">
<polyline points="3.54,404.89 6.06,405.38 8.59,407.04 11.11,407.40 13.63,407.40 16.16,407.20 18.68,407.15 21.21,407.15 23.73,406.20 26.25,405.02 28.78,404.76 31.30,408.25 33.82,409.20 36.35,409.86 38.87,409.08 41.39,408.62 43.92,408.82 46.44,408.91 48.97,409.38 51.49,410.10 54.01,409.88 56.54,410.19 59.06,409.73 61.58,410.01 64.11,409.30 66.63,407.81 69.16,407.08 71.68,407.72 74.20,406.31 76.73,405.95 79.25,406.78 81.77,407.39 84.30,407.23 86.82,407.49 89.35,406.61 91.87,407.08 94.39,408.05 96.92,407.07 99.44,405.41 101.96,405.41 104.49,404.55 107.01,404.34 109.53,403.53 112.06,404.45 114.58,404.90 117.11,405.88 119.63,405.82 122.15,406.39 124.68,406.79 127.20,405.38 129.72,406.02 132.25,406.53 134.77,405.76 137.30,406.13 139.82,406.49 142.34,406.86 144.87,406.50 147.39,405.10 149.91,405.21 152.44,405.16 154.96,404.00 157.48,403.66 160.01,402.76 162.53,403.32 165.06,403.78 167.58,403.75 170.10,404.05 172.63,403.96 175.15,403.32 177.67,403.72 180.20,405.70 182.72,404.60 185.25,404.09 187.77,405.18 190.29,404.36 192.82,403.81 195.34,403.81 197.86,403.58 200.39,405.06 202.91,403.42 205.44,403.20 207.96,403.19 210.48,404.40 213.01,404.02 215.53,404.02 218.05,403.64 220.58,403.64 223.10,402.88 225.62,404.09 228.15,403.75 230.67,403.00 233.20,403.85 235.72,403.05 238.24,404.41 240.77,404.02 243.29,403.70 245.81,403.46 248.34,403.16 250.86,403.80 253.39,403.67 255.91,403.77 258.43,403.77 260.96,404.61 263.48,404.55 266.00,404.60 268.53,403.51 271.05,402.79 273.58,402.31 276.10,402.39 278.62,402.32 281.15,402.59 283.67,402.88 286.19,402.72 288.72,402.72 291.24,402.23 293.76,402.08 296.29,401.93 298.81,401.65 301.34,400.87 303.86,401.95 306.38,401.50 308.91,401.46 311.43,401.49 313.95,404.33 316.48,407.34 319.00,406.86 321.53,407.32 324.05,407.58 326.57,407.43 329.10,406.53 331.62,406.91 334.14,406.46 336.67,407.22 339.19,406.68 341.72,406.68 344.24,406.28 346.76,407.21 349.29,406.70 351.81,406.00 354.33,405.05 356.86,404.41 359.38,403.57 361.90,405.80 364.43,405.25 366.95,406.06 369.48,406.14 372.00,404.32 374.52,403.70 377.05,403.03 379.57,402.93 382.09,404.09 384.62,406.15 387.14,406.70 389.67,407.37 392.19,406.98 394.71,406.92 397.24,406.30 399.76,406.13 402.28,406.11 404.81,407.49 407.33,407.76 409.85,408.30 412.38,408.71 414.90,409.45 417.43,409.29 419.95,408.06 422.47,408.67 425.00,407.21 427.52,407.64 430.04,407.90 432.57,407.83 435.09,406.32 437.62,406.15 440.14,405.87 442.66,406.10 445.19,406.04 447.71,406.73 450.23,407.67 452.76,408.49 455.28,409.10 457.81,409.61 460.33,410.00 462.85,410.18 465.38,411.27 467.90,411.27 470.42,411.27 472.95,410.16 475.47,410.45 477.99,410.62 480.52,411.14 483.04,409.31 485.57,409.35 488.09,409.04 490.61,408.30 493.14,408.84 495.66,407.59 498.18,406.58 500.71,406.82 503.23,407.34 505.76,407.83 508.28,407.56 510.80,407.84 513.33,406.96 515.85,405.53 518.37,403.90 520.90,404.11 523.42,404.11 525.95,403.42 528.47,403.57 530.99,403.50 533.52,403.24 536.04,403.76 538.56,402.76 541.09,403.70 543.61,404.38 546.13,406.20 548.66,406.88 551.18,407.83 553.71,408.18 556.23,408.10 558.75,408.69 561.28,407.64 563.80,408.56 566.32,409.89 568.85,408.86 571.37,408.38 573.90,409.01 576.42,409.54 578.94,409.62 581.47,410.16" fill="none" stroke="#000000" stroke-width="1.3"/>
</g>
<g shape-rendering="crispEdges">
<rect x="3" y="431" width="1" height="2" fill="#E04848"/>
<rect x="6" y="431" width="1" height="2" fill="#E04848"/>
<rect x="8" y="431" width="1" height="2" fill="#E04848"/>
<rect x="11" y="431" width="1" height="2" fill="#E04848"/>
<rect x="13" y="431" width="1" height="2" fill="#3CCB3C"/>
<rect x="16" y="431" width="1" height="2" fill="#E04848"/>
<rect x="18" y="431" width="1" height="2" fill="#E04848"/>
<rect x="21" y="430" width="1" height="3" fill="#E04848"/>
<rect x="23" y="431" width="1" height="2" fill="#3CCB3C"/>
<rect x="26" y="432" width="1" height="1" fill="#3CCB3C"/>
<rect x="28" y="432" width="1" height="1" fill="#3CCB3C"/>
<rect x="31" y="432" width="1" height="1" fill="#E04848"/>
<rect x="33" y="432" width="1" height="1" fill="#E04848"/>
<rect x="36" y="432" width="1" height="1" fill="#E04848"/>
<rect x="38" y="432" width="1" height="1" fill="#E04848"/>
<rect x="41" y="432" width="1" height="1" fill="#E04848"/>
<rect x="43" y="432" width="1" height="1" fill="#E04848"/>
<rect x="46" y="430" width="1" height="3" fill="#E04848"/>
<rect x="48" y="426" width="1" height="7" fill="#E04848"/>
<rect x="51" y="427" width="1" height="6" fill="#E04848"/>
<rect x="54" y="426" width="1" height="7" fill="#3CCB3C"/>
<rect x="56" y="421" width="1" height="12" fill="#E04848"/>
<rect x="59" y="431" width="1" height="2" fill="#3CCB3C"/>
<rect x="61" y="431" width="1" height="2" fill="#E04848"/>
<rect x="64" y="430" width="1" height="3" fill="#E04848"/>
<rect x="66" y="428" width="1" height="5" fill="#3CCB3C"/>
<rect x="69" y="430" width="1" height="3" fill="#E04848"/>
<rect x="71" y="432" width="1" height="1" fill="#E04848"/>
<rect x="74" y="432" width="1" height="1" fill="#3CCB3C"/>
<rect x="76" y="431" width="1" height="2" fill="#3CCB3C"/>
<rect x="79" y="432" width="1" height="1" fill="#E04848"/>
<rect x="81" y="432" width="1" height="1" fill="#E04848"/>
<rect x="84" y="432" width="1" height="1" fill="#3CCB3C"/>
<rect x="86" y="432" width="1" height="1" fill="#E04848"/>
<rect x="89" y="432" width="1" height="1" fill="#3CCB3C"/>
<rect x="91" y="432" width="1" height="1" fill="#E04848"/>
<rect x="94" y="431" width="1" height="2" fill="#E04848"/>
<rect x="96" y="431" width="1" height="2" fill="#3CCB3C"/>
<rect x="99" y="432" width="1" height="1" fill="#3CCB3C"/>
<rect x="101" y="431" width="1" height="2" fill="#3CCB3C"/>
<rect x="104" y="430" width="1" height="3" fill="#3CCB3C"/>
<rect x="107" y="431" width="1" height="2" fill="#3CCB3C"/>
<rect x="109" y="432" width="1" height="1" fill="#3CCB3C"/>
<rect x="112" y="431" width="1" height="2" fill="#E04848"/>
<rect x="114" y="430" width="1" height="3" fill="#E04848"/>
<rect x="117" y="432" width="1" height="1" fill="#E04848"/>
<rect x="119" y="430" width="1" height="3" fill="#E04848"/>
<rect x="122" y="430" width="1" height="3" fill="#E04848"/>
<rect x="124" y="431" width="1" height="2" fill="#E04848"/>
<rect x="127" y="431" width="1" height="2" fill="#3CCB3C"/>
<rect x="129" y="431" width="1" height="2" fill="#E04848"/>
<rect x="132" y="430" width="1" height="3" fill="#E04848"/>
<rect x="134" y="431" width="1" height="2" fill="#3CCB3C"/>
<rect x="137" y="430" width="1" height="3" fill="#E04848"/>
<rect x="139" y="430" width="1" height="3" fill="#E04848"/>
<rect x="142" y="431" width="1" height="2" fill="#E04848"/>
<rect x="144" y="431" width="1" height="2" fill="#3CCB3C"/>
<rect x="147" y="430" width="1" height="3" fill="#3CCB3C"/>
<rect x="149" y="430" width="1" height="3" fill="#E04848"/>
<rect x="152" y="431" width="1" height="2" fill="#E04848"/>
<rect x="154" y="429" width="1" height="4" fill="#3CCB3C"/>
<rect x="157" y="429" width="1" height="4" fill="#3CCB3C"/>
<rect x="160" y="428" width="1" height="5" fill="#3CCB3C"/>
<rect x="162" y="432" width="1" height="1" fill="#E04848"/>
<rect x="165" y="432" width="1" height="1" fill="#E04848"/>
<rect x="167" y="431" width="1" height="2" fill="#E04848"/>
<rect x="170" y="431" width="1" height="2" fill="#3CCB3C"/>
<rect x="172" y="431" width="1" height="2" fill="#E04848"/>
<rect x="175" y="431" width="1" height="2" fill="#3CCB3C"/>
<rect x="177" y="430" width="1" height="3" fill="#E04848"/>
<rect x="180" y="431" width="1" height="2" fill="#E04848"/>
<rect x="182" y="430" width="1" height="3" fill="#3CCB3C"/>
<rect x="185" y="429" width="1" height="4" fill="#3CCB3C"/>
<rect x="187" y="430" width="1" height="3" fill="#E04848"/>
<rect x="190" y="431" width="1" height="2" fill="#3CCB3C"/>
<rect x="192" y="431" width="1" height="2" fill="#3CCB3C"/>
<rect x="195" y="431" width="1" height="2" fill="#E04848"/>
<rect x="197" y="430" width="1" height="3" fill="#E04848"/>
<rect x="200" y="431" width="1" height="2" fill="#E04848"/>
<rect x="202" y="425" width="1" height="8" fill="#3CCB3C"/>
<rect x="205" y="431" width="1" height="2" fill="#3CCB3C"/>
<rect x="207" y="431" width="1" height="2" fill="#E04848"/>
<rect x="210" y="431" width="1" height="2" fill="#E04848"/>
<rect x="213" y="431" width="1" height="2" fill="#3CCB3C"/>
<rect x="215" y="431" width="1" height="2" fill="#3CCB3C"/>
<rect x="218" y="431" width="1" height="2" fill="#3CCB3C"/>
<rect x="220" y="431" width="1" height="2" fill="#3CCB3C"/>
<rect x="223" y="430" width="1" height="3" fill="#3CCB3C"/>
<rect x="225" y="432" width="1" height="1" fill="#E04848"/>
<rect x="228" y="430" width="1" height="3" fill="#3CCB3C"/>
<rect x="230" y="431" width="1" height="2" fill="#3CCB3C"/>
<rect x="233" y="431" width="1" height="2" fill="#E04848"/>
<rect x="235" y="430" width="1" height="3" fill="#3CCB3C"/>
<rect x="238" y="430" width="1" height="3" fill="#E04848"/>
<rect x="240" y="431" width="1" height="2" fill="#3CCB3C"/>
<rect x="243" y="430" width="1" height="3" fill="#3CCB3C"/>
<rect x="245" y="430" width="1" height="3" fill="#3CCB3C"/>
<rect x="248" y="431" width="1" height="2" fill="#3CCB3C"/>
<rect x="250" y="431" width="1" height="2" fill="#E04848"/>
<rect x="253" y="431" width="1" height="2" fill="#3CCB3C"/>
<rect x="255" y="431" width="1" height="2" fill="#E04848"/>
<rect x="258" y="432" width="1" height="1" fill="#E04848"/>
<rect x="260" y="430" width="1" height="3" fill="#E04848"/>
<rect x="263" y="430" width="1" height="3" fill="#3CCB3C"/>
<rect x="266" y="431" width="1" height="2" fill="#E04848"/>
<rect x="268" y="430" width="1" height="3" fill="#3CCB3C"/>
<rect x="271" y="430" width="1" height="3" fill="#3CCB3C"/>
<rect x="273" y="431" width="1" height="2" fill="#3CCB3C"/>
<rect x="276" y="431" width="1" height="2" fill="#E04848"/>
<rect x="278" y="431" width="1" height="2" fill="#E04848"/>
<rect x="281" y="432" width="1" height="1" fill="#3CCB3C"/>
<rect x="283" y="432" width="1" height="1" fill="#E04848"/>
<rect x="286" y="431" width="1" height="2" fill="#3CCB3C"/>
<rect x="288" y="430" width="1" height="3" fill="#3CCB3C"/>
<rect x="291" y="430" width="1" height="3" fill="#3CCB3C"/>
<rect x="293" y="431" width="1" height="2" fill="#3CCB3C"/>
<rect x="296" y="432" width="1" height="1" fill="#3CCB3C"/>
<rect x="298" y="431" width="1" height="2" fill="#3CCB3C"/>
<rect x="301" y="430" width="1" height="3" fill="#3CCB3C"/>
<rect x="303" y="432" width="1" height="1" fill="#E04848"/>
<rect x="306" y="431" width="1" height="2" fill="#3CCB3C"/>
<rect x="308" y="431" width="1" height="2" fill="#E04848"/>
<rect x="311" y="432" width="1" height="1" fill="#E04848"/>
<rect x="313" y="431" width="1" height="2" fill="#E04848"/>
<rect x="316" y="431" width="1" height="2" fill="#E04848"/>
<rect x="319" y="430" width="1" height="3" fill="#3CCB3C"/>
<rect x="321" y="431" width="1" height="2" fill="#E04848"/>
<rect x="324" y="430" width="1" height="3" fill="#E04848"/>
<rect x="326" y="432" width="1" height="1" fill="#3CCB3C"/>
<rect x="329" y="432" width="1" height="1" fill="#3CCB3C"/>
<rect x="331" y="431" width="1" height="2" fill="#E04848"/>
<rect x="334" y="431" width="1" height="2" fill="#3CCB3C"/>
<rect x="336" y="430" width="1" height="3" fill="#E04848"/>
<rect x="339" y="432" width="1" height="1" fill="#3CCB3C"/>
<rect x="341" y="431" width="1" height="2" fill="#3CCB3C"/>
<rect x="344" y="430" width="1" height="3" fill="#E04848"/>
<rect x="346" y="431" width="1" height="2" fill="#E04848"/>
<rect x="349" y="431" width="1" height="2" fill="#3CCB3C"/>
<rect x="351" y="431" width="1" height="2" fill="#3CCB3C"/>
<rect x="354" y="431" width="1" height="2" fill="#3CCB3C"/>
<rect x="356" y="431" width="1" height="2" fill="#3CCB3C"/>
<rect x="359" y="431" width="1" height="2" fill="#3CCB3C"/>
<rect x="361" y="432" width="1" height="1" fill="#E04848"/>
<rect x="364" y="431" width="1" height="2" fill="#E04848"/>
<rect x="366" y="432" width="1" height="1" fill="#E04848"/>
<rect x="369" y="432" width="1" height="1" fill="#E04848"/>
<rect x="371" y="432" width="1" height="1" fill="#3CCB3C"/>
<rect x="374" y="431" width="1" height="2" fill="#3CCB3C"/>
<rect x="377" y="431" width="1" height="2" fill="#3CCB3C"/>
<rect x="379" y="432" width="1" height="1" fill="#E04848"/>
<rect x="382" y="431" width="1" height="2" fill="#E04848"/>
<rect x="384" y="431" width="1" height="2" fill="#E04848"/>
<rect x="387" y="431" width="1" height="2" fill="#E04848"/>
<rect x="389" y="431" width="1" height="2" fill="#E04848"/>
<rect x="392" y="431" width="1" height="2" fill="#3CCB3C"/>
<rect x="394" y="431" width="1" height="2" fill="#3CCB3C"/>
<rect x="397" y="430" width="1" height="3" fill="#3CCB3C"/>
<rect x="399" y="432" width="1" height="1" fill="#3CCB3C"/>
<rect x="402" y="430" width="1" height="3" fill="#E04848"/>
<rect x="404" y="431" width="1" height="2" fill="#E04848"/>
<rect x="407" y="431" width="1" height="2" fill="#E04848"/>
<rect x="409" y="431" width="1" height="2" fill="#E04848"/>
<rect x="412" y="431" width="1" height="2" fill="#E04848"/>
<rect x="414" y="430" width="1" height="3" fill="#E04848"/>
<rect x="417" y="431" width="1" height="2" fill="#3CCB3C"/>
<rect x="419" y="431" width="1" height="2" fill="#3CCB3C"/>
<rect x="422" y="431" width="1" height="2" fill="#E04848"/>
<rect x="424" y="430" width="1" height="3" fill="#3CCB3C"/>
<rect x="427" y="431" width="1" height="2" fill="#E04848"/>
<rect x="430" y="431" width="1" height="2" fill="#E04848"/>
<rect x="432" y="430" width="1" height="3" fill="#E04848"/>
<rect x="435" y="430" width="1" height="3" fill="#E04848"/>
<rect x="437" y="431" width="1" height="2" fill="#3CCB3C"/>
<rect x="440" y="430" width="1" height="3" fill="#3CCB3C"/>
<rect x="442" y="431" width="1" height="2" fill="#E04848"/>
<rect x="445" y="432" width="1" height="1" fill="#E04848"/>
<rect x="447" y="431" width="1" height="2" fill="#E04848"/>
<rect x="450" y="430" width="1" height="3" fill="#E04848"/>
<rect x="452" y="431" width="1" height="2" fill="#E04848"/>
<rect x="455" y="431" width="1" height="2" fill="#E04848"/>
<rect x="457" y="431" width="1" height="2" fill="#E04848"/>
<rect x="460" y="430" width="1" height="3" fill="#E04848"/>
<rect x="462" y="430" width="1" height="3" fill="#E04848"/>
<rect x="465" y="430" width="1" height="3" fill="#E04848"/>
<rect x="467" y="431" width="1" height="2" fill="#3CCB3C"/>
<rect x="470" y="431" width="1" height="2" fill="#E04848"/>
<rect x="472" y="431" width="1" height="2" fill="#3CCB3C"/>
<rect x="475" y="431" width="1" height="2" fill="#E04848"/>
<rect x="477" y="431" width="1" height="2" fill="#E04848"/>
<rect x="480" y="431" width="1" height="2" fill="#E04848"/>
<rect x="483" y="431" width="1" height="2" fill="#3CCB3C"/>
<rect x="485" y="431" width="1" height="2" fill="#E04848"/>
<rect x="488" y="432" width="1" height="1" fill="#3CCB3C"/>
<rect x="490" y="430" width="1" height="3" fill="#3CCB3C"/>
<rect x="493" y="431" width="1" height="2" fill="#E04848"/>
<rect x="495" y="431" width="1" height="2" fill="#3CCB3C"/>
<rect x="498" y="431" width="1" height="2" fill="#3CCB3C"/>
<rect x="500" y="432" width="1" height="1" fill="#E04848"/>
<rect x="503" y="431" width="1" height="2" fill="#E04848"/>
<rect x="505" y="431" width="1" height="2" fill="#E04848"/>
<rect x="508" y="431" width="1" height="2" fill="#E04848"/>
<rect x="510" y="430" width="1" height="3" fill="#E04848"/>
<rect x="513" y="431" width="1" height="2" fill="#3CCB3C"/>
<rect x="515" y="432" width="1" height="1" fill="#3CCB3C"/>
<rect x="518" y="430" width="1" height="3" fill="#3CCB3C"/>
<rect x="520" y="430" width="1" height="3" fill="#3CCB3C"/>
<rect x="523" y="431" width="1" height="2" fill="#E04848"/>
<rect x="525" y="431" width="1" height="2" fill="#3CCB3C"/>
<rect x="528" y="431" width="1" height="2" fill="#E04848"/>
<rect x="530" y="430" width="1" height="3" fill="#E04848"/>
<rect x="533" y="431" width="1" height="2" fill="#3CCB3C"/>
<rect x="536" y="431" width="1" height="2" fill="#E04848"/>
<rect x="538" y="430" width="1" height="3" fill="#3CCB3C"/>
<rect x="541" y="431" width="1" height="2" fill="#E04848"/>
<rect x="543" y="430" width="1" height="3" fill="#E04848"/>
<rect x="546" y="431" width="1" height="2" fill="#E04848"/>
<rect x="548" y="432" width="1" height="1" fill="#E04848"/>
<rect x="551" y="431" width="1" height="2" fill="#E04848"/>
<rect x="553" y="432" width="1" height="1" fill="#E04848"/>
<rect x="556" y="430" width="1" height="3" fill="#E04848"/>
<rect x="558" y="432" width="1" height="1" fill="#E04848"/>
<rect x="561" y="431" width="1" height="2" fill="#3CCB3C"/>
<rect x="563" y="431" width="1" height="2" fill="#E04848"/>
<rect x="566" y="430" width="1" height="3" fill="#E04848"/>
<rect x="568" y="431" width="1" height="2" fill="#3CCB3C"/>
<rect x="571" y="431" width="1" height="2" fill="#3CCB3C"/>
<rect x="573" y="431" width="1" height="2" fill="#E04848"/>
<rect x="576" y="431" width="1" height="2" fill="#E04848"/>
<rect x="578" y="431" width="1" height="2" fill="#E04848"/>
<rect x="581" y="431" width="1" height="2" fill="#E04848"/>
</g>
<polygon points="73.5,447.90 73.5,447.90 74.5,448.02 74.5,447.96" fill="#F4C8C8"/>
<polygon points="74.5,447.96 74.5,448.02 75.5,448.15 75.5,448.02" fill="#F4C8C8"/>
<polygon points="75.5,448.02 75.5,448.15 76.5,448.27 76.5,448.07" fill="#F4C8C8"/>
<polygon points="76.5,448.07 76.5,448.27 77.5,448.40 77.5,448.13" fill="#F4C8C8"/>
<polygon points="77.5,448.13 77.5,448.40 78.5,448.52 78.5,448.19" fill="#F4C8C8"/>
<polygon points="78.5,448.19 78.5,448.52 79.5,448.61 79.5,448.25" fill="#F4C8C8"/>
<polygon points="79.5,448.25 79.5,448.61 80.5,448.70 80.5,448.30" fill="#F4C8C8"/>
<polygon points="80.5,448.30 80.5,448.70 81.5,448.79 81.5,448.36" fill="#F4C8C8"/>
<polygon points="81.5,448.36 81.5,448.79 82.5,448.88 82.5,448.42" fill="#F4C8C8"/>
<polygon points="82.5,448.42 82.5,448.88 83.5,448.96 83.5,448.48" fill="#F4C8C8"/>
<polygon points="83.5,448.48 83.5,448.96 84.5,449.13 84.5,448.48" fill="#F4C8C8"/>
<polygon points="84.5,448.48 84.5,449.13 85.5,449.35 85.5,448.45" fill="#F4C8C8"/>
<polygon points="85.5,448.45 85.5,449.35 86.5,449.57 86.5,448.42" fill="#F4C8C8"/>
<polygon points="86.5,448.42 86.5,449.57 87.5,449.79 87.5,448.40" fill="#F4C8C8"/>
<polygon points="87.5,448.40 87.5,449.79 88.5,449.94 88.5,448.37" fill="#F4C8C8"/>
<polygon points="88.5,448.37 88.5,449.94 89.5,450.01 89.5,448.34" fill="#F4C8C8"/>
<polygon points="89.5,448.34 89.5,450.01 90.5,450.08 90.5,448.31" fill="#F4C8C8"/>
<polygon points="90.5,448.31 90.5,450.08 91.5,450.15 91.5,448.30" fill="#F4C8C8"/>
<polygon points="91.5,448.30 91.5,450.15 92.5,450.23 92.5,448.30" fill="#F4C8C8"/>
<polygon points="92.5,448.30 92.5,450.23 93.5,450.30 93.5,448.30" fill="#F4C8C8"/>
<polygon points="93.5,448.30 93.5,450.30 94.5,450.41 94.5,448.30" fill="#F4C8C8"/>
<polygon points="94.5,448.30 94.5,450.41 95.5,450.51 95.5,448.30" fill="#F4C8C8"/>
<polygon points="95.5,448.30 95.5,450.51 96.5,450.62 96.5,448.30" fill="#F4C8C8"/>
<polygon points="96.5,448.30 96.5,450.62 97.5,450.73 97.5,448.30" fill="#F4C8C8"/>
<polygon points="97.5,448.30 97.5,450.73 98.5,450.84 98.5,448.38" fill="#F4C8C8"/>
<polygon points="98.5,448.38 98.5,450.84 99.5,450.86 99.5,448.48" fill="#F4C8C8"/>
<polygon points="99.5,448.48 99.5,450.86 100.5,450.75 100.5,448.58" fill="#F4C8C8"/>
<polygon points="100.5,448.58 100.5,450.75 101.5,450.64 101.5,448.69" fill="#F4C8C8"/>
<polygon points="101.5,448.69 101.5,450.64 102.5,450.53 102.5,448.79" fill="#F4C8C8"/>
<polygon points="102.5,448.79 102.5,450.53 103.5,450.42 103.5,448.89" fill="#F4C8C8"/>
<polygon points="103.5,448.89 103.5,450.42 104.5,450.31 104.5,448.99" fill="#F4C8C8"/>
<polygon points="104.5,448.99 104.5,450.31 105.5,450.09 105.5,448.91" fill="#F4C8C8"/>
<polygon points="105.5,448.91 105.5,450.09 106.5,449.86 106.5,448.81" fill="#F4C8C8"/>
<polygon points="106.5,448.81 106.5,449.86 107.5,449.63 107.5,448.71" fill="#F4C8C8"/>
<polygon points="107.5,448.71 107.5,449.63 108.5,449.39 108.5,448.61" fill="#F4C8C8"/>
<polygon points="108.5,448.61 108.5,449.39 109.5,449.16 109.5,448.51" fill="#F4C8C8"/>
<polygon points="109.5,448.51 109.5,449.16 110.5,448.94 110.5,448.41" fill="#F4C8C8"/>
<polygon points="110.5,448.41 110.5,448.94 111.5,448.74 111.5,448.31" fill="#F4C8C8"/>
<polygon points="111.5,448.31 111.5,448.74 112.5,448.54 112.5,448.33" fill="#F4C8C8"/>
<polygon points="112.5,448.33 112.5,448.54 113.5,448.34 113.5,448.36" fill="#F4C8C8"/>
<polygon points="113.5,448.36 113.5,448.34 114.5,448.14 114.5,448.38" fill="#A8B4DC"/>
<polygon points="114.5,448.38 114.5,448.14 115.5,447.94 115.5,448.41" fill="#A8B4DC"/>
<polygon points="115.5,448.41 115.5,447.94 116.5,447.93 116.5,448.44" fill="#A8B4DC"/>
<polygon points="116.5,448.44 116.5,447.93 117.5,447.97 117.5,448.47" fill="#A8B4DC"/>
<polygon points="117.5,448.47 117.5,447.97 118.5,448.00 118.5,448.50" fill="#A8B4DC"/>
<polygon points="118.5,448.50 118.5,448.00 119.5,448.04 119.5,448.60" fill="#A8B4DC"/>
<polygon points="119.5,448.60 119.5,448.04 120.5,448.07 120.5,448.70" fill="#A8B4DC"/>
<polygon points="120.5,448.70 120.5,448.07 121.5,448.16 121.5,448.80" fill="#A8B4DC"/>
<polygon points="121.5,448.80 121.5,448.16 122.5,448.36 122.5,448.91" fill="#A8B4DC"/>
<polygon points="122.5,448.91 122.5,448.36 123.5,448.55 123.5,449.01" fill="#A8B4DC"/>
<polygon points="123.5,449.01 123.5,448.55 124.5,448.75 124.5,449.11" fill="#A8B4DC"/>
<polygon points="124.5,449.11 124.5,448.75 125.5,448.94 125.5,449.21" fill="#A8B4DC"/>
<polygon points="125.5,449.21 125.5,448.94 126.5,449.14 126.5,449.31" fill="#A8B4DC"/>
<polygon points="126.5,449.31 126.5,449.14 127.5,449.34 127.5,449.41" fill="#A8B4DC"/>
<polygon points="127.5,449.41 127.5,449.34 128.5,449.54 128.5,449.51" fill="#A8B4DC"/>
<polygon points="128.5,449.51 128.5,449.54 129.5,449.74 129.5,449.62" fill="#F4C8C8"/>
<polygon points="129.5,449.62 129.5,449.74 130.5,449.94 130.5,449.72" fill="#F4C8C8"/>
<polygon points="130.5,449.72 130.5,449.94 131.5,450.14 131.5,449.82" fill="#F4C8C8"/>
<polygon points="131.5,449.82 131.5,450.14 132.5,450.32 132.5,449.92" fill="#F4C8C8"/>
<polygon points="132.5,449.92 132.5,450.32 133.5,450.43 133.5,450.02" fill="#F4C8C8"/>
<polygon points="133.5,450.02 133.5,450.43 134.5,450.54 134.5,450.12" fill="#F4C8C8"/>
<polygon points="134.5,450.12 134.5,450.54 135.5,450.64 135.5,450.22" fill="#F4C8C8"/>
<polygon points="135.5,450.22 135.5,450.64 136.5,450.75 136.5,450.32" fill="#F4C8C8"/>
<polygon points="136.5,450.32 136.5,450.75 137.5,450.86 137.5,450.42" fill="#F4C8C8"/>
<polygon points="137.5,450.42 137.5,450.86 138.5,450.90 138.5,450.52" fill="#F4C8C8"/>
<polygon points="138.5,450.52 138.5,450.90 139.5,450.90 139.5,450.58" fill="#F4C8C8"/>
<polygon points="139.5,450.58 139.5,450.90 140.5,450.90 140.5,450.48" fill="#F4C8C8"/>
<polygon points="140.5,450.48 140.5,450.90 141.5,450.90 141.5,450.38" fill="#F4C8C8"/>
<polygon points="141.5,450.38 141.5,450.90 142.5,450.90 142.5,450.28" fill="#F4C8C8"/>
<polygon points="142.5,450.28 142.5,450.90 143.5,450.89 143.5,450.17" fill="#F4C8C8"/>
<polygon points="143.5,450.17 143.5,450.89 144.5,450.84 144.5,450.07" fill="#F4C8C8"/>
<polygon points="144.5,450.07 144.5,450.84 145.5,450.79 145.5,449.97" fill="#F4C8C8"/>
<polygon points="145.5,449.97 145.5,450.79 146.5,450.73 146.5,449.87" fill="#F4C8C8"/>
<polygon points="146.5,449.87 146.5,450.73 147.5,450.68 147.5,449.77" fill="#F4C8C8"/>
<polygon points="147.5,449.77 147.5,450.68 148.5,450.62 148.5,449.67" fill="#F4C8C8"/>
<polygon points="148.5,449.67 148.5,450.62 149.5,450.53 149.5,449.57" fill="#F4C8C8"/>
<polygon points="149.5,449.57 149.5,450.53 150.5,450.40 150.5,449.46" fill="#F4C8C8"/>
<polygon points="150.5,449.46 150.5,450.40 151.5,450.27 151.5,449.36" fill="#F4C8C8"/>
<polygon points="151.5,449.36 151.5,450.27 152.5,450.15 152.5,449.26" fill="#F4C8C8"/>
<polygon points="152.5,449.26 152.5,450.15 153.5,450.02 153.5,449.18" fill="#F4C8C8"/>
<polygon points="153.5,449.18 153.5,450.02 154.5,449.90 154.5,449.12" fill="#F4C8C8"/>
<polygon points="154.5,449.12 154.5,449.90 155.5,449.72 155.5,449.06" fill="#F4C8C8"/>
<polygon points="155.5,449.06 155.5,449.72 156.5,449.54 156.5,449.00" fill="#F4C8C8"/>
<polygon points="156.5,449.00 156.5,449.54 157.5,449.36 157.5,448.94" fill="#F4C8C8"/>
<polygon points="157.5,448.94 157.5,449.36 158.5,449.18 158.5,448.89" fill="#F4C8C8"/>
<polygon points="158.5,448.89 158.5,449.18 159.5,449.00 159.5,448.83" fill="#F4C8C8"/>
<polygon points="159.5,448.83 159.5,449.00 160.5,448.82 160.5,448.79" fill="#F4C8C8"/>
<polygon points="160.5,448.79 160.5,448.82 161.5,448.64 161.5,448.77" fill="#A8B4DC"/>
<polygon points="161.5,448.77 161.5,448.64 162.5,448.47 162.5,448.75" fill="#A8B4DC"/>
<polygon points="162.5,448.75 162.5,448.47 163.5,448.30 163.5,448.73" fill="#A8B4DC"/>
<polygon points="163.5,448.73 163.5,448.30 164.5,448.14 164.5,448.71" fill="#A8B4DC"/>
<polygon points="164.5,448.71 164.5,448.14 165.5,447.98 165.5,448.69" fill="#A8B4DC"/>
<polygon points="165.5,448.69 165.5,447.98 166.5,447.82 166.5,448.67" fill="#A8B4DC"/>
<polygon points="166.5,448.67 166.5,447.82 167.5,447.65 167.5,448.65" fill="#A8B4DC"/>
<polygon points="167.5,448.65 167.5,447.65 168.5,447.49 168.5,448.63" fill="#A8B4DC"/>
<polygon points="168.5,448.63 168.5,447.49 169.5,447.33 169.5,448.60" fill="#A8B4DC"/>
<polygon points="169.5,448.60 169.5,447.33 170.5,447.17 170.5,448.58" fill="#A8B4DC"/>
<polygon points="170.5,448.58 170.5,447.17 171.5,447.00 171.5,448.56" fill="#A8B4DC"/>
<polygon points="171.5,448.56 171.5,447.00 172.5,446.84 172.5,448.54" fill="#A8B4DC"/>
<polygon points="172.5,448.54 172.5,446.84 173.5,446.68 173.5,448.52" fill="#A8B4DC"/>
<polygon points="173.5,448.52 173.5,446.68 174.5,446.52 174.5,448.50" fill="#A8B4DC"/>
<polygon points="174.5,448.50 174.5,446.52 175.5,446.43 175.5,448.39" fill="#A8B4DC"/>
<polygon points="175.5,448.39 175.5,446.43 176.5,446.35 176.5,448.27" fill="#A8B4DC"/>
<polygon points="176.5,448.27 176.5,446.35 177.5,446.27 177.5,448.15" fill="#A8B4DC"/>
<polygon points="177.5,448.15 177.5,446.27 178.5,446.19 178.5,448.03" fill="#A8B4DC"/>
<polygon points="178.5,448.03 178.5,446.19 179.5,446.10 179.5,447.90" fill="#A8B4DC"/>
<polygon points="179.5,447.90 179.5,446.10 180.5,446.02 180.5,447.78" fill="#A8B4DC"/>
<polygon points="180.5,447.78 180.5,446.02 181.5,445.94 181.5,447.66" fill="#A8B4DC"/>
<polygon points="181.5,447.66 181.5,445.94 182.5,445.86 182.5,447.54" fill="#A8B4DC"/>
<polygon points="182.5,447.54 182.5,445.86 183.5,445.78 183.5,447.42" fill="#A8B4DC"/>
<polygon points="183.5,447.42 183.5,445.78 184.5,445.70 184.5,447.30" fill="#A8B4DC"/>
<polygon points="184.5,447.30 184.5,445.70 185.5,445.62 185.5,447.18" fill="#A8B4DC"/>
<polygon points="185.5,447.18 185.5,445.62 186.5,445.54 186.5,447.05" fill="#A8B4DC"/>
<polygon points="186.5,447.05 186.5,445.54 187.5,445.44 187.5,446.93" fill="#A8B4DC"/>
<polygon points="187.5,446.93 187.5,445.44 188.5,445.32 188.5,446.81" fill="#A8B4DC"/>
<polygon points="188.5,446.81 188.5,445.32 189.5,445.20 189.5,446.69" fill="#A8B4DC"/>
<polygon points="189.5,446.69 189.5,445.20 190.5,445.07 190.5,446.57" fill="#A8B4DC"/>
<polygon points="190.5,446.57 190.5,445.07 191.5,444.95 191.5,446.45" fill="#A8B4DC"/>
<polygon points="191.5,446.45 191.5,444.95 192.5,444.83 192.5,446.33" fill="#A8B4DC"/>
<polygon points="192.5,446.33 192.5,444.83 193.5,444.71 193.5,446.20" fill="#A8B4DC"/>
<polygon points="193.5,446.20 193.5,444.71 194.5,444.59 194.5,446.08" fill="#A8B4DC"/>
<polygon points="194.5,446.08 194.5,444.59 195.5,444.46 195.5,445.96" fill="#A8B4DC"/>
<polygon points="195.5,445.96 195.5,444.46 196.5,444.34 196.5,445.84" fill="#A8B4DC"/>
<polygon points="196.5,445.84 196.5,444.34 197.5,444.22 197.5,445.72" fill="#A8B4DC"/>
<polygon points="197.5,445.72 197.5,444.22 198.5,444.10 198.5,445.60" fill="#A8B4DC"/>
<polygon points="198.5,445.60 198.5,444.10 199.5,443.96 199.5,445.47" fill="#A8B4DC"/>
<polygon points="199.5,445.47 199.5,443.96 200.5,443.76 200.5,445.31" fill="#A8B4DC"/>
<polygon points="200.5,445.31 200.5,443.76 201.5,443.57 201.5,445.16" fill="#A8B4DC"/>
<polygon points="201.5,445.16 201.5,443.57 202.5,443.37 202.5,445.01" fill="#A8B4DC"/>
<polygon points="202.5,445.01 202.5,443.37 203.5,443.17 203.5,444.85" fill="#A8B4DC"/>
<polygon points="203.5,444.85 203.5,443.17 204.5,442.97 204.5,444.70" fill="#A8B4DC"/>
<polygon points="204.5,444.70 204.5,442.97 205.5,442.77 205.5,444.54" fill="#A8B4DC"/>
<polygon points="205.5,444.54 205.5,442.77 206.5,442.58 206.5,444.39" fill="#A8B4DC"/>
<polygon points="206.5,444.39 206.5,442.58 207.5,442.38 207.5,444.23" fill="#A8B4DC"/>
<polygon points="207.5,444.23 207.5,442.38 208.5,442.50 208.5,444.08" fill="#A8B4DC"/>
<polygon points="208.5,444.08 208.5,442.50 209.5,442.84 209.5,444.03" fill="#A8B4DC"/>
<polygon points="209.5,444.03 209.5,442.84 210.5,443.18 210.5,444.08" fill="#A8B4DC"/>
<polygon points="210.5,444.08 210.5,443.18 211.5,443.52 211.5,444.13" fill="#A8B4DC"/>
<polygon points="211.5,444.13 211.5,443.52 212.5,443.85 212.5,444.19" fill="#A8B4DC"/>
<polygon points="212.5,444.19 212.5,443.85 213.5,444.19 213.5,444.24" fill="#A8B4DC"/>
<polygon points="213.5,444.24 213.5,444.19 214.5,444.53 214.5,444.30" fill="#F4C8C8"/>
<polygon points="214.5,444.30 214.5,444.53 215.5,444.80 215.5,444.35" fill="#F4C8C8"/>
<polygon points="215.5,444.35 215.5,444.80 216.5,444.80 216.5,444.40" fill="#F4C8C8"/>
<polygon points="216.5,444.40 216.5,444.80 217.5,444.80 217.5,444.46" fill="#F4C8C8"/>
<polygon points="217.5,444.46 217.5,444.80 218.5,444.80 218.5,444.51" fill="#F4C8C8"/>
<polygon points="218.5,444.51 218.5,444.80 219.5,444.80 219.5,444.56" fill="#F4C8C8"/>
<polygon points="219.5,444.56 219.5,444.80 220.5,444.80 220.5,444.62" fill="#F4C8C8"/>
<polygon points="220.5,444.62 220.5,444.80 221.5,444.80 221.5,444.67" fill="#F4C8C8"/>
<polygon points="221.5,444.67 221.5,444.80 222.5,444.80 222.5,444.72" fill="#F4C8C8"/>
<polygon points="222.5,444.72 222.5,444.80 223.5,444.80 223.5,444.78" fill="#F4C8C8"/>
<polygon points="223.5,444.78 223.5,444.80 224.5,444.89 224.5,444.74" fill="#F4C8C8"/>
<polygon points="224.5,444.74 224.5,444.89 225.5,445.03 225.5,444.64" fill="#F4C8C8"/>
<polygon points="225.5,444.64 225.5,445.03 226.5,445.17 226.5,444.55" fill="#F4C8C8"/>
<polygon points="226.5,444.55 226.5,445.17 227.5,445.31 227.5,444.45" fill="#F4C8C8"/>
<polygon points="227.5,444.45 227.5,445.31 228.5,445.46 228.5,444.35" fill="#F4C8C8"/>
<polygon points="228.5,444.35 228.5,445.46 229.5,445.32 229.5,444.25" fill="#F4C8C8"/>
<polygon points="229.5,444.25 229.5,445.32 230.5,445.07 230.5,444.16" fill="#F4C8C8"/>
<polygon points="230.5,444.16 230.5,445.07 231.5,444.82 231.5,444.06" fill="#F4C8C8"/>
<polygon points="231.5,444.06 231.5,444.82 232.5,444.57 232.5,443.96" fill="#F4C8C8"/>
<polygon points="232.5,443.96 232.5,444.57 233.5,444.31 233.5,443.86" fill="#F4C8C8"/>
<polygon points="233.5,443.86 233.5,444.31 234.5,444.06 234.5,443.77" fill="#F4C8C8"/>
<polygon points="234.5,443.77 234.5,444.06 235.5,443.81 235.5,443.67" fill="#F4C8C8"/>
<polygon points="235.5,443.67 235.5,443.81 236.5,443.56 236.5,443.57" fill="#F4C8C8"/>
<polygon points="236.5,443.57 236.5,443.56 237.5,443.30 237.5,443.46" fill="#A8B4DC"/>
<polygon points="237.5,443.46 237.5,443.30 238.5,443.05 238.5,443.36" fill="#A8B4DC"/>
<polygon points="238.5,443.36 238.5,443.05 239.5,442.89 239.5,443.25" fill="#A8B4DC"/>
<polygon points="239.5,443.25 239.5,442.89 240.5,442.74 240.5,443.15" fill="#A8B4DC"/>
<polygon points="240.5,443.15 240.5,442.74 241.5,442.60 241.5,443.04" fill="#A8B4DC"/>
<polygon points="241.5,443.04 241.5,442.60 242.5,442.46 242.5,442.93" fill="#A8B4DC"/>
<polygon points="242.5,442.93 242.5,442.46 243.5,442.31 243.5,442.83" fill="#A8B4DC"/>
<polygon points="243.5,442.83 243.5,442.31 244.5,442.17 244.5,442.72" fill="#A8B4DC"/>
<polygon points="244.5,442.72 244.5,442.17 245.5,442.03 245.5,442.62" fill="#A8B4DC"/>
<polygon points="245.5,442.62 245.5,442.03 246.5,441.89 246.5,442.51" fill="#A8B4DC"/>
<polygon points="246.5,442.51 246.5,441.89 247.5,441.74 247.5,442.41" fill="#A8B4DC"/>
<polygon points="247.5,442.41 247.5,441.74 248.5,441.60 248.5,442.30" fill="#A8B4DC"/>
<polygon points="248.5,442.30 248.5,441.60 249.5,441.60 249.5,442.35" fill="#A8B4DC"/>
<polygon points="249.5,442.35 249.5,441.60 250.5,441.60 250.5,442.39" fill="#A8B4DC"/>
<polygon points="250.5,442.39 250.5,441.60 251.5,441.60 251.5,442.44" fill="#A8B4DC"/>
<polygon points="251.5,442.44 251.5,441.60 252.5,441.60 252.5,442.49" fill="#A8B4DC"/>
<polygon points="252.5,442.49 252.5,441.60 253.5,441.60 253.5,442.54" fill="#A8B4DC"/>
<polygon points="253.5,442.54 253.5,441.60 254.5,441.60 254.5,442.58" fill="#A8B4DC"/>
<polygon points="254.5,442.58 254.5,441.60 255.5,441.60 255.5,442.63" fill="#A8B4DC"/>
<polygon points="255.5,442.63 255.5,441.60 256.5,441.76 256.5,442.68" fill="#A8B4DC"/>
<polygon points="256.5,442.68 256.5,441.76 257.5,442.03 257.5,442.73" fill="#A8B4DC"/>
<polygon points="257.5,442.73 257.5,442.03 258.5,442.30 258.5,442.77" fill="#A8B4DC"/>
<polygon points="258.5,442.77 258.5,442.30 259.5,442.57 259.5,442.82" fill="#A8B4DC"/>
<polygon points="259.5,442.82 259.5,442.57 260.5,442.84 260.5,442.87" fill="#A8B4DC"/>
<polygon points="260.5,442.87 260.5,442.84 261.5,443.11 261.5,442.91" fill="#F4C8C8"/>
<polygon points="261.5,442.91 261.5,443.11 262.5,443.38 262.5,442.96" fill="#F4C8C8"/>
<polygon points="262.5,442.96 262.5,443.38 263.5,443.57 263.5,442.99" fill="#F4C8C8"/>
<polygon points="263.5,442.99 263.5,443.57 264.5,443.44 264.5,442.92" fill="#F4C8C8"/>
<polygon points="264.5,442.92 264.5,443.44 265.5,443.31 265.5,442.85" fill="#F4C8C8"/>
<polygon points="265.5,442.85 265.5,443.31 266.5,443.18 266.5,442.78" fill="#F4C8C8"/>
<polygon points="266.5,442.78 266.5,443.18 267.5,443.05 267.5,442.71" fill="#F4C8C8"/>
<polygon points="267.5,442.71 267.5,443.05 268.5,442.92 268.5,442.64" fill="#F4C8C8"/>
<polygon points="268.5,442.64 268.5,442.92 269.5,442.79 269.5,442.57" fill="#F4C8C8"/>
<polygon points="269.5,442.57 269.5,442.79 270.5,442.65 270.5,442.50" fill="#F4C8C8"/>
<polygon points="270.5,442.50 270.5,442.65 271.5,442.52 271.5,442.43" fill="#F4C8C8"/>
<polygon points="271.5,442.43 271.5,442.52 272.5,442.39 272.5,442.36" fill="#F4C8C8"/>
<polygon points="272.5,442.36 272.5,442.39 273.5,442.27 273.5,442.29" fill="#F4C8C8"/>
<polygon points="273.5,442.29 273.5,442.27 274.5,442.17 274.5,442.22" fill="#A8B4DC"/>
<polygon points="274.5,442.22 274.5,442.17 275.5,442.08 275.5,442.15" fill="#A8B4DC"/>
<polygon points="275.5,442.15 275.5,442.08 276.5,441.98 276.5,442.08" fill="#A8B4DC"/>
<polygon points="276.5,442.08 276.5,441.98 277.5,441.88 277.5,442.01" fill="#A8B4DC"/>
<polygon points="277.5,442.01 277.5,441.88 278.5,441.78 278.5,441.94" fill="#A8B4DC"/>
<polygon points="278.5,441.94 278.5,441.78 279.5,441.69 279.5,441.87" fill="#A8B4DC"/>
<polygon points="279.5,441.87 279.5,441.69 280.5,441.59 280.5,441.80" fill="#A8B4DC"/>
<polygon points="280.5,441.80 280.5,441.59 281.5,441.49 281.5,441.73" fill="#A8B4DC"/>
<polygon points="281.5,441.73 281.5,441.49 282.5,441.39 282.5,441.66" fill="#A8B4DC"/>
<polygon points="282.5,441.66 282.5,441.39 283.5,441.30 283.5,441.59" fill="#A8B4DC"/>
<polygon points="283.5,441.59 283.5,441.30 284.5,441.20 284.5,441.53" fill="#A8B4DC"/>
<polygon points="284.5,441.53 284.5,441.20 285.5,441.10 285.5,441.46" fill="#A8B4DC"/>
<polygon points="285.5,441.46 285.5,441.10 286.5,440.94 286.5,441.39" fill="#A8B4DC"/>
<polygon points="286.5,441.39 286.5,440.94 287.5,440.77 287.5,441.32" fill="#A8B4DC"/>
<polygon points="287.5,441.32 287.5,440.77 288.5,440.61 288.5,441.25" fill="#A8B4DC"/>
<polygon points="288.5,441.25 288.5,440.61 289.5,440.45 289.5,441.18" fill="#A8B4DC"/>
<polygon points="289.5,441.18 289.5,440.45 290.5,440.29 290.5,441.11" fill="#A8B4DC"/>
<polygon points="290.5,441.11 290.5,440.29 291.5,440.12 291.5,441.04" fill="#A8B4DC"/>
<polygon points="291.5,441.04 291.5,440.12 292.5,439.96 292.5,440.97" fill="#A8B4DC"/>
<polygon points="292.5,440.97 292.5,439.96 293.5,439.80 293.5,440.90" fill="#A8B4DC"/>
<polygon points="293.5,440.90 293.5,439.80 294.5,439.64 294.5,440.83" fill="#A8B4DC"/>
<polygon points="294.5,440.83 294.5,439.64 295.5,439.47 295.5,440.76" fill="#A8B4DC"/>
<polygon points="295.5,440.76 295.5,439.47 296.5,439.31 296.5,440.69" fill="#A8B4DC"/>
<polygon points="296.5,440.69 296.5,439.31 297.5,439.15 297.5,440.62" fill="#A8B4DC"/>
<polygon points="297.5,440.62 297.5,439.15 298.5,439.05 298.5,440.54" fill="#A8B4DC"/>
<polygon points="298.5,440.54 298.5,439.05 299.5,438.98 299.5,440.46" fill="#A8B4DC"/>
<polygon points="299.5,440.46 299.5,438.98 300.5,438.90 300.5,440.38" fill="#A8B4DC"/>
<polygon points="300.5,440.38 300.5,438.90 301.5,438.83 301.5,440.29" fill="#A8B4DC"/>
<polygon points="301.5,440.29 301.5,438.83 302.5,438.76 302.5,440.21" fill="#A8B4DC"/>
<polygon points="302.5,440.21 302.5,438.76 303.5,438.68 303.5,440.13" fill="#A8B4DC"/>
<polygon points="303.5,440.13 303.5,438.68 304.5,438.61 304.5,440.05" fill="#A8B4DC"/>
<polygon points="304.5,440.05 304.5,438.61 305.5,438.54 305.5,439.96" fill="#A8B4DC"/>
<polygon points="305.5,439.96 305.5,438.54 306.5,438.47 306.5,439.88" fill="#A8B4DC"/>
<polygon points="306.5,439.88 306.5,438.47 307.5,438.40 307.5,439.80" fill="#A8B4DC"/>
<polygon points="307.5,439.80 307.5,438.40 308.5,438.40 308.5,439.71" fill="#A8B4DC"/>
<polygon points="308.5,439.71 308.5,438.40 309.5,438.40 309.5,439.63" fill="#A8B4DC"/>
<polygon points="309.5,439.63 309.5,438.40 310.5,438.40 310.5,439.55" fill="#A8B4DC"/>
<polygon points="310.5,439.55 310.5,438.40 311.5,438.40 311.5,439.47" fill="#A8B4DC"/>
<polygon points="311.5,439.47 311.5,438.40 312.5,438.40 312.5,439.44" fill="#A8B4DC"/>
<polygon points="312.5,439.44 312.5,438.40 313.5,438.40 313.5,439.64" fill="#A8B4DC"/>
<polygon points="313.5,439.64 313.5,438.40 314.5,438.40 314.5,439.84" fill="#A8B4DC"/>
<polygon points="314.5,439.84 314.5,438.40 315.5,438.64 315.5,440.05" fill="#A8B4DC"/>
<polygon points="315.5,440.05 315.5,438.64 316.5,438.97 316.5,440.25" fill="#A8B4DC"/>
<polygon points="316.5,440.25 316.5,438.97 317.5,439.31 317.5,440.45" fill="#A8B4DC"/>
<polygon points="317.5,440.45 317.5,439.31 318.5,439.65 318.5,440.65" fill="#A8B4DC"/>
<polygon points="318.5,440.65 318.5,439.65 319.5,439.99 319.5,440.85" fill="#A8B4DC"/>
<polygon points="319.5,440.85 319.5,439.99 320.5,440.33 320.5,441.06" fill="#A8B4DC"/>
<polygon points="320.5,441.06 320.5,440.33 321.5,440.66 321.5,441.26" fill="#A8B4DC"/>
<polygon points="321.5,441.26 321.5,440.66 322.5,441.00 322.5,441.42" fill="#A8B4DC"/>
<polygon points="322.5,441.42 322.5,441.00 323.5,441.34 323.5,441.51" fill="#A8B4DC"/>
<polygon points="323.5,441.51 323.5,441.34 324.5,441.68 324.5,441.59" fill="#A8B4DC"/>
<polygon points="324.5,441.59 324.5,441.68 325.5,442.01 325.5,441.67" fill="#F4C8C8"/>
<polygon points="325.5,441.67 325.5,442.01 326.5,442.35 326.5,441.75" fill="#F4C8C8"/>
<polygon points="326.5,441.75 326.5,442.35 327.5,442.69 327.5,441.83" fill="#F4C8C8"/>
<polygon points="327.5,441.83 327.5,442.69 328.5,443.03 328.5,441.91" fill="#F4C8C8"/>
<polygon points="328.5,441.91 328.5,443.03 329.5,443.37 329.5,442.00" fill="#F4C8C8"/>
<polygon points="329.5,442.00 329.5,443.37 330.5,443.56 330.5,442.08" fill="#F4C8C8"/>
<polygon points="330.5,442.08 330.5,443.56 331.5,443.73 331.5,442.16" fill="#F4C8C8"/>
<polygon points="331.5,442.16 331.5,443.73 332.5,443.90 332.5,442.24" fill="#F4C8C8"/>
<polygon points="332.5,442.24 332.5,443.90 333.5,444.08 333.5,442.32" fill="#F4C8C8"/>
<polygon points="333.5,442.32 333.5,444.08 334.5,444.25 334.5,442.40" fill="#F4C8C8"/>
<polygon points="334.5,442.40 334.5,444.25 335.5,444.42 335.5,442.49" fill="#F4C8C8"/>
<polygon points="335.5,442.49 335.5,444.42 336.5,444.60 336.5,442.57" fill="#F4C8C8"/>
<polygon points="336.5,442.57 336.5,444.60 337.5,444.77 337.5,442.68" fill="#F4C8C8"/>
<polygon points="337.5,442.68 337.5,444.77 338.5,444.94 338.5,442.82" fill="#F4C8C8"/>
<polygon points="338.5,442.82 338.5,444.94 339.5,445.12 339.5,442.96" fill="#F4C8C8"/>
<polygon points="339.5,442.96 339.5,445.12 340.5,445.29 340.5,443.09" fill="#F4C8C8"/>
<polygon points="340.5,443.09 340.5,445.29 341.5,445.46 341.5,443.23" fill="#F4C8C8"/>
<polygon points="341.5,443.23 341.5,445.46 342.5,445.63 342.5,443.37" fill="#F4C8C8"/>
<polygon points="342.5,443.37 342.5,445.63 343.5,445.80 343.5,443.50" fill="#F4C8C8"/>
<polygon points="343.5,443.50 343.5,445.80 344.5,445.98 344.5,443.64" fill="#F4C8C8"/>
<polygon points="344.5,443.64 344.5,445.98 345.5,446.15 345.5,443.78" fill="#F4C8C8"/>
<polygon points="345.5,443.78 345.5,446.15 346.5,446.32 346.5,443.92" fill="#F4C8C8"/>
<polygon points="346.5,443.92 346.5,446.32 347.5,446.49 347.5,444.05" fill="#F4C8C8"/>
<polygon points="347.5,444.05 347.5,446.49 348.5,446.66 348.5,444.19" fill="#F4C8C8"/>
<polygon points="348.5,444.19 348.5,446.66 349.5,446.83 349.5,444.33" fill="#F4C8C8"/>
<polygon points="349.5,444.33 349.5,446.83 350.5,446.96 350.5,444.50" fill="#F4C8C8"/>
<polygon points="350.5,444.50 350.5,446.96 351.5,447.10 351.5,444.66" fill="#F4C8C8"/>
<polygon points="351.5,444.66 351.5,447.10 352.5,447.23 352.5,444.82" fill="#F4C8C8"/>
<polygon points="352.5,444.82 352.5,447.23 353.5,447.37 353.5,444.98" fill="#F4C8C8"/>
<polygon points="353.5,444.98 353.5,447.37 354.5,447.50 354.5,445.15" fill="#F4C8C8"/>
<polygon points="354.5,445.15 354.5,447.50 355.5,447.64 355.5,445.31" fill="#F4C8C8"/>
<polygon points="355.5,445.31 355.5,447.64 356.5,447.77 356.5,445.47" fill="#F4C8C8"/>
<polygon points="356.5,445.47 356.5,447.77 357.5,447.80 357.5,445.63" fill="#F4C8C8"/>
<polygon points="357.5,445.63 357.5,447.80 358.5,447.80 358.5,445.80" fill="#F4C8C8"/>
<polygon points="358.5,445.80 358.5,447.80 359.5,447.80 359.5,445.96" fill="#F4C8C8"/>
<polygon points="359.5,445.96 359.5,447.80 360.5,447.80 360.5,446.12" fill="#F4C8C8"/>
<polygon points="360.5,446.12 360.5,447.80 361.5,447.80 361.5,446.28" fill="#F4C8C8"/>
<polygon points="361.5,446.28 361.5,447.80 362.5,447.80 362.5,446.34" fill="#F4C8C8"/>
<polygon points="362.5,446.34 362.5,447.80 363.5,447.80 363.5,446.38" fill="#F4C8C8"/>
<polygon points="363.5,446.38 363.5,447.80 364.5,447.80 364.5,446.42" fill="#F4C8C8"/>
<polygon points="364.5,446.42 364.5,447.80 365.5,447.80 365.5,446.46" fill="#F4C8C8"/>
<polygon points="365.5,446.46 365.5,447.80 366.5,447.80 366.5,446.50" fill="#F4C8C8"/>
<polygon points="366.5,446.50 366.5,447.80 367.5,447.80 367.5,446.54" fill="#F4C8C8"/>
<polygon points="367.5,446.54 367.5,447.80 368.5,447.80 368.5,446.58" fill="#F4C8C8"/>
<polygon points="368.5,446.58 368.5,447.80 369.5,447.70 369.5,446.62" fill="#F4C8C8"/>
<polygon points="369.5,446.62 369.5,447.70 370.5,447.50 370.5,446.66" fill="#F4C8C8"/>
<polygon points="370.5,446.66 370.5,447.50 371.5,447.29 371.5,446.70" fill="#F4C8C8"/>
<polygon points="371.5,446.70 371.5,447.29 372.5,447.09 372.5,446.74" fill="#F4C8C8"/>
<polygon points="372.5,446.74 372.5,447.09 373.5,446.89 373.5,446.78" fill="#F4C8C8"/>
<polygon points="373.5,446.78 373.5,446.89 374.5,446.69 374.5,446.83" fill="#A8B4DC"/>
<polygon points="374.5,446.83 374.5,446.69 375.5,446.48 375.5,446.89" fill="#A8B4DC"/>
<polygon points="375.5,446.89 375.5,446.48 376.5,446.28 376.5,446.95" fill="#A8B4DC"/>
<polygon points="376.5,446.95 376.5,446.28 377.5,446.03 377.5,447.00" fill="#A8B4DC"/>
<polygon points="377.5,447.00 377.5,446.03 378.5,445.79 378.5,447.06" fill="#A8B4DC"/>
<polygon points="378.5,447.06 378.5,445.79 379.5,445.54 379.5,447.12" fill="#A8B4DC"/>
<polygon points="379.5,447.12 379.5,445.54 380.5,445.30 380.5,447.18" fill="#A8B4DC"/>
<polygon points="380.5,447.18 380.5,445.30 381.5,445.15 381.5,447.23" fill="#A8B4DC"/>
<polygon points="381.5,447.23 381.5,445.15 382.5,445.39 382.5,447.29" fill="#A8B4DC"/>
<polygon points="382.5,447.29 382.5,445.39 383.5,445.64 383.5,447.35" fill="#A8B4DC"/>
<polygon points="383.5,447.35 383.5,445.64 384.5,445.88 384.5,447.40" fill="#A8B4DC"/>
<polygon points="384.5,447.40 384.5,445.88 385.5,446.13 385.5,447.46" fill="#A8B4DC"/>
<polygon points="385.5,447.46 385.5,446.13 386.5,446.37 386.5,447.53" fill="#A8B4DC"/>
<polygon points="386.5,447.53 386.5,446.37 387.5,446.60 387.5,447.64" fill="#A8B4DC"/>
<polygon points="387.5,447.64 387.5,446.60 388.5,446.83 388.5,447.74" fill="#A8B4DC"/>
<polygon points="388.5,447.74 388.5,446.83 389.5,447.06 389.5,447.85" fill="#A8B4DC"/>
<polygon points="389.5,447.85 389.5,447.06 390.5,447.29 390.5,447.95" fill="#A8B4DC"/>
<polygon points="390.5,447.95 390.5,447.29 391.5,447.52 391.5,448.06" fill="#A8B4DC"/>
<polygon points="391.5,448.06 391.5,447.52 392.5,447.75 392.5,448.17" fill="#A8B4DC"/>
<polygon points="392.5,448.17 392.5,447.75 393.5,447.98 393.5,448.27" fill="#A8B4DC"/>
<polygon points="393.5,448.27 393.5,447.98 394.5,448.07 394.5,448.38" fill="#A8B4DC"/>
<polygon points="394.5,448.38 394.5,448.07 395.5,448.16 395.5,448.48" fill="#A8B4DC"/>
<polygon points="395.5,448.48 395.5,448.16 396.5,448.24 396.5,448.59" fill="#A8B4DC"/>
<polygon points="396.5,448.59 396.5,448.24 397.5,448.32 397.5,448.69" fill="#A8B4DC"/>
<polygon points="397.5,448.69 397.5,448.32 398.5,448.40 398.5,448.80" fill="#A8B4DC"/>
<polygon points="398.5,448.80 398.5,448.40 399.5,448.48 399.5,448.80" fill="#A8B4DC"/>
<polygon points="399.5,448.80 399.5,448.48 400.5,448.56 400.5,448.80" fill="#A8B4DC"/>
<polygon points="400.5,448.80 400.5,448.56 401.5,448.64 401.5,448.80" fill="#A8B4DC"/>
<polygon points="401.5,448.80 401.5,448.64 402.5,448.73 402.5,448.80" fill="#A8B4DC"/>
<polygon points="402.5,448.80 402.5,448.73 403.5,448.79 403.5,448.80" fill="#A8B4DC"/>
<polygon points="403.5,448.80 403.5,448.79 404.5,448.73 404.5,448.80" fill="#A8B4DC"/>
<polygon points="404.5,448.80 404.5,448.73 405.5,448.66 405.5,448.80" fill="#A8B4DC"/>
<polygon points="405.5,448.80 405.5,448.66 406.5,448.59 406.5,448.80" fill="#A8B4DC"/>
<polygon points="406.5,448.80 406.5,448.59 407.5,448.52 407.5,448.80" fill="#A8B4DC"/>
<polygon points="407.5,448.80 407.5,448.52 408.5,448.46 408.5,448.80" fill="#A8B4DC"/>
<polygon points="408.5,448.80 408.5,448.46 409.5,448.39 409.5,448.80" fill="#A8B4DC"/>
<polygon points="409.5,448.80 409.5,448.39 410.5,448.32 410.5,448.80" fill="#A8B4DC"/>
<polygon points="410.5,448.80 410.5,448.32 411.5,448.22 411.5,448.77" fill="#A8B4DC"/>
<polygon points="411.5,448.77 411.5,448.22 412.5,448.12 412.5,448.73" fill="#A8B4DC"/>
<polygon points="412.5,448.73 412.5,448.12 413.5,448.01 413.5,448.69" fill="#A8B4DC"/>
<polygon points="413.5,448.69 413.5,448.01 414.5,447.90 414.5,448.65" fill="#A8B4DC"/>
<polygon points="414.5,448.65 414.5,447.90 415.5,447.79 415.5,448.61" fill="#A8B4DC"/>
<polygon points="415.5,448.61 415.5,447.79 416.5,447.68 416.5,448.57" fill="#A8B4DC"/>
<polygon points="416.5,448.57 416.5,447.68 417.5,447.58 417.5,448.53" fill="#A8B4DC"/>
<polygon points="417.5,448.53 417.5,447.58 418.5,447.53 418.5,448.49" fill="#A8B4DC"/>
<polygon points="418.5,448.49 418.5,447.53 419.5,447.64 419.5,448.45" fill="#A8B4DC"/>
<polygon points="419.5,448.45 419.5,447.64 420.5,447.75 420.5,448.41" fill="#A8B4DC"/>
<polygon points="420.5,448.41 420.5,447.75 421.5,447.86 421.5,448.37" fill="#A8B4DC"/>
<polygon points="421.5,448.37 421.5,447.86 422.5,447.96 422.5,448.33" fill="#A8B4DC"/>
<polygon points="422.5,448.33 422.5,447.96 423.5,448.07 423.5,448.32" fill="#A8B4DC"/>
<polygon points="423.5,448.32 423.5,448.07 424.5,448.18 424.5,448.41" fill="#A8B4DC"/>
<polygon points="424.5,448.41 424.5,448.18 425.5,448.29 425.5,448.49" fill="#A8B4DC"/>
<polygon points="425.5,448.49 425.5,448.29 426.5,448.37 426.5,448.57" fill="#A8B4DC"/>
<polygon points="426.5,448.57 426.5,448.37 427.5,448.45 427.5,448.65" fill="#A8B4DC"/>
<polygon points="427.5,448.65 427.5,448.45 428.5,448.54 428.5,448.73" fill="#A8B4DC"/>
<polygon points="428.5,448.73 428.5,448.54 429.5,448.62 429.5,448.81" fill="#A8B4DC"/>
<polygon points="429.5,448.81 429.5,448.62 430.5,448.70 430.5,448.89" fill="#A8B4DC"/>
<polygon points="430.5,448.89 430.5,448.70 431.5,448.78 431.5,448.97" fill="#A8B4DC"/>
<polygon points="431.5,448.97 431.5,448.78 432.5,448.86 432.5,449.06" fill="#A8B4DC"/>
<polygon points="432.5,449.06 432.5,448.86 433.5,448.94 433.5,449.14" fill="#A8B4DC"/>
<polygon points="433.5,449.14 433.5,448.94 434.5,449.02 434.5,449.22" fill="#A8B4DC"/>
<polygon points="434.5,449.22 434.5,449.02 435.5,449.10 435.5,449.30" fill="#A8B4DC"/>
<polygon points="435.5,449.30 435.5,449.10 436.5,449.19 436.5,449.34" fill="#A8B4DC"/>
<polygon points="436.5,449.34 436.5,449.19 437.5,449.27 437.5,449.38" fill="#A8B4DC"/>
<polygon points="437.5,449.38 437.5,449.27 438.5,449.34 438.5,449.42" fill="#A8B4DC"/>
<polygon points="438.5,449.42 438.5,449.34 439.5,449.41 439.5,449.46" fill="#A8B4DC"/>
<polygon points="439.5,449.46 439.5,449.41 440.5,449.48 440.5,449.50" fill="#A8B4DC"/>
<polygon points="440.5,449.50 440.5,449.48 441.5,449.55 441.5,449.54" fill="#A8B4DC"/>
<polygon points="441.5,449.54 441.5,449.55 442.5,449.63 442.5,449.58" fill="#F4C8C8"/>
<polygon points="442.5,449.58 442.5,449.63 443.5,449.70 443.5,449.63" fill="#F4C8C8"/>
<polygon points="443.5,449.63 443.5,449.70 444.5,449.77 444.5,449.67" fill="#F4C8C8"/>
<polygon points="444.5,449.67 444.5,449.77 445.5,449.84 445.5,449.71" fill="#F4C8C8"/>
<polygon points="445.5,449.71 445.5,449.84 446.5,449.91 446.5,449.75" fill="#F4C8C8"/>
<polygon points="446.5,449.75 446.5,449.91 447.5,449.98 447.5,449.79" fill="#F4C8C8"/>
<polygon points="447.5,449.79 447.5,449.98 448.5,450.03 448.5,449.80" fill="#F4C8C8"/>
<polygon points="448.5,449.80 448.5,450.03 449.5,450.07 449.5,449.80" fill="#F4C8C8"/>
<polygon points="449.5,449.80 449.5,450.07 450.5,450.12 450.5,449.80" fill="#F4C8C8"/>
<polygon points="450.5,449.80 450.5,450.12 451.5,450.16 451.5,449.80" fill="#F4C8C8"/>
<polygon points="451.5,449.80 451.5,450.16 452.5,450.20 452.5,449.80" fill="#F4C8C8"/>
<polygon points="452.5,449.80 452.5,450.20 453.5,450.24 453.5,449.80" fill="#F4C8C8"/>
<polygon points="453.5,449.80 453.5,450.24 454.5,450.29 454.5,449.80" fill="#F4C8C8"/>
<polygon points="454.5,449.80 454.5,450.29 455.5,450.16 455.5,449.69" fill="#F4C8C8"/>
<polygon points="455.5,449.69 455.5,450.16 456.5,449.96 456.5,449.54" fill="#F4C8C8"/>
<polygon points="456.5,449.54 456.5,449.96 457.5,449.75 457.5,449.39" fill="#F4C8C8"/>
<polygon points="457.5,449.39 457.5,449.75 458.5,449.55 458.5,449.23" fill="#F4C8C8"/>
<polygon points="458.5,449.23 458.5,449.55 459.5,449.35 459.5,449.08" fill="#F4C8C8"/>
<polygon points="459.5,449.08 459.5,449.35 460.5,449.14 460.5,448.93" fill="#F4C8C8"/>
<polygon points="460.5,448.93 460.5,449.14 461.5,448.94 461.5,448.77" fill="#F4C8C8"/>
<polygon points="461.5,448.77 461.5,448.94 462.5,448.72 462.5,448.62" fill="#F4C8C8"/>
<polygon points="462.5,448.62 462.5,448.72 463.5,448.45 463.5,448.47" fill="#F4C8C8"/>
<polygon points="463.5,448.47 463.5,448.45 464.5,448.18 464.5,448.32" fill="#A8B4DC"/>
<polygon points="464.5,448.32 464.5,448.18 465.5,447.91 465.5,448.15" fill="#A8B4DC"/>
<polygon points="465.5,448.15 465.5,447.91 466.5,447.64 466.5,447.99" fill="#A8B4DC"/>
<polygon points="466.5,447.99 466.5,447.64 467.5,447.37 467.5,447.83" fill="#A8B4DC"/>
<polygon points="467.5,447.83 467.5,447.37 468.5,447.10 468.5,447.67" fill="#A8B4DC"/>
<polygon points="468.5,447.67 468.5,447.10 469.5,446.83 469.5,447.50" fill="#A8B4DC"/>
<polygon points="469.5,447.50 469.5,446.83 470.5,446.53 470.5,447.34" fill="#A8B4DC"/>
<polygon points="470.5,447.34 470.5,446.53 471.5,446.23 471.5,447.18" fill="#A8B4DC"/>
<polygon points="471.5,447.18 471.5,446.23 472.5,445.93 472.5,447.02" fill="#A8B4DC"/>
<polygon points="472.5,447.02 472.5,445.93 473.5,445.62 473.5,446.85" fill="#A8B4DC"/>
<polygon points="473.5,446.85 473.5,445.62 474.5,445.32 474.5,446.69" fill="#A8B4DC"/>
<polygon points="474.5,446.69 474.5,445.32 475.5,445.02 475.5,446.53" fill="#A8B4DC"/>
<polygon points="475.5,446.53 475.5,445.02 476.5,444.72 476.5,446.37" fill="#A8B4DC"/>
<polygon points="476.5,446.37 476.5,444.72 477.5,444.50 477.5,446.25" fill="#A8B4DC"/>
<polygon points="477.5,446.25 477.5,444.50 478.5,444.34 478.5,446.17" fill="#A8B4DC"/>
<polygon points="478.5,446.17 478.5,444.34 479.5,444.18 479.5,446.09" fill="#A8B4DC"/>
<polygon points="479.5,446.09 479.5,444.18 480.5,444.02 480.5,446.01" fill="#A8B4DC"/>
<polygon points="480.5,446.01 480.5,444.02 481.5,443.85 481.5,445.93" fill="#A8B4DC"/>
<polygon points="481.5,445.93 481.5,443.85 482.5,443.69 482.5,445.85" fill="#A8B4DC"/>
<polygon points="482.5,445.85 482.5,443.69 483.5,443.53 483.5,445.77" fill="#A8B4DC"/>
<polygon points="483.5,445.77 483.5,443.53 484.5,443.40 484.5,445.69" fill="#A8B4DC"/>
<polygon points="484.5,445.69 484.5,443.40 485.5,443.40 485.5,445.61" fill="#A8B4DC"/>
<polygon points="485.5,445.61 485.5,443.40 486.5,443.40 486.5,445.53" fill="#A8B4DC"/>
<polygon points="486.5,445.53 486.5,443.40 487.5,443.40 487.5,445.45" fill="#A8B4DC"/>
<polygon points="487.5,445.45 487.5,443.40 488.5,443.40 488.5,445.36" fill="#A8B4DC"/>
<polygon points="488.5,445.36 488.5,443.40 489.5,443.40 489.5,445.30" fill="#A8B4DC"/>
<polygon points="489.5,445.30 489.5,443.40 490.5,443.40 490.5,445.30" fill="#A8B4DC"/>
<polygon points="490.5,445.30 490.5,443.40 491.5,443.40 491.5,445.30" fill="#A8B4DC"/>
<polygon points="491.5,445.30 491.5,443.40 492.5,443.40 492.5,445.30" fill="#A8B4DC"/>
<polygon points="492.5,445.30 492.5,443.40 493.5,443.40 493.5,445.30" fill="#A8B4DC"/>
<polygon points="493.5,445.30 493.5,443.40 494.5,443.44 494.5,445.30" fill="#A8B4DC"/>
<polygon points="494.5,445.30 494.5,443.44 495.5,443.56 495.5,445.30" fill="#A8B4DC"/>
<polygon points="495.5,445.30 495.5,443.56 496.5,443.68 496.5,445.30" fill="#A8B4DC"/>
<polygon points="496.5,445.30 496.5,443.68 497.5,443.80 497.5,445.30" fill="#A8B4DC"/>
<polygon points="497.5,445.30 497.5,443.80 498.5,443.92 498.5,445.30" fill="#A8B4DC"/>
<polygon points="498.5,445.30 498.5,443.92 499.5,444.04 499.5,445.30" fill="#A8B4DC"/>
<polygon points="499.5,445.30 499.5,444.04 500.5,444.17 500.5,445.30" fill="#A8B4DC"/>
<polygon points="500.5,445.30 500.5,444.17 501.5,444.29 501.5,445.30" fill="#A8B4DC"/>
<polygon points="501.5,445.30 501.5,444.29 502.5,444.42 502.5,445.29" fill="#A8B4DC"/>
<polygon points="502.5,445.29 502.5,444.42 503.5,444.56 503.5,445.27" fill="#A8B4DC"/>
<polygon points="503.5,445.27 503.5,444.56 504.5,444.69 504.5,445.25" fill="#A8B4DC"/>
<polygon points="504.5,445.25 504.5,444.69 505.5,444.83 505.5,445.24" fill="#A8B4DC"/>
<polygon points="505.5,445.24 505.5,444.83 506.5,444.96 506.5,445.22" fill="#A8B4DC"/>
<polygon points="506.5,445.22 506.5,444.96 507.5,445.10 507.5,445.20" fill="#A8B4DC"/>
<polygon points="507.5,445.20 507.5,445.10 508.5,445.23 508.5,445.19" fill="#A8B4DC"/>
<polygon points="508.5,445.19 508.5,445.23 509.5,445.33 509.5,445.17" fill="#F4C8C8"/>
<polygon points="509.5,445.17 509.5,445.33 510.5,445.38 510.5,445.16" fill="#F4C8C8"/>
<polygon points="510.5,445.16 510.5,445.38 511.5,445.43 511.5,445.14" fill="#F4C8C8"/>
<polygon points="511.5,445.14 511.5,445.43 512.5,445.48 512.5,445.12" fill="#F4C8C8"/>
<polygon points="512.5,445.12 512.5,445.48 513.5,445.53 513.5,445.11" fill="#F4C8C8"/>
<polygon points="513.5,445.11 513.5,445.53 514.5,445.58 514.5,445.08" fill="#F4C8C8"/>
<polygon points="514.5,445.08 514.5,445.58 515.5,445.63 515.5,445.03" fill="#F4C8C8"/>
<polygon points="515.5,445.03 515.5,445.63 516.5,445.68 516.5,444.99" fill="#F4C8C8"/>
<polygon points="516.5,444.99 516.5,445.68 517.5,445.73 517.5,444.95" fill="#F4C8C8"/>
<polygon points="517.5,444.95 517.5,445.73 518.5,445.78 518.5,444.91" fill="#F4C8C8"/>
<polygon points="518.5,444.91 518.5,445.78 519.5,445.79 519.5,444.87" fill="#F4C8C8"/>
<polygon points="519.5,444.87 519.5,445.79 520.5,445.77 520.5,444.83" fill="#F4C8C8"/>
<polygon points="520.5,444.83 520.5,445.77 521.5,445.75 521.5,444.79" fill="#F4C8C8"/>
<polygon points="521.5,444.79 521.5,445.75 522.5,445.73 522.5,444.75" fill="#F4C8C8"/>
<polygon points="522.5,444.75 522.5,445.73 523.5,445.71 523.5,444.71" fill="#F4C8C8"/>
<polygon points="523.5,444.71 523.5,445.71 524.5,445.68 524.5,444.67" fill="#F4C8C8"/>
<polygon points="524.5,444.67 524.5,445.68 525.5,445.66 525.5,444.63" fill="#F4C8C8"/>
<polygon points="525.5,444.63 525.5,445.66 526.5,445.64 526.5,444.61" fill="#F4C8C8"/>
<polygon points="526.5,444.61 526.5,445.64 527.5,445.62 527.5,444.65" fill="#F4C8C8"/>
<polygon points="527.5,444.65 527.5,445.62 528.5,445.60 528.5,444.69" fill="#F4C8C8"/>
<polygon points="528.5,444.69 528.5,445.60 529.5,445.51 529.5,444.73" fill="#F4C8C8"/>
<polygon points="529.5,444.73 529.5,445.51 530.5,445.41 530.5,444.77" fill="#F4C8C8"/>
<polygon points="530.5,444.77 530.5,445.41 531.5,445.30 531.5,444.82" fill="#F4C8C8"/>
<polygon points="531.5,444.82 531.5,445.30 532.5,445.19 532.5,444.86" fill="#F4C8C8"/>
<polygon points="532.5,444.86 532.5,445.19 533.5,445.08 533.5,444.90" fill="#F4C8C8"/>
<polygon points="533.5,444.90 533.5,445.08 534.5,444.97 534.5,444.94" fill="#F4C8C8"/>
<polygon points="534.5,444.94 534.5,444.97 535.5,444.86 535.5,444.98" fill="#A8B4DC"/>
<polygon points="535.5,444.98 535.5,444.86 536.5,444.84 536.5,445.02" fill="#A8B4DC"/>
<polygon points="536.5,445.02 536.5,444.84 537.5,444.95 537.5,445.06" fill="#A8B4DC"/>
<polygon points="537.5,445.06 537.5,444.95 538.5,445.06 538.5,445.10" fill="#A8B4DC"/>
<polygon points="538.5,445.10 538.5,445.06 539.5,445.17 539.5,445.16" fill="#A8B4DC"/>
<polygon points="539.5,445.16 539.5,445.17 540.5,445.28 540.5,445.21" fill="#F4C8C8"/>
<polygon points="540.5,445.21 540.5,445.28 541.5,445.39 541.5,445.27" fill="#F4C8C8"/>
<polygon points="541.5,445.27 541.5,445.39 542.5,445.50 542.5,445.33" fill="#F4C8C8"/>
<polygon points="542.5,445.33 542.5,445.50 543.5,445.62 543.5,445.38" fill="#F4C8C8"/>
<polygon points="543.5,445.38 543.5,445.62 544.5,445.78 544.5,445.44" fill="#F4C8C8"/>
<polygon points="544.5,445.44 544.5,445.78 545.5,445.94 545.5,445.50" fill="#F4C8C8"/>
<polygon points="545.5,445.50 545.5,445.94 546.5,446.10 546.5,445.56" fill="#F4C8C8"/>
<polygon points="546.5,445.56 546.5,446.10 547.5,446.26 547.5,445.61" fill="#F4C8C8"/>
<polygon points="547.5,445.61 547.5,446.26 548.5,446.43 548.5,445.67" fill="#F4C8C8"/>
<polygon points="548.5,445.67 548.5,446.43 549.5,446.59 549.5,445.73" fill="#F4C8C8"/>
<polygon points="549.5,445.73 549.5,446.59 550.5,446.75 550.5,445.78" fill="#F4C8C8"/>
<polygon points="550.5,445.78 550.5,446.75 551.5,446.80 551.5,445.83" fill="#F4C8C8"/>
<polygon points="551.5,445.83 551.5,446.80 552.5,446.80 552.5,445.87" fill="#F4C8C8"/>
<polygon points="552.5,445.87 552.5,446.80 553.5,446.80 553.5,445.91" fill="#F4C8C8"/>
<polygon points="553.5,445.91 553.5,446.80 554.5,446.80 554.5,445.95" fill="#F4C8C8"/>
<polygon points="554.5,445.95 554.5,446.80 555.5,446.80 555.5,445.99" fill="#F4C8C8"/>
<polygon points="555.5,445.99 555.5,446.80 556.5,446.80 556.5,446.03" fill="#F4C8C8"/>
<polygon points="556.5,446.03 556.5,446.80 557.5,446.80 557.5,446.07" fill="#F4C8C8"/>
<polygon points="557.5,446.07 557.5,446.80 558.5,446.80 558.5,446.11" fill="#F4C8C8"/>
<polygon points="558.5,446.11 558.5,446.80 559.5,446.80 559.5,446.15" fill="#F4C8C8"/>
<polygon points="559.5,446.15 559.5,446.80 560.5,446.80 560.5,446.19" fill="#F4C8C8"/>
<polygon points="560.5,446.19 560.5,446.80 561.5,446.75 561.5,446.23" fill="#F4C8C8"/>
<polygon points="561.5,446.23 561.5,446.75 562.5,446.68 562.5,446.27" fill="#F4C8C8"/>
<polygon points="562.5,446.27 562.5,446.68 563.5,446.61 563.5,446.28" fill="#F4C8C8"/>
<polygon points="563.5,446.28 563.5,446.61 564.5,446.54 564.5,446.23" fill="#F4C8C8"/>
<polygon points="564.5,446.23 564.5,446.54 565.5,446.48 565.5,446.17" fill="#F4C8C8"/>
<polygon points="565.5,446.17 565.5,446.48 566.5,446.41 566.5,446.11" fill="#F4C8C8"/>
<polygon points="566.5,446.11 566.5,446.41 567.5,446.34 567.5,446.06" fill="#F4C8C8"/>
<polygon points="567.5,446.06 567.5,446.34 568.5,446.26 568.5,446.00" fill="#F4C8C8"/>
<polygon points="568.5,446.00 568.5,446.26 569.5,446.17 569.5,445.94" fill="#F4C8C8"/>
<polygon points="569.5,445.94 569.5,446.17 570.5,446.07 570.5,445.88" fill="#F4C8C8"/>
<polygon points="570.5,445.88 570.5,446.07 571.5,445.98 571.5,445.83" fill="#F4C8C8"/>
<polygon points="571.5,445.83 571.5,445.98 572.5,445.88 572.5,445.77" fill="#F4C8C8"/>
<polygon points="572.5,445.77 572.5,445.88 573.5,445.79 573.5,445.71" fill="#F4C8C8"/>
<polygon points="573.5,445.71 573.5,445.79 574.5,445.69 574.5,445.66" fill="#F4C8C8"/>
<polygon points="574.5,445.66 574.5,445.69 575.5,445.60 575.5,445.60" fill="#F4C8C8"/>
<polygon points="575.5,445.60 575.5,445.60 576.5,445.47 576.5,445.47" fill="#F4C8C8"/>
<polygon points="576.5,445.47 576.5,445.47 577.5,445.34 577.5,445.34" fill="#F4C8C8"/>
<polygon points="577.5,445.34 577.5,445.34 578.5,445.21 578.5,445.21" fill="#F4C8C8"/>
<polygon points="578.5,445.21 578.5,445.21 579.5,445.08 579.5,445.08" fill="#F4C8C8"/>
<polygon points="579.5,445.08 579.5,445.08 580.5,444.94 580.5,444.94" fill="#F4C8C8"/>
<polygon points="580.5,444.94 580.5,444.94 581.5,444.81 581.5,444.81" fill="#F4C8C8"/>
<polyline points="73.50,447.90 78.30,448.50 83.90,449.00 88.00,449.90 93.50,450.30 99.10,450.90 104.60,450.30 110.20,449.00 115.70,447.90 121.20,448.10 126.80,449.20 132.30,450.30 137.90,450.90 143.40,450.90 148.90,450.60 154.50,449.90 162.30,448.50 174.60,446.50 187.00,445.50 199.30,444.00 207.90,442.30 215.30,444.80 223.90,444.80 228.80,445.50 238.70,443.00 248.50,441.60 255.90,441.60 263.30,443.60 273.20,442.30 285.50,441.10 297.80,439.10 307.40,438.40 314.80,438.40 322.20,440.90 329.60,443.40 339.40,445.10 349.30,446.80 356.70,447.80 369.00,447.80 376.40,446.30 381.30,445.10 386.20,446.30 393.60,448.00 403.40,448.80 410.80,448.30 418.20,447.50 425.60,448.30 437.90,449.30 447.80,450.00 454.80,450.30 462.20,448.80 469.60,446.80 476.90,444.60 484.30,443.40 494.20,443.40 501.60,444.30 509.00,445.30 518.80,445.80 528.70,445.60 536.10,444.80 543.40,445.60 550.80,446.80 560.70,446.80 568.10,446.30 575.50,445.60 581.60,444.80" fill="none" stroke="#000000" stroke-width="1.25"/>
<polyline points="73.50,447.90 83.90,448.50 90.80,448.30 97.70,448.30 104.60,449.00 111.60,448.30 118.50,448.50 125.40,449.20 132.30,449.90 139.30,450.60 146.20,449.90 153.10,449.20 160.00,448.80 174.60,448.50 199.30,445.50 209.00,444.00 223.90,444.80 236.20,443.60 248.50,442.30 263.30,443.00 297.80,440.60 312.30,439.40 322.20,441.40 336.90,442.60 349.30,444.30 361.60,446.30 373.90,446.80 386.20,447.50 398.50,448.80 410.80,448.80 423.20,448.30 435.50,449.30 447.80,449.80 454.80,449.80 464.60,448.30 476.90,446.30 489.30,445.30 501.60,445.30 513.90,445.10 526.20,444.60 538.50,445.10 550.80,445.80 563.20,446.30 575.50,445.60 581.60,444.80" fill="none" stroke="#E04848" stroke-width="1"/>
<g shape-rendering="crispEdges">
<rect x="167" y="461" width="1" height="1" fill="#33CC33"/>
<rect x="170" y="461" width="1" height="1" fill="#33CC33"/>
<rect x="172" y="461" width="1" height="1" fill="#33CC33"/>
<rect x="175" y="461" width="1" height="1" fill="#33CC33"/>
<rect x="177" y="461" width="1" height="1" fill="#33CC33"/>
<rect x="180" y="461" width="1" height="1" fill="#33CC33"/>
<rect x="182" y="461" width="1" height="1" fill="#33CC33"/>
<rect x="185" y="461" width="1" height="1" fill="#33CC33"/>
<rect x="187" y="461" width="1" height="1" fill="#33CC33"/>
<rect x="190" y="461" width="1" height="1" fill="#33CC33"/>
<rect x="192" y="461" width="1" height="1" fill="#33CC33"/>
<rect x="195" y="461" width="1" height="1" fill="#33CC33"/>
<rect x="197" y="461" width="1" height="1" fill="#33CC33"/>
<rect x="200" y="461" width="1" height="1" fill="#33CC33"/>
<rect x="202" y="461" width="1" height="1" fill="#33CC33"/>
<rect x="205" y="461" width="1" height="1" fill="#33CC33"/>
<rect x="207" y="461" width="1" height="1" fill="#33CC33"/>
<rect x="210" y="461" width="1" height="1" fill="#33CC33"/>
<rect x="213" y="461" width="1" height="1" fill="#33CC33"/>
<rect x="215" y="461" width="1" height="1" fill="#33CC33"/>
<rect x="218" y="461" width="1" height="1" fill="#33CC33"/>
<rect x="220" y="461" width="1" height="1" fill="#33CC33"/>
<rect x="223" y="461" width="1" height="1" fill="#33CC33"/>
<rect x="225" y="461" width="1" height="1" fill="#33CC33"/>
<rect x="228" y="461" width="1" height="1" fill="#33CC33"/>
<rect x="230" y="461" width="1" height="1" fill="#33CC33"/>
<rect x="233" y="461" width="1" height="1" fill="#33CC33"/>
<rect x="235" y="461" width="1" height="1" fill="#33CC33"/>
<rect x="238" y="461" width="1" height="1" fill="#33CC33"/>
<rect x="240" y="461" width="1" height="1" fill="#33CC33"/>
<rect x="243" y="461" width="1" height="1" fill="#33CC33"/>
<rect x="245" y="461" width="1" height="1" fill="#33CC33"/>
<rect x="248" y="461" width="1" height="1" fill="#33CC33"/>
<rect x="250" y="461" width="1" height="1" fill="#33CC33"/>
<rect x="253" y="461" width="1" height="1" fill="#33CC33"/>
<rect x="255" y="461" width="1" height="1" fill="#33CC33"/>
<rect x="258" y="461" width="1" height="1" fill="#33CC33"/>
<rect x="260" y="461" width="1" height="1" fill="#33CC33"/>
<rect x="263" y="463" width="1" height="1" fill="#E04848"/>
<rect x="266" y="463" width="1" height="1" fill="#E04848"/>
<rect x="268" y="463" width="1" height="1" fill="#E04848"/>
<rect x="271" y="463" width="1" height="1" fill="#E04848"/>
<rect x="273" y="463" width="1" height="1" fill="#E04848"/>
<rect x="276" y="463" width="1" height="1" fill="#E04848"/>
<rect x="278" y="461" width="1" height="1" fill="#33CC33"/>
<rect x="281" y="461" width="1" height="1" fill="#33CC33"/>
<rect x="283" y="461" width="1" height="1" fill="#33CC33"/>
<rect x="286" y="461" width="1" height="1" fill="#33CC33"/>
<rect x="288" y="461" width="1" height="1" fill="#33CC33"/>
<rect x="291" y="461" width="1" height="1" fill="#33CC33"/>
<rect x="293" y="461" width="1" height="1" fill="#33CC33"/>
<rect x="296" y="461" width="1" height="1" fill="#33CC33"/>
<rect x="298" y="461" width="1" height="1" fill="#33CC33"/>
<rect x="301" y="461" width="1" height="1" fill="#33CC33"/>
<rect x="303" y="461" width="1" height="1" fill="#33CC33"/>
<rect x="306" y="461" width="1" height="1" fill="#33CC33"/>
<rect x="308" y="461" width="1" height="1" fill="#33CC33"/>
<rect x="311" y="461" width="1" height="1" fill="#33CC33"/>
<rect x="313" y="461" width="1" height="1" fill="#33CC33"/>
<rect x="316" y="463" width="1" height="1" fill="#E04848"/>
<rect x="319" y="463" width="1" height="1" fill="#E04848"/>
<rect x="321" y="463" width="1" height="1" fill="#E04848"/>
<rect x="324" y="463" width="1" height="1" fill="#E04848"/>
<rect x="326" y="463" width="1" height="2" fill="#E04848"/>
<rect x="329" y="463" width="1" height="1" fill="#E04848"/>
<rect x="331" y="463" width="1" height="1" fill="#E04848"/>
<rect x="334" y="463" width="1" height="1" fill="#E04848"/>
<rect x="336" y="463" width="1" height="1" fill="#E04848"/>
<rect x="339" y="463" width="1" height="1" fill="#E04848"/>
<rect x="341" y="463" width="1" height="1" fill="#E04848"/>
<rect x="344" y="463" width="1" height="1" fill="#E04848"/>
<rect x="346" y="463" width="1" height="1" fill="#E04848"/>
<rect x="349" y="463" width="1" height="1" fill="#E04848"/>
<rect x="351" y="463" width="1" height="1" fill="#E04848"/>
<rect x="354" y="463" width="1" height="1" fill="#E04848"/>
<rect x="356" y="463" width="1" height="1" fill="#E04848"/>
<rect x="359" y="461" width="1" height="1" fill="#33CC33"/>
<rect x="361" y="461" width="1" height="1" fill="#33CC33"/>
<rect x="364" y="463" width="1" height="1" fill="#E04848"/>
<rect x="366" y="463" width="1" height="1" fill="#E04848"/>
<rect x="369" y="463" width="1" height="1" fill="#E04848"/>
<rect x="371" y="463" width="1" height="1" fill="#E04848"/>
<rect x="374" y="461" width="1" height="1" fill="#33CC33"/>
<rect x="377" y="461" width="1" height="1" fill="#33CC33"/>
<rect x="379" y="461" width="1" height="1" fill="#33CC33"/>
<rect x="382" y="461" width="1" height="1" fill="#33CC33"/>
<rect x="384" y="461" width="1" height="1" fill="#33CC33"/>
<rect x="387" y="461" width="1" height="1" fill="#33CC33"/>
<rect x="389" y="461" width="1" height="1" fill="#33CC33"/>
<rect x="392" y="463" width="1" height="1" fill="#E04848"/>
<rect x="394" y="463" width="1" height="1" fill="#E04848"/>
<rect x="397" y="461" width="1" height="1" fill="#33CC33"/>
<rect x="399" y="461" width="1" height="1" fill="#33CC33"/>
<rect x="402" y="461" width="1" height="1" fill="#33CC33"/>
<rect x="404" y="463" width="1" height="1" fill="#E04848"/>
<rect x="407" y="463" width="1" height="1" fill="#E04848"/>
<rect x="409" y="463" width="1" height="1" fill="#E04848"/>
<rect x="412" y="463" width="1" height="1" fill="#E04848"/>
<rect x="414" y="463" width="1" height="2" fill="#E04848"/>
<rect x="417" y="463" width="1" height="1" fill="#E04848"/>
<rect x="419" y="463" width="1" height="1" fill="#E04848"/>
<rect x="422" y="463" width="1" height="1" fill="#E04848"/>
<rect x="424" y="463" width="1" height="1" fill="#E04848"/>
<rect x="427" y="463" width="1" height="1" fill="#E04848"/>
<rect x="430" y="463" width="1" height="1" fill="#E04848"/>
<rect x="432" y="463" width="1" height="1" fill="#E04848"/>
<rect x="435" y="463" width="1" height="1" fill="#E04848"/>
<rect x="437" y="463" width="1" height="1" fill="#E04848"/>
<rect x="440" y="461" width="1" height="1" fill="#33CC33"/>
<rect x="442" y="461" width="1" height="1" fill="#33CC33"/>
<rect x="445" y="461" width="1" height="1" fill="#33CC33"/>
<rect x="447" y="461" width="1" height="1" fill="#33CC33"/>
<rect x="450" y="461" width="1" height="1" fill="#33CC33"/>
<rect x="452" y="461" width="1" height="1" fill="#33CC33"/>
<rect x="455" y="461" width="1" height="1" fill="#33CC33"/>
<rect x="457" y="463" width="1" height="1" fill="#E04848"/>
<rect x="460" y="463" width="1" height="1" fill="#E04848"/>
<rect x="462" y="463" width="1" height="1" fill="#E04848"/>
<rect x="465" y="463" width="1" height="1" fill="#E04848"/>
<rect x="467" y="463" width="1" height="1" fill="#E04848"/>
<rect x="470" y="463" width="1" height="1" fill="#E04848"/>
<rect x="472" y="463" width="1" height="1" fill="#E04848"/>
<rect x="475" y="463" width="1" height="1" fill="#E04848"/>
<rect x="477" y="463" width="1" height="1" fill="#E04848"/>
<rect x="480" y="463" width="1" height="1" fill="#E04848"/>
<rect x="483" y="463" width="1" height="1" fill="#E04848"/>
<rect x="485" y="463" width="1" height="1" fill="#E04848"/>
<rect x="488" y="463" width="1" height="1" fill="#E04848"/>
<rect x="490" y="461" width="1" height="1" fill="#33CC33"/>
<rect x="493" y="461" width="1" height="1" fill="#33CC33"/>
<rect x="495" y="461" width="1" height="1" fill="#33CC33"/>
<rect x="498" y="461" width="1" height="1" fill="#33CC33"/>
<rect x="500" y="461" width="1" height="1" fill="#33CC33"/>
<rect x="503" y="461" width="1" height="1" fill="#33CC33"/>
<rect x="505" y="461" width="1" height="1" fill="#33CC33"/>
<rect x="508" y="461" width="1" height="1" fill="#33CC33"/>
<rect x="510" y="461" width="1" height="1" fill="#33CC33"/>
<rect x="513" y="460" width="1" height="2" fill="#33CC33"/>
<rect x="515" y="460" width="1" height="2" fill="#33CC33"/>
<rect x="518" y="460" width="1" height="2" fill="#33CC33"/>
<rect x="520" y="460" width="1" height="2" fill="#33CC33"/>
<rect x="523" y="460" width="1" height="2" fill="#33CC33"/>
<rect x="525" y="460" width="1" height="2" fill="#33CC33"/>
<rect x="528" y="460" width="1" height="2" fill="#33CC33"/>
<rect x="530" y="460" width="1" height="2" fill="#33CC33"/>
<rect x="533" y="460" width="1" height="2" fill="#33CC33"/>
<rect x="536" y="460" width="1" height="2" fill="#33CC33"/>
<rect x="538" y="460" width="1" height="2" fill="#33CC33"/>
<rect x="541" y="461" width="1" height="1" fill="#33CC33"/>
<rect x="543" y="461" width="1" height="1" fill="#33CC33"/>
<rect x="546" y="461" width="1" height="1" fill="#33CC33"/>
<rect x="548" y="461" width="1" height="1" fill="#33CC33"/>
<rect x="551" y="461" width="1" height="1" fill="#33CC33"/>
<rect x="553" y="461" width="1" height="1" fill="#33CC33"/>
<rect x="556" y="461" width="1" height="1" fill="#33CC33"/>
<rect x="558" y="461" width="1" height="1" fill="#33CC33"/>
<rect x="561" y="463" width="1" height="1" fill="#E04848"/>
<rect x="563" y="463" width="1" height="1" fill="#E04848"/>
<rect x="566" y="463" width="1" height="1" fill="#E04848"/>
<rect x="568" y="463" width="1" height="1" fill="#E04848"/>
<rect x="571" y="463" width="1" height="1" fill="#E04848"/>
<rect x="573" y="463" width="1" height="2" fill="#E04848"/>
<rect x="576" y="463" width="1" height="2" fill="#E04848"/>
<rect x="578" y="463" width="1" height="2" fill="#E04848"/>
<rect x="581" y="463" width="1" height="3" fill="#E04848"/>
</g>
<rect x="165" y="462" width="434" height="1" fill="#1C1CE0"/>
<polyline points="165.00,460.40 185.00,460.00 209.00,459.00 240.00,457.60 260.00,457.80 281.00,457.40 314.00,457.40 320.00,458.00 330.00,459.40 340.00,460.60 350.00,461.40 360.00,461.40 370.00,461.00 380.00,460.00 390.00,459.40 400.00,460.60 410.00,461.40 422.00,463.00 434.00,463.40 446.00,462.60 456.00,463.00 466.00,465.00 474.00,466.60 486.00,467.40 498.00,467.00 510.00,465.40 522.00,463.40 534.00,460.60 540.00,459.40 548.00,458.90 555.00,459.00 565.00,460.40 575.00,462.80 582.00,464.00" fill="none" stroke="#E04848" stroke-width="1"/>
<polyline points="165.00,459.40 185.00,459.40 205.00,458.60 233.00,457.80 235.00,457.00 259.00,457.00 263.00,458.00 273.00,458.00 277.00,457.40 302.00,457.40 314.00,457.40 320.00,459.40 326.00,460.60 336.00,461.40 346.00,462.00 354.00,462.00 360.00,461.00 366.00,461.40 372.00,461.00 376.00,459.40 382.00,458.60 388.00,459.00 394.00,460.00 402.00,460.60 410.00,462.00 414.00,464.00 434.00,464.00 440.00,463.00 450.00,462.00 456.00,463.00 462.00,464.60 470.00,467.00 478.00,468.00 486.00,468.00 494.00,466.60 502.00,465.40 510.00,464.00 518.00,462.00 526.00,460.00 534.00,458.00 540.00,457.90 548.00,457.20 555.00,458.50 565.00,461.00 575.00,464.70 582.00,467.00" fill="none" stroke="#2020E0" stroke-width="1.3"/>
<rect x="1" y="361" width="19" height="11" fill="#ECECEC"/>
<rect x="1" y="361" width="19" height="1" fill="#FAFAFA"/>
<rect x="1" y="361" width="1" height="11" fill="#FAFAFA"/>
<rect x="1" y="371" width="19" height="1" fill="#C8C8C8"/>
<rect x="19" y="361" width="1" height="11" fill="#C8C8C8"/>
<text x="3.1" y="368.8" font-size="8.6" fill="#000" text-anchor="start" textLength="14.1" lengthAdjust="spacingAndGlyphs" stroke="#000" stroke-width="0.15">%K</text>
<rect x="21" y="361" width="55" height="11" fill="#ECECEC"/>
<rect x="21" y="361" width="55" height="1" fill="#FAFAFA"/>
<rect x="21" y="361" width="1" height="11" fill="#FAFAFA"/>
<rect x="21" y="371" width="55" height="1" fill="#C8C8C8"/>
<rect x="75" y="361" width="1" height="11" fill="#C8C8C8"/>
<text x="22.8" y="368.8" font-size="8.6" fill="#E04848" text-anchor="start" textLength="50.4" lengthAdjust="spacingAndGlyphs" stroke="#E04848" stroke-width="0.05">%D (14 3 5)</text>
<rect x="1" y="378" width="45" height="12" fill="#ECECEC"/>
<rect x="1" y="378" width="45" height="1" fill="#FAFAFA"/>
<rect x="1" y="378" width="1" height="12" fill="#FAFAFA"/>
<rect x="1" y="389" width="45" height="1" fill="#C8C8C8"/>
<rect x="45" y="378" width="1" height="12" fill="#C8C8C8"/>
<text x="3.7" y="386" font-size="8.6" fill="#E04848" text-anchor="start" textLength="39.7" lengthAdjust="spacingAndGlyphs" stroke="#E04848" stroke-width="0.05">Mom (12)</text>
<rect x="1" y="397" width="40" height="11" fill="#ECECEC"/>
<rect x="1" y="397" width="40" height="1" fill="#FAFAFA"/>
<rect x="1" y="397" width="1" height="11" fill="#FAFAFA"/>
<rect x="1" y="407" width="40" height="1" fill="#C8C8C8"/>
<rect x="40" y="397" width="1" height="11" fill="#C8C8C8"/>
<text x="3.7" y="405" font-size="8.6" fill="#000" text-anchor="start" textLength="34.6" lengthAdjust="spacingAndGlyphs" stroke="#000" stroke-width="0.15">RSI (14)</text>
<rect x="1" y="420" width="45" height="11" fill="#ECECEC"/>
<rect x="1" y="420" width="45" height="1" fill="#FAFAFA"/>
<rect x="1" y="420" width="1" height="11" fill="#FAFAFA"/>
<rect x="1" y="430" width="45" height="1" fill="#C8C8C8"/>
<rect x="45" y="420" width="1" height="11" fill="#C8C8C8"/>
<text x="3.1" y="427.8" font-size="8.6" fill="#E04848" text-anchor="start" textLength="39.4" lengthAdjust="spacingAndGlyphs" stroke="#E04848" stroke-width="0.05">Volumen</text>
<rect x="1" y="437" width="22" height="11" fill="#ECECEC"/>
<rect x="1" y="437" width="22" height="1" fill="#FAFAFA"/>
<rect x="1" y="437" width="1" height="11" fill="#FAFAFA"/>
<rect x="1" y="447" width="22" height="1" fill="#C8C8C8"/>
<rect x="22" y="437" width="1" height="11" fill="#C8C8C8"/>
<text x="3.1" y="444.8" font-size="8.6" fill="#000" text-anchor="start" textLength="17.2" lengthAdjust="spacingAndGlyphs" stroke="#000" stroke-width="0.15">ADX</text>
<rect x="24" y="437" width="48" height="11" fill="#ECECEC"/>
<rect x="24" y="437" width="48" height="1" fill="#FAFAFA"/>
<rect x="24" y="437" width="1" height="11" fill="#FAFAFA"/>
<rect x="24" y="447" width="48" height="1" fill="#C8C8C8"/>
<rect x="71" y="437" width="1" height="11" fill="#C8C8C8"/>
<text x="25.8" y="444.8" font-size="8.6" fill="#E04848" text-anchor="start" textLength="44.4" lengthAdjust="spacingAndGlyphs" stroke="#E04848" stroke-width="0.05">ADXR (14)</text>
<rect x="1" y="456" width="63" height="11" fill="#ECECEC"/>
<rect x="1" y="456" width="63" height="1" fill="#FAFAFA"/>
<rect x="1" y="456" width="1" height="11" fill="#FAFAFA"/>
<rect x="1" y="466" width="63" height="1" fill="#C8C8C8"/>
<rect x="63" y="456" width="1" height="11" fill="#C8C8C8"/>
<text x="3.7" y="463.6" font-size="8.6" fill="#E04848" text-anchor="start" textLength="56.6" lengthAdjust="spacingAndGlyphs" stroke="#E04848" stroke-width="0.05">MACD-, señal</text>
<rect x="65" y="456" width="29" height="11" fill="#ECECEC"/>
<rect x="65" y="456" width="29" height="1" fill="#FAFAFA"/>
<rect x="65" y="456" width="1" height="11" fill="#FAFAFA"/>
<rect x="65" y="466" width="29" height="1" fill="#C8C8C8"/>
<rect x="93" y="456" width="1" height="11" fill="#C8C8C8"/>
<text x="67.4" y="463.6" font-size="8.6" fill="#E04848" text-anchor="start" textLength="23" lengthAdjust="spacingAndGlyphs" stroke="#E04848" stroke-width="0.05">Señal</text>
<rect x="95" y="456" width="70" height="11" fill="#ECECEC"/>
<rect x="95" y="456" width="70" height="1" fill="#FAFAFA"/>
<rect x="95" y="456" width="1" height="11" fill="#FAFAFA"/>
<rect x="95" y="466" width="70" height="1" fill="#C8C8C8"/>
<rect x="164" y="456" width="1" height="11" fill="#C8C8C8"/>
<text x="97.8" y="463.6" font-size="8.6" fill="#2020E0" text-anchor="start" textLength="65.5" lengthAdjust="spacingAndGlyphs" stroke="#2020E0" stroke-width="0.05">MACD (12 26 9)</text>
<rect x="600" y="362" width="3" height="1" fill="#A0A0A0"/>
<rect x="600" y="373" width="3" height="1" fill="#A0A0A0"/>
<rect x="600" y="385" width="3" height="1" fill="#A0A0A0"/>
<rect x="600" y="398" width="3" height="1" fill="#A0A0A0"/>
<rect x="600" y="415" width="3" height="1" fill="#A0A0A0"/>
<rect x="600" y="438" width="3" height="1" fill="#A0A0A0"/>
<rect x="600" y="462" width="3" height="1" fill="#A0A0A0"/>
<rect x="607" y="371.5" width="3" height="1.2" fill="#000"/>
<rect x="607" y="413.5" width="3" height="1.2" fill="#000"/>
<rect x="606" y="399" width="1" height="1.5" fill="#000"/><rect x="610.5" y="399" width="4" height="1.2" fill="#000"/><rect x="616.5" y="399" width="4" height="1.2" fill="#000"/>
<rect x="604.5" y="361.5" width="30" height="10" fill="url(#vbg)" stroke="#BDBDB8" stroke-width="1"/>
<text x="605.9" y="369.0" font-size="9.4" fill="#000" text-anchor="start" textLength="26" lengthAdjust="spacingAndGlyphs" stroke="#000" stroke-width="0.25">4,5068</text>
<rect x="604.5" y="378.5" width="33" height="12" fill="url(#vbg)" stroke="#BDBDB8" stroke-width="1"/>
<text x="605.9" y="388.0" font-size="9.4" fill="#E04848" text-anchor="start" textLength="29" lengthAdjust="spacingAndGlyphs" stroke="#E04848" stroke-width="0.25">-1,3900</text>
<rect x="604.5" y="400.5" width="30" height="12" fill="url(#vbg)" stroke="#BDBDB8" stroke-width="1"/>
<text x="605.9" y="410.0" font-size="9.4" fill="#000" text-anchor="start" textLength="26" lengthAdjust="spacingAndGlyphs" stroke="#000" stroke-width="0.25">31,468</text>
<rect x="604.5" y="420.5" width="35" height="10" fill="url(#vbg)" stroke="#BDBDB8" stroke-width="1"/>
<text x="605.9" y="428.0" font-size="9.4" fill="#E04848" text-anchor="start" textLength="31" lengthAdjust="spacingAndGlyphs" stroke="#E04848" stroke-width="0.25">473.618</text>
<rect x="604.5" y="437.5" width="30" height="12" fill="url(#vbg)" stroke="#BDBDB8" stroke-width="1"/>
<text x="605.9" y="447.0" font-size="9.4" fill="#000" text-anchor="start" textLength="26" lengthAdjust="spacingAndGlyphs" stroke="#000" stroke-width="0.25">31,047</text>
<rect x="604.5" y="456.5" width="33" height="10" fill="url(#vbg)" stroke="#BDBDB8" stroke-width="1"/>
<text x="605.9" y="464.0" font-size="9.4" fill="#E04848" text-anchor="start" textLength="29" lengthAdjust="spacingAndGlyphs" stroke="#E04848" stroke-width="0.25">-0,1629</text>
<rect x="31" y="469" width="1" height="5" fill="#A8A8A8"/>
<text x="23.7" y="482.6" font-size="9.3" fill="#000" text-anchor="start" textLength="13.5" lengthAdjust="spacingAndGlyphs" stroke="#000" stroke-width="0.1">dic</text>
<rect x="81" y="469" width="1" height="5" fill="#A8A8A8"/>
<text x="69.0" y="482.6" font-size="9.3" fill="#000" text-anchor="start" textLength="22.6" lengthAdjust="spacingAndGlyphs" stroke="#000" stroke-width="0.1">2014</text>
<rect x="137" y="469" width="1" height="5" fill="#A8A8A8"/>
<text x="129.1" y="482.6" font-size="9.3" fill="#000" text-anchor="start" textLength="14.2" lengthAdjust="spacingAndGlyphs" stroke="#000" stroke-width="0.1">feb</text>
<rect x="187" y="469" width="1" height="5" fill="#A8A8A8"/>
<text x="178.6" y="482.6" font-size="9.3" fill="#000" text-anchor="start" textLength="16.8" lengthAdjust="spacingAndGlyphs" stroke="#000" stroke-width="0.1">mar</text>
<rect x="240" y="469" width="1" height="5" fill="#A8A8A8"/>
<text x="232.55" y="482.6" font-size="9.3" fill="#000" text-anchor="start" textLength="14.7" lengthAdjust="spacingAndGlyphs" stroke="#000" stroke-width="0.1">abr</text>
<rect x="291" y="469" width="1" height="5" fill="#A8A8A8"/>
<text x="281.45" y="482.6" font-size="9.3" fill="#000" text-anchor="start" textLength="18.1" lengthAdjust="spacingAndGlyphs" stroke="#000" stroke-width="0.1">may</text>
<rect x="344" y="469" width="1" height="5" fill="#A8A8A8"/>
<text x="337.05" y="482.6" font-size="9.3" fill="#000" text-anchor="start" textLength="14.3" lengthAdjust="spacingAndGlyphs" stroke="#000" stroke-width="0.1">jun</text>
<rect x="397" y="469" width="1" height="5" fill="#A8A8A8"/>
<text x="391.2" y="482.6" font-size="9.3" fill="#000" text-anchor="start" textLength="10.4" lengthAdjust="spacingAndGlyphs" stroke="#000" stroke-width="0.1">jul</text>
<rect x="455" y="469" width="1" height="5" fill="#A8A8A8"/>
<text x="446.75" y="482.6" font-size="9.3" fill="#000" text-anchor="start" textLength="16.5" lengthAdjust="spacingAndGlyphs" stroke="#000" stroke-width="0.1">ago</text>
<rect x="508" y="469" width="1" height="5" fill="#A8A8A8"/>
<text x="499.70000000000005" y="482.6" font-size="9.3" fill="#000" text-anchor="start" textLength="15.8" lengthAdjust="spacingAndGlyphs" stroke="#000" stroke-width="0.1">sep</text>
<rect x="563" y="469" width="1" height="5" fill="#A8A8A8"/>
<text x="555.6" y="482.6" font-size="9.3" fill="#000" text-anchor="start" textLength="13.6" lengthAdjust="spacingAndGlyphs" stroke="#000" stroke-width="0.1">oct</text>
<g shape-rendering="crispEdges">
<rect x="6" y="8" width="1" height="11" fill="#A02020"/>
<rect x="3" y="10" width="7" height="7" fill="#A02020"/><rect x="4" y="11" width="5" height="5" fill="#E87070"/>
<rect x="14" y="3" width="1" height="16" fill="#00A000"/>
<rect x="11" y="6" width="7" height="10" fill="#00A000"/><rect x="12" y="7" width="5" height="8" fill="#70F070"/>
</g>
<text x="23.1" y="14" font-size="9.4" fill="#000" text-anchor="start" textLength="92.5" lengthAdjust="spacingAndGlyphs" stroke="#000" stroke-width="0.12">ACX - Acerinox SA (-)</text>
<text x="127" y="14" font-size="9.4" fill="#000" text-anchor="start" textLength="61.1" lengthAdjust="spacingAndGlyphs" stroke="#000" stroke-width="0.12">10,81 (-2,61%)</text>
<text x="200.6" y="14" font-size="9.4" fill="#000" text-anchor="start" textLength="26.5" lengthAdjust="spacingAndGlyphs" stroke="#000" stroke-width="0.12">Diario</text>
<text x="233.9" y="14" font-size="9.4" fill="#000" text-anchor="start" textLength="75" lengthAdjust="spacingAndGlyphs" stroke="#000" stroke-width="0.12">10 oct 2014 11:52</text>
<text x="578.9" y="14" font-size="9.4" fill="#000" text-anchor="start" textLength="67.4" lengthAdjust="spacingAndGlyphs" stroke="#000" stroke-width="0.12">IT-Finance.com</text>
<rect x="0.5" y="0.5" width="649" height="489" fill="none" stroke="#BCBCBC" stroke-width="1"/>
</g>
</svg></body></html>
